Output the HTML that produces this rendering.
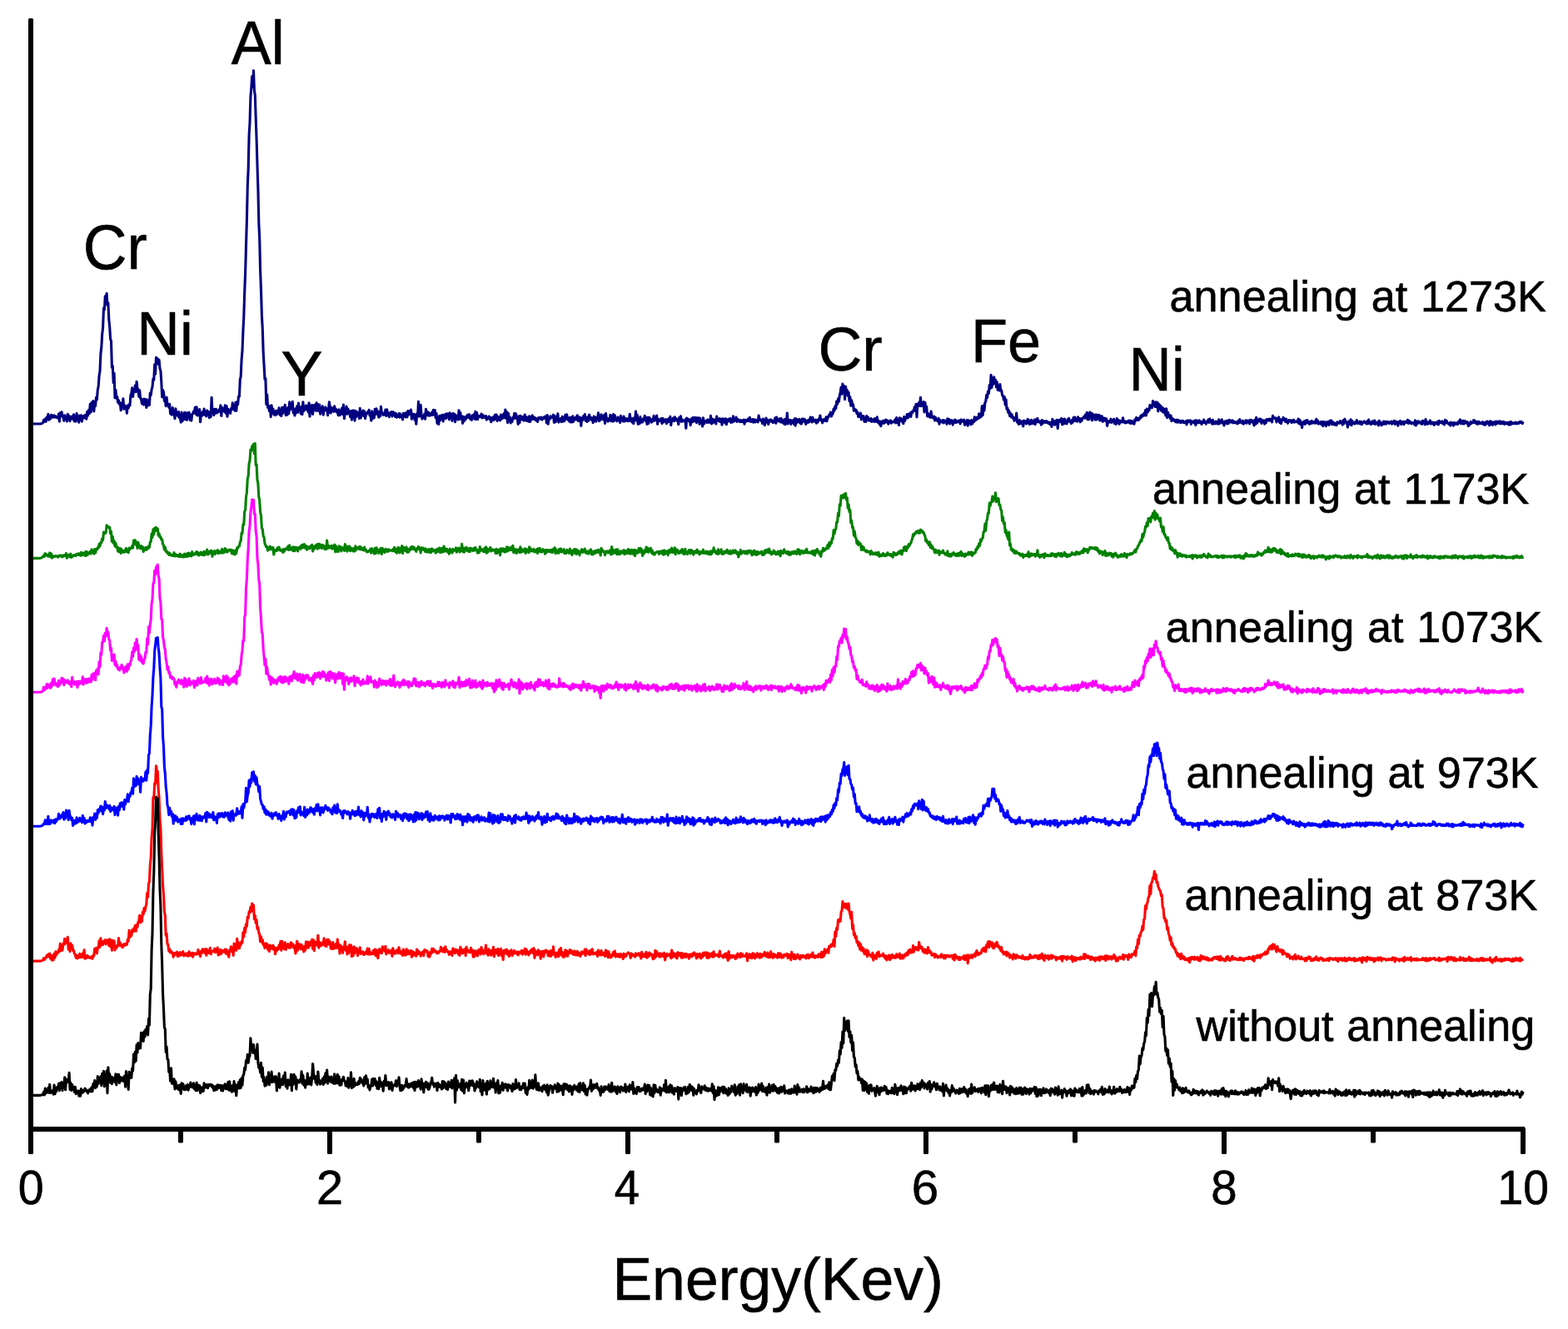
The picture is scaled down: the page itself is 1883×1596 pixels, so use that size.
<!DOCTYPE html>
<html lang="en"><head><meta charset="utf-8"><title>EDS spectra</title>
<style>
html,body{margin:0;padding:0;background:#fff;}
body{width:1883px;height:1596px;overflow:hidden;}
svg{display:block;}
text{font-family:"Liberation Sans",Arial,Helvetica,sans-serif;fill:#000;stroke:#000;stroke-width:0.6px;font-kerning:none;}
.c{fill:none;stroke-linejoin:round;stroke-linecap:butt;}
</style></head><body>
<svg width="1883" height="1596" viewBox="0 0 1883 1596">
<rect width="1883" height="1596" fill="#fff"/>
<polyline class="c" stroke="#000080" stroke-width="3.1" points="37.2,509.0 38.1,509.0 39.0,509.0 39.9,509.0 40.8,509.0 41.7,509.0 42.6,509.0 43.5,509.0 44.4,509.0 45.3,509.0 46.2,509.0 47.1,509.0 48.0,509.0 48.9,508.9 49.8,508.7 50.7,508.3 51.6,507.6 52.5,504.3 53.4,506.3 54.3,503.1 55.2,506.3 56.1,501.0 57.0,503.7 57.9,497.4 58.8,504.2 59.7,501.5 60.6,502.9 61.5,498.2 62.4,500.9 63.3,499.0 64.2,501.2 65.1,498.9 66.0,501.0 66.9,499.9 67.8,501.3 68.7,500.5 69.6,502.1 70.5,497.1 71.4,506.2 72.3,495.9 73.2,499.7 74.1,494.8 75.0,500.3 75.9,500.6 76.8,505.2 77.7,498.7 78.6,502.1 79.5,500.5 80.4,506.0 81.3,497.3 82.2,503.3 83.1,499.6 84.0,505.6 84.9,500.5 85.8,502.4 86.7,500.0 87.6,503.7 88.5,497.8 89.4,506.0 90.3,500.1 91.2,506.0 92.1,496.5 93.0,502.5 93.9,499.7 94.8,507.2 95.7,499.1 96.6,504.5 97.5,498.8 98.4,506.1 99.3,500.3 100.2,501.8 101.1,499.0 102.0,501.9 102.9,498.4 103.8,503.2 104.7,494.5 105.6,499.0 106.5,492.4 107.4,496.4 108.3,485.4 109.2,494.9 110.1,483.3 111.0,490.8 111.9,481.6 112.8,493.9 113.7,485.0 114.6,487.5 115.5,477.3 116.4,480.1 117.3,468.2 118.2,464.0 119.1,451.1 120.0,445.8 120.9,425.0 121.8,417.3 122.7,401.4 123.6,393.8 124.5,370.0 125.4,372.0 126.3,355.7 127.2,357.4 128.1,352.2 129.0,366.3 129.9,363.7 130.8,383.6 131.7,392.7 132.6,406.9 133.5,409.5 134.4,441.1 135.3,439.6 136.2,459.8 137.1,448.4 138.0,477.6 138.9,468.2 139.8,478.4 140.7,476.3 141.6,483.2 142.5,480.8 143.4,485.4 144.3,483.3 145.2,492.8 146.1,486.4 147.0,488.2 147.9,478.9 148.8,491.3 149.7,486.8 150.6,489.9 151.5,488.3 152.4,496.3 153.3,487.0 154.2,490.1 155.1,485.9 156.0,486.8 156.9,474.6 157.8,472.4 158.7,465.9 159.6,476.4 160.5,469.2 161.4,469.3 162.3,463.1 163.2,470.6 164.1,458.2 165.0,466.9 165.9,467.5 166.8,476.3 167.7,468.8 168.6,478.2 169.5,478.9 170.4,484.6 171.3,479.8 172.2,486.0 173.1,479.1 174.0,485.8 174.9,479.5 175.8,489.4 176.7,480.0 177.6,487.0 178.5,481.0 179.4,486.4 180.3,472.0 181.2,474.6 182.1,467.6 183.0,464.7 183.9,455.0 184.8,456.3 185.7,437.7 186.6,449.3 187.5,429.2 188.4,436.2 189.3,430.8 190.2,437.2 191.1,432.3 192.0,442.6 192.9,445.4 193.8,458.5 194.7,476.8 195.6,468.5 196.5,471.0 197.4,481.5 198.3,478.5 199.2,487.6 200.1,477.1 201.0,485.5 201.9,486.3 202.8,489.3 203.7,485.2 204.6,497.0 205.5,492.5 206.4,498.2 207.3,489.5 208.2,497.5 209.1,495.6 210.0,502.7 210.9,490.8 211.8,498.3 212.7,497.0 213.6,499.6 214.5,494.5 215.4,501.7 216.3,500.6 217.2,507.1 218.1,495.1 219.0,505.8 219.9,498.3 220.8,503.5 221.7,495.2 222.6,503.7 223.5,496.1 224.4,504.4 225.3,495.9 226.2,500.5 227.1,495.4 228.0,504.4 228.9,498.4 229.8,505.1 230.7,497.3 231.6,497.1 232.5,493.9 233.4,495.3 234.3,489.3 235.2,497.4 236.1,488.7 237.0,499.0 237.9,495.9 238.8,498.6 239.7,491.5 240.6,506.8 241.5,496.3 242.4,499.6 243.3,494.5 244.2,497.8 245.1,491.1 246.0,498.5 246.9,494.1 247.8,499.9 248.7,493.1 249.6,496.7 250.5,494.4 251.4,501.7 252.3,496.1 253.2,500.4 254.1,477.3 255.0,494.1 255.9,493.6 256.8,498.5 257.7,491.2 258.6,496.3 259.5,491.3 260.4,496.0 261.3,493.5 262.2,494.7 263.1,491.9 264.0,493.9 264.9,486.8 265.8,499.5 266.7,489.6 267.6,493.6 268.5,491.3 269.4,494.3 270.3,486.8 271.2,496.3 272.1,487.5 273.0,500.3 273.9,491.2 274.8,494.4 275.7,493.4 276.6,496.4 277.5,490.6 278.4,492.0 279.3,483.9 280.2,490.9 281.1,486.9 282.0,493.2 282.9,483.4 283.8,493.3 284.7,482.6 285.6,485.8 286.5,476.0 287.4,476.2 288.3,456.0 289.2,452.1 290.1,431.8 291.0,421.3 291.9,398.0 292.8,380.0 293.7,351.1 294.6,328.0 295.5,295.5 296.4,264.9 297.3,223.3 298.2,202.7 299.1,162.4 300.0,147.7 300.9,116.5 301.8,105.8 302.7,91.7 303.6,104.5 304.5,84.9 305.4,108.6 306.3,114.3 307.2,142.0 308.1,167.1 309.0,198.2 309.9,226.5 310.8,267.2 311.7,286.4 312.6,325.5 313.5,348.6 314.4,378.9 315.3,394.8 316.2,423.4 317.1,439.0 318.0,455.3 318.9,454.7 319.8,485.5 320.7,473.7 321.6,489.4 322.5,487.9 323.4,493.4 324.3,487.5 325.2,500.6 326.1,486.7 327.0,495.3 327.9,491.0 328.8,497.8 329.7,494.3 330.6,498.6 331.5,493.4 332.4,497.8 333.3,493.4 334.2,495.7 335.1,489.8 336.0,498.1 336.9,492.6 337.8,499.6 338.7,489.4 339.6,496.4 340.5,489.3 341.4,494.6 342.3,486.3 343.2,498.6 344.1,491.3 345.0,498.1 345.9,489.4 346.8,496.7 347.7,482.8 348.6,492.1 349.5,486.0 350.4,487.6 351.3,482.2 352.2,495.9 353.1,492.3 354.0,499.0 354.9,490.8 355.8,495.8 356.7,487.7 357.6,495.3 358.5,484.1 359.4,492.6 360.3,489.4 361.2,496.9 362.1,488.4 363.0,497.7 363.9,482.8 364.8,493.5 365.7,491.7 366.6,490.0 367.5,487.1 368.4,492.1 369.3,487.2 370.2,494.9 371.1,483.9 372.0,500.2 372.9,487.4 373.8,491.0 374.7,486.5 375.6,497.4 376.5,486.8 377.4,490.0 378.3,486.0 379.2,493.2 380.1,483.9 381.0,493.3 381.9,485.5 382.8,493.7 383.7,486.1 384.6,497.2 385.5,490.4 386.4,492.7 387.3,487.8 388.2,498.2 389.1,490.8 390.0,492.9 390.9,488.9 391.8,492.9 392.7,490.9 393.6,498.8 394.5,492.0 395.4,482.7 396.3,489.8 397.2,496.0 398.1,489.3 399.0,493.1 399.9,490.6 400.8,494.3 401.7,487.7 402.6,493.9 403.5,491.3 404.4,494.8 405.3,493.0 406.2,498.7 407.1,491.7 408.0,498.8 408.9,494.2 409.8,497.3 410.7,490.0 411.6,497.2 412.5,486.1 413.4,502.7 414.3,496.1 415.2,496.2 416.1,488.1 417.0,497.3 417.9,491.1 418.8,495.7 419.7,493.7 420.6,500.6 421.5,493.8 422.4,504.2 423.3,493.1 424.2,500.4 425.1,493.0 426.0,505.1 426.9,493.3 427.8,500.4 428.7,494.8 429.6,498.5 430.5,495.7 431.4,502.5 432.3,490.2 433.2,502.0 434.1,495.8 435.0,497.6 435.9,493.1 436.8,499.6 437.7,493.9 438.6,502.7 439.5,496.7 440.4,497.1 441.3,495.1 442.2,495.5 443.1,492.3 444.0,499.1 444.9,496.5 445.8,505.1 446.7,493.9 447.6,502.8 448.5,497.8 449.4,501.7 450.3,491.3 451.2,497.5 452.1,490.9 453.0,497.1 453.9,494.1 454.8,501.1 455.7,494.6 456.6,499.9 457.5,488.4 458.4,496.1 459.3,495.7 460.2,498.4 461.1,496.5 462.0,498.0 462.9,492.1 463.8,499.5 464.7,491.8 465.6,498.3 466.5,495.6 467.4,500.7 468.3,495.7 469.2,496.3 470.1,494.5 471.0,500.1 471.9,494.8 472.8,498.1 473.7,495.8 474.6,500.4 475.5,496.6 476.4,501.2 477.3,498.7 478.2,500.3 479.1,496.6 480.0,501.3 480.9,496.9 481.8,500.4 482.7,500.0 483.6,503.9 484.5,496.4 485.4,498.9 486.3,496.3 487.2,501.0 488.1,495.6 489.0,500.8 489.9,493.5 490.8,498.1 491.7,493.9 492.6,497.2 493.5,492.1 494.4,503.3 495.3,497.0 496.2,497.7 497.1,497.4 498.0,504.4 498.9,498.3 499.8,509.3 500.7,496.8 501.6,500.1 502.5,482.3 503.4,500.1 504.3,495.9 505.2,486.3 506.1,498.9 507.0,503.1 507.9,500.0 508.8,501.6 509.7,497.4 510.6,503.2 511.5,491.3 512.4,498.7 513.3,494.4 514.2,498.9 515.1,495.5 516.0,499.2 516.9,498.7 517.8,498.5 518.7,495.2 519.6,498.3 520.5,492.3 521.4,498.0 522.3,492.5 523.2,501.8 524.1,496.5 525.0,508.4 525.9,501.5 526.8,509.5 527.7,499.5 528.6,504.8 529.5,499.0 530.4,503.1 531.3,498.3 532.2,506.0 533.1,498.5 534.0,502.3 534.9,497.4 535.8,502.4 536.7,496.8 537.6,498.7 538.5,496.8 539.4,503.8 540.3,495.8 541.2,501.1 542.1,498.0 543.0,505.4 543.9,496.5 544.8,499.6 545.7,497.2 546.6,506.8 547.5,498.9 548.4,502.9 549.3,502.0 550.2,504.0 551.1,492.7 552.0,503.5 552.9,495.5 553.8,501.9 554.7,499.8 555.6,508.4 556.5,500.3 557.4,505.6 558.3,501.4 559.2,503.6 560.1,499.9 561.0,501.5 561.9,498.0 562.8,501.5 563.7,497.8 564.6,503.1 565.5,500.4 566.4,504.4 567.3,498.9 568.2,501.2 569.1,497.9 570.0,503.2 570.9,494.4 571.8,503.6 572.7,495.6 573.6,503.6 574.5,499.6 575.4,500.4 576.3,499.3 577.2,500.7 578.1,497.0 579.0,501.9 579.9,498.6 580.8,501.4 581.7,500.0 582.6,501.5 583.5,499.5 584.4,504.1 585.3,502.1 586.2,502.5 587.1,500.0 588.0,503.4 588.9,501.4 589.8,506.7 590.7,501.7 591.6,504.6 592.5,500.8 593.4,504.3 594.3,498.4 595.2,502.6 596.1,497.9 597.0,505.4 597.9,500.2 598.8,504.1 599.7,501.2 600.6,505.0 601.5,498.1 602.4,503.3 603.3,498.7 604.2,501.9 605.1,496.5 606.0,501.6 606.9,492.0 607.8,502.6 608.7,494.9 609.6,507.6 610.5,496.4 611.4,503.6 612.3,500.9 613.2,508.0 614.1,505.1 615.0,506.4 615.9,501.3 616.8,502.3 617.7,496.4 618.6,502.4 619.5,496.9 620.4,501.6 621.3,501.7 622.2,509.4 623.1,499.8 624.0,507.6 624.9,499.4 625.8,503.5 626.7,500.7 627.6,504.1 628.5,500.3 629.4,505.1 630.3,498.0 631.2,504.7 632.1,500.8 633.0,505.5 633.9,501.2 634.8,506.1 635.7,499.8 636.6,506.5 637.5,500.5 638.4,503.9 639.3,498.9 640.2,502.9 641.1,500.8 642.0,503.8 642.9,501.9 643.8,504.8 644.7,503.0 645.6,506.4 646.5,501.7 647.4,502.9 648.3,501.4 649.2,503.1 650.1,501.2 651.0,504.1 651.9,502.1 652.8,502.5 653.7,500.5 654.6,502.0 655.5,499.9 656.4,507.8 657.3,498.6 658.2,509.3 659.1,502.5 660.0,503.5 660.9,499.8 661.8,501.8 662.7,500.7 663.6,501.2 664.5,498.2 665.4,507.4 666.3,499.6 667.2,506.8 668.1,500.5 669.0,504.1 669.9,496.8 670.8,507.1 671.7,503.8 672.6,505.7 673.5,502.5 674.4,506.6 675.3,500.2 676.2,506.1 677.1,501.6 678.0,505.6 678.9,498.4 679.8,502.6 680.7,497.8 681.6,503.9 682.5,501.7 683.4,505.8 684.3,501.5 685.2,506.9 686.1,501.3 687.0,507.0 687.9,499.9 688.8,506.1 689.7,502.3 690.6,503.7 691.5,501.2 692.4,503.9 693.3,498.7 694.2,505.4 695.1,500.8 696.0,505.4 696.9,501.4 697.8,511.4 698.7,502.1 699.6,504.5 700.5,499.9 701.4,503.0 702.3,497.5 703.2,505.3 704.1,502.0 705.0,506.4 705.9,500.6 706.8,505.1 707.7,498.0 708.6,503.6 709.5,501.2 710.4,504.2 711.3,503.0 712.2,507.6 713.1,500.0 714.0,505.6 714.9,500.9 715.8,506.1 716.7,501.4 717.6,503.2 718.5,495.9 719.4,505.7 720.3,502.6 721.2,504.4 722.1,497.8 723.0,502.6 723.9,499.9 724.8,504.1 725.7,498.4 726.6,508.5 727.5,496.6 728.4,502.2 729.3,502.3 730.2,506.1 731.1,503.2 732.0,504.9 732.9,498.3 733.8,505.5 734.7,499.8 735.6,506.1 736.5,497.6 737.4,505.5 738.3,498.7 739.2,503.9 740.1,502.6 741.0,505.8 741.9,501.0 742.8,504.0 743.7,502.2 744.6,507.5 745.5,499.4 746.4,504.7 747.3,502.2 748.2,505.9 749.1,500.0 750.0,506.0 750.9,502.4 751.8,505.1 752.7,502.8 753.6,505.5 754.5,505.6 755.4,504.7 756.3,497.2 757.2,505.5 758.1,502.2 759.0,506.9 759.9,502.8 760.8,508.8 761.7,501.7 762.6,504.4 763.5,494.1 764.4,505.1 765.3,498.3 766.2,509.4 767.1,505.5 768.0,508.8 768.9,500.6 769.8,507.2 770.7,504.0 771.6,507.0 772.5,502.8 773.4,504.3 774.3,499.2 775.2,505.3 776.1,501.8 777.0,509.4 777.9,501.3 778.8,508.6 779.7,501.3 780.6,503.0 781.5,503.5 782.4,507.2 783.3,503.9 784.2,505.6 785.1,499.4 786.0,505.1 786.9,501.4 787.8,504.4 788.7,499.1 789.6,509.4 790.5,503.2 791.4,505.8 792.3,504.3 793.2,505.7 794.1,502.7 795.0,508.5 795.9,502.2 796.8,506.9 797.7,504.2 798.6,505.7 799.5,503.7 800.4,508.8 801.3,504.1 802.2,507.0 803.1,502.5 804.0,505.9 804.9,500.4 805.8,510.6 806.7,503.7 807.6,504.4 808.5,502.0 809.4,505.7 810.3,500.7 811.2,504.7 812.1,502.6 813.0,505.2 813.9,504.5 814.8,509.7 815.7,501.6 816.6,504.8 817.5,499.7 818.4,506.5 819.3,503.9 820.2,505.7 821.1,505.5 822.0,505.9 822.9,503.8 823.8,514.3 824.7,502.0 825.6,503.6 826.5,503.3 827.4,505.6 828.3,504.5 829.2,510.6 830.1,503.1 831.0,506.9 831.9,501.6 832.8,506.2 833.7,501.5 834.6,505.3 835.5,501.5 836.4,507.6 837.3,501.8 838.2,504.4 839.1,501.8 840.0,509.3 840.9,502.4 841.8,507.5 842.7,505.6 843.6,512.0 844.5,501.9 845.4,509.2 846.3,505.7 847.2,507.0 848.1,505.2 849.0,507.4 849.9,503.9 850.8,507.2 851.7,504.5 852.6,507.2 853.5,499.4 854.4,508.9 855.3,503.0 856.2,507.8 857.1,503.8 858.0,505.6 858.9,504.4 859.8,509.0 860.7,500.0 861.6,504.8 862.5,503.1 863.4,505.9 864.3,502.6 865.2,506.4 866.1,503.6 867.0,510.1 867.9,502.7 868.8,505.8 869.7,503.4 870.6,507.9 871.5,502.9 872.4,509.7 873.3,504.0 874.2,506.1 875.1,503.3 876.0,505.6 876.9,502.6 877.8,507.5 878.7,503.7 879.6,507.0 880.5,499.8 881.4,506.0 882.3,503.1 883.2,505.0 884.1,501.1 885.0,506.5 885.9,503.6 886.8,505.1 887.7,504.6 888.6,506.7 889.5,504.6 890.4,506.5 891.3,505.0 892.2,506.6 893.1,504.2 894.0,509.2 894.9,504.2 895.8,505.8 896.7,504.5 897.6,505.7 898.5,503.2 899.4,505.5 900.3,501.2 901.2,506.2 902.1,504.0 903.0,506.5 903.9,503.6 904.8,507.1 905.7,503.8 906.6,507.0 907.5,504.2 908.4,505.8 909.3,505.0 910.2,506.9 911.1,499.1 912.0,503.3 912.9,503.7 913.8,505.3 914.7,504.5 915.6,508.6 916.5,503.0 917.4,505.1 918.3,510.7 919.2,507.3 920.1,502.1 921.0,506.9 921.9,504.8 922.8,509.6 923.7,504.4 924.6,505.0 925.5,503.9 926.4,506.3 927.3,504.8 928.2,507.6 929.1,506.0 930.0,506.9 930.9,501.8 931.8,508.2 932.7,501.0 933.6,505.5 934.5,503.6 935.4,505.9 936.3,502.8 937.2,506.7 938.1,502.5 939.0,507.3 939.9,505.6 940.8,508.4 941.7,503.9 942.6,509.8 943.5,503.1 944.4,508.9 945.3,496.1 946.2,508.9 947.1,504.5 948.0,505.1 948.9,504.4 949.8,509.4 950.7,505.1 951.6,507.3 952.5,504.9 953.4,509.3 954.3,502.8 955.2,511.2 956.1,502.9 957.0,507.6 957.9,504.3 958.8,506.2 959.7,503.4 960.6,508.0 961.5,504.3 962.4,509.1 963.3,503.1 964.2,506.3 965.1,503.1 966.0,506.2 966.9,503.9 967.8,509.5 968.7,505.5 969.6,507.3 970.5,504.6 971.4,507.1 972.3,504.2 973.2,501.1 974.1,502.9 975.0,507.0 975.9,501.4 976.8,506.1 977.7,504.6 978.6,505.9 979.5,504.1 980.4,508.2 981.3,504.6 982.2,507.0 983.1,503.2 984.0,504.0 984.9,499.0 985.8,504.8 986.7,504.6 987.6,507.8 988.5,503.7 989.4,505.2 990.3,503.5 991.2,505.4 992.1,500.7 993.0,505.7 993.9,500.8 994.8,501.2 995.7,498.2 996.6,498.7 997.5,495.1 998.4,499.9 999.3,497.6 1000.2,496.9 1001.1,491.0 1002.0,493.2 1002.9,487.9 1003.8,490.5 1004.7,482.0 1005.6,485.2 1006.5,478.9 1007.4,482.2 1008.3,475.3 1009.2,471.1 1010.1,465.0 1011.0,473.1 1011.9,461.1 1012.8,468.2 1013.7,463.6 1014.6,479.6 1015.5,464.2 1016.4,469.0 1017.3,468.7 1018.2,475.2 1019.1,471.1 1020.0,481.6 1020.9,476.8 1021.8,487.3 1022.7,480.8 1023.6,486.7 1024.5,485.7 1025.4,493.3 1026.3,491.2 1027.2,493.1 1028.1,492.3 1029.0,496.6 1029.9,494.8 1030.8,500.6 1031.7,497.4 1032.6,500.2 1033.5,496.1 1034.4,504.0 1035.3,499.5 1036.2,502.3 1037.1,499.7 1038.0,506.4 1038.9,503.4 1039.8,506.5 1040.7,499.5 1041.6,504.5 1042.5,501.0 1043.4,505.0 1044.3,503.2 1045.2,505.3 1046.1,502.5 1047.0,506.4 1047.9,504.3 1048.8,505.7 1049.7,503.0 1050.6,506.5 1051.5,502.7 1052.4,506.2 1053.3,500.9 1054.2,507.2 1055.1,505.4 1056.0,509.1 1056.9,506.1 1057.8,511.7 1058.7,506.2 1059.6,508.3 1060.5,505.3 1061.4,508.3 1062.3,505.1 1063.2,507.4 1064.1,504.2 1065.0,506.7 1065.9,505.0 1066.8,509.2 1067.7,506.1 1068.6,507.2 1069.5,504.9 1070.4,508.2 1071.3,506.3 1072.2,506.5 1073.1,507.0 1074.0,506.3 1074.9,503.9 1075.8,507.9 1076.7,501.6 1077.6,507.4 1078.5,505.6 1079.4,510.5 1080.3,501.7 1081.2,503.9 1082.1,502.6 1083.0,506.0 1083.9,504.2 1084.8,508.8 1085.7,500.5 1086.6,505.5 1087.5,502.3 1088.4,502.1 1089.3,497.5 1090.2,502.0 1091.1,497.4 1092.0,500.1 1092.9,496.1 1093.8,500.5 1094.7,494.9 1095.6,495.9 1096.5,493.2 1097.4,493.3 1098.3,488.9 1099.2,493.5 1100.1,485.3 1101.0,501.0 1101.9,485.2 1102.8,485.8 1103.7,483.4 1104.6,487.5 1105.5,477.2 1106.4,487.8 1107.3,483.7 1108.2,487.1 1109.1,482.6 1110.0,495.0 1110.9,483.3 1111.8,491.1 1112.7,488.3 1113.6,499.9 1114.5,496.4 1115.4,500.1 1116.3,499.0 1117.2,501.4 1118.1,494.0 1119.0,501.2 1119.9,500.2 1120.8,501.9 1121.7,500.1 1122.6,505.0 1123.5,501.3 1124.4,504.6 1125.3,503.8 1126.2,505.8 1127.1,502.3 1128.0,509.2 1128.9,504.5 1129.8,506.5 1130.7,505.3 1131.6,507.1 1132.5,504.5 1133.4,507.9 1134.3,504.9 1135.2,506.3 1136.1,505.4 1137.0,509.4 1137.9,502.7 1138.8,507.5 1139.7,503.5 1140.6,508.9 1141.5,504.5 1142.4,506.8 1143.3,504.9 1144.2,510.3 1145.1,505.4 1146.0,507.4 1146.9,504.1 1147.8,507.7 1148.7,505.4 1149.6,507.0 1150.5,505.3 1151.4,506.5 1152.3,504.9 1153.2,509.0 1154.1,504.0 1155.0,506.0 1155.9,505.3 1156.8,506.4 1157.7,504.2 1158.6,510.4 1159.5,506.4 1160.4,508.8 1161.3,504.5 1162.2,511.3 1163.1,504.7 1164.0,508.5 1164.9,506.1 1165.8,509.8 1166.7,504.6 1167.6,509.1 1168.5,505.5 1169.4,506.7 1170.3,500.9 1171.2,505.1 1172.1,501.6 1173.0,503.6 1173.9,501.4 1174.8,502.6 1175.7,496.8 1176.6,501.6 1177.5,497.1 1178.4,500.3 1179.3,487.8 1180.2,498.6 1181.1,487.0 1182.0,493.1 1182.9,483.5 1183.8,481.9 1184.7,474.5 1185.6,477.6 1186.5,470.0 1187.4,472.3 1188.3,462.4 1189.2,466.4 1190.1,450.3 1191.0,465.5 1191.9,453.8 1192.8,461.4 1193.7,452.9 1194.6,457.7 1195.5,456.0 1196.4,464.8 1197.3,458.9 1198.2,468.3 1199.1,464.0 1200.0,469.0 1200.9,461.6 1201.8,469.1 1202.7,468.8 1203.6,474.7 1204.5,475.3 1205.4,480.1 1206.3,476.6 1207.2,486.1 1208.1,479.9 1209.0,491.3 1209.9,490.1 1210.8,495.5 1211.7,493.2 1212.6,499.5 1213.5,496.3 1214.4,500.9 1215.3,498.1 1216.2,502.0 1217.1,501.1 1218.0,505.2 1218.9,502.3 1219.8,504.5 1220.7,496.1 1221.6,507.2 1222.5,505.9 1223.4,509.5 1224.3,504.5 1225.2,508.8 1226.1,506.0 1227.0,508.7 1227.9,506.2 1228.8,511.9 1229.7,505.0 1230.6,506.9 1231.5,505.9 1232.4,509.0 1233.3,506.4 1234.2,503.3 1235.1,506.5 1236.0,509.4 1236.9,505.0 1237.8,509.1 1238.7,504.3 1239.6,508.4 1240.5,506.9 1241.4,508.6 1242.3,504.1 1243.2,509.6 1244.1,503.8 1245.0,506.8 1245.9,502.4 1246.8,506.8 1247.7,505.6 1248.6,507.2 1249.5,506.2 1250.4,510.2 1251.3,504.5 1252.2,508.5 1253.1,505.6 1254.0,507.0 1254.9,505.8 1255.8,507.5 1256.7,505.7 1257.6,507.6 1258.5,506.8 1259.4,508.6 1260.3,507.0 1261.2,509.9 1262.1,508.0 1263.0,512.4 1263.9,503.4 1264.8,508.5 1265.7,506.3 1266.6,510.3 1267.5,505.3 1268.4,507.7 1269.3,504.3 1270.2,514.5 1271.1,504.9 1272.0,505.9 1272.9,504.2 1273.8,506.6 1274.7,502.5 1275.6,509.9 1276.5,503.9 1277.4,508.9 1278.3,503.1 1279.2,508.4 1280.1,506.1 1281.0,508.9 1281.9,503.9 1282.8,506.0 1283.7,502.3 1284.6,506.4 1285.5,505.3 1286.4,508.6 1287.3,504.7 1288.2,507.2 1289.1,501.6 1290.0,505.4 1290.9,501.0 1291.8,505.5 1292.7,503.7 1293.6,506.2 1294.5,500.8 1295.4,504.3 1296.3,502.7 1297.2,506.8 1298.1,502.7 1299.0,505.3 1299.9,502.4 1300.8,501.9 1301.7,500.3 1302.6,502.1 1303.5,498.1 1304.4,501.8 1305.3,495.2 1306.2,503.9 1307.1,496.5 1308.0,503.8 1308.9,495.0 1309.8,500.0 1310.7,496.1 1311.6,504.9 1312.5,497.3 1313.4,501.3 1314.3,499.2 1315.2,504.1 1316.1,497.9 1317.0,504.0 1317.9,498.5 1318.8,502.2 1319.7,498.2 1320.6,504.9 1321.5,499.8 1322.4,504.6 1323.3,499.8 1324.2,506.4 1325.1,502.0 1326.0,505.3 1326.9,502.3 1327.8,504.9 1328.7,503.0 1329.6,511.4 1330.5,506.0 1331.4,507.3 1332.3,505.5 1333.2,506.8 1334.1,503.2 1335.0,507.5 1335.9,505.0 1336.8,505.9 1337.7,503.3 1338.6,508.7 1339.5,505.7 1340.4,509.4 1341.3,502.6 1342.2,507.5 1343.1,504.6 1344.0,509.3 1344.9,505.2 1345.8,507.1 1346.7,506.2 1347.6,506.8 1348.5,501.8 1349.4,507.0 1350.3,505.7 1351.2,507.8 1352.1,506.0 1353.0,507.6 1353.9,506.0 1354.8,506.9 1355.7,505.0 1356.6,508.2 1357.5,505.3 1358.4,508.3 1359.3,505.5 1360.2,508.4 1361.1,507.0 1362.0,509.2 1362.9,503.8 1363.8,505.2 1364.7,501.3 1365.6,504.5 1366.5,502.6 1367.4,504.4 1368.3,501.9 1369.2,502.4 1370.1,499.0 1371.0,500.8 1371.9,498.3 1372.8,499.3 1373.7,496.5 1374.6,498.8 1375.5,492.8 1376.4,498.9 1377.3,491.1 1378.2,495.1 1379.1,493.0 1380.0,492.8 1380.9,486.6 1381.8,489.8 1382.7,487.2 1383.6,489.5 1384.5,481.5 1385.4,484.3 1386.3,483.9 1387.2,488.4 1388.1,482.9 1389.0,488.8 1389.9,483.2 1390.8,493.9 1391.7,485.4 1392.6,487.3 1393.5,487.1 1394.4,493.1 1395.3,488.9 1396.2,494.5 1397.1,490.2 1398.0,495.7 1398.9,491.5 1399.8,499.0 1400.7,490.9 1401.6,501.6 1402.5,495.1 1403.4,499.3 1404.3,498.4 1405.2,502.5 1406.1,499.2 1407.0,505.7 1407.9,502.4 1408.8,504.2 1409.7,503.9 1410.6,505.9 1411.5,504.6 1412.4,506.9 1413.3,504.2 1414.2,507.2 1415.1,504.5 1416.0,506.8 1416.9,505.8 1417.8,507.6 1418.7,505.4 1419.6,506.9 1420.5,505.4 1421.4,507.6 1422.3,506.6 1423.2,507.6 1424.1,505.8 1425.0,509.9 1425.9,505.1 1426.8,506.8 1427.7,505.0 1428.6,506.2 1429.5,504.9 1430.4,509.4 1431.3,506.1 1432.2,507.2 1433.1,505.9 1434.0,507.9 1434.9,505.1 1435.8,510.5 1436.7,504.8 1437.6,508.0 1438.5,505.5 1439.4,507.7 1440.3,504.9 1441.2,507.5 1442.1,506.7 1443.0,509.6 1443.9,506.4 1444.8,507.3 1445.7,504.1 1446.6,507.6 1447.5,507.2 1448.4,509.1 1449.3,506.1 1450.2,506.8 1451.1,503.9 1452.0,507.4 1452.9,503.1 1453.8,506.6 1454.7,506.2 1455.6,509.1 1456.5,504.3 1457.4,508.9 1458.3,507.0 1459.2,508.9 1460.1,506.1 1461.0,508.3 1461.9,506.7 1462.8,509.2 1463.7,503.9 1464.6,508.8 1465.5,507.1 1466.4,507.3 1467.3,503.8 1468.2,508.2 1469.1,507.2 1470.0,511.0 1470.9,506.0 1471.8,507.5 1472.7,505.5 1473.6,508.9 1474.5,505.1 1475.4,508.4 1476.3,504.2 1477.2,506.9 1478.1,505.4 1479.0,507.1 1479.9,504.9 1480.8,507.9 1481.7,506.1 1482.6,507.5 1483.5,506.7 1484.4,508.1 1485.3,507.0 1486.2,508.9 1487.1,505.4 1488.0,507.6 1488.9,503.7 1489.8,507.1 1490.7,506.8 1491.6,508.1 1492.5,505.3 1493.4,509.2 1494.3,507.0 1495.2,507.7 1496.1,504.8 1497.0,508.2 1497.9,505.2 1498.8,506.3 1499.7,505.2 1500.6,508.9 1501.5,504.3 1502.4,506.5 1503.3,504.8 1504.2,507.3 1505.1,505.9 1506.0,511.0 1506.9,504.3 1507.8,509.2 1508.7,501.4 1509.6,508.3 1510.5,504.6 1511.4,505.8 1512.3,503.1 1513.2,506.0 1514.1,503.2 1515.0,508.4 1515.9,504.7 1516.8,506.4 1517.7,505.0 1518.6,509.3 1519.5,504.8 1520.4,507.7 1521.3,503.6 1522.2,504.4 1523.1,503.5 1524.0,505.1 1524.9,503.1 1525.8,504.9 1526.7,503.4 1527.6,506.9 1528.5,499.2 1529.4,501.8 1530.3,501.7 1531.2,502.6 1532.1,501.9 1533.0,506.9 1533.9,503.0 1534.8,503.4 1535.7,500.9 1536.6,507.4 1537.5,503.4 1538.4,508.6 1539.3,504.5 1540.2,504.8 1541.1,501.4 1542.0,504.4 1542.9,503.0 1543.8,506.5 1544.7,503.3 1545.6,505.5 1546.5,508.3 1547.4,505.8 1548.3,504.5 1549.2,505.6 1550.1,504.9 1551.0,507.6 1551.9,504.9 1552.8,506.9 1553.7,504.3 1554.6,507.1 1555.5,506.2 1556.4,506.5 1557.3,505.9 1558.2,507.2 1559.1,503.1 1560.0,508.7 1560.9,504.2 1561.8,509.6 1562.7,506.7 1563.6,513.6 1564.5,507.2 1565.4,508.2 1566.3,505.9 1567.2,509.4 1568.1,505.1 1569.0,507.8 1569.9,504.6 1570.8,507.9 1571.7,507.2 1572.6,509.4 1573.5,506.2 1574.4,508.6 1575.3,505.6 1576.2,508.1 1577.1,506.9 1578.0,507.8 1578.9,506.2 1579.8,508.2 1580.7,503.3 1581.6,507.9 1582.5,505.1 1583.4,509.1 1584.3,507.4 1585.2,508.5 1586.1,506.7 1587.0,509.8 1587.9,506.6 1588.8,511.6 1589.7,506.5 1590.6,509.6 1591.5,507.1 1592.4,511.7 1593.3,506.7 1594.2,509.3 1595.1,506.7 1596.0,510.4 1596.9,505.2 1597.8,508.2 1598.7,504.9 1599.6,509.6 1600.5,506.8 1601.4,509.8 1602.3,507.8 1603.2,510.1 1604.1,508.7 1605.0,510.7 1605.9,506.8 1606.8,508.2 1607.7,507.3 1608.6,508.3 1609.5,505.6 1610.4,507.7 1611.3,506.6 1612.2,510.2 1613.1,504.8 1614.0,508.7 1614.9,503.4 1615.8,506.7 1616.7,506.1 1617.6,508.5 1618.5,513.1 1619.4,508.1 1620.3,505.6 1621.2,509.4 1622.1,503.9 1623.0,510.7 1623.9,505.5 1624.8,508.2 1625.7,507.9 1626.6,509.0 1627.5,506.9 1628.4,508.2 1629.3,504.6 1630.2,508.4 1631.1,507.1 1632.0,508.4 1632.9,506.1 1633.8,509.2 1634.7,506.4 1635.6,509.6 1636.5,507.4 1637.4,507.4 1638.3,505.9 1639.2,507.5 1640.1,507.2 1641.0,509.0 1641.9,505.8 1642.8,508.7 1643.7,504.0 1644.6,508.4 1645.5,507.1 1646.4,509.6 1647.3,506.5 1648.2,508.6 1649.1,505.7 1650.0,508.9 1650.9,505.0 1651.8,509.4 1652.7,508.1 1653.6,508.5 1654.5,506.8 1655.4,510.9 1656.3,505.2 1657.2,508.1 1658.1,507.3 1659.0,510.8 1659.9,507.9 1660.8,509.5 1661.7,506.0 1662.6,509.1 1663.5,506.4 1664.4,509.2 1665.3,506.4 1666.2,507.5 1667.1,506.7 1668.0,508.5 1668.9,507.2 1669.8,507.9 1670.7,506.1 1671.6,509.2 1672.5,506.7 1673.4,507.8 1674.3,505.4 1675.2,509.5 1676.1,506.2 1677.0,508.3 1677.9,506.6 1678.8,511.2 1679.7,506.7 1680.6,507.1 1681.5,505.4 1682.4,509.4 1683.3,506.9 1684.2,508.8 1685.1,506.3 1686.0,509.7 1686.9,506.5 1687.8,507.6 1688.7,506.0 1689.6,507.3 1690.5,504.3 1691.4,508.4 1692.3,505.4 1693.2,508.0 1694.1,506.7 1695.0,508.9 1695.9,508.0 1696.8,508.0 1697.7,507.4 1698.6,509.9 1699.5,504.7 1700.4,511.0 1701.3,506.4 1702.2,508.8 1703.1,505.8 1704.0,507.0 1704.9,507.2 1705.8,508.5 1706.7,506.5 1707.6,509.4 1708.5,505.3 1709.4,507.8 1710.3,505.9 1711.2,509.8 1712.1,503.6 1713.0,509.1 1713.9,507.2 1714.8,509.2 1715.7,506.9 1716.6,508.2 1717.5,504.9 1718.4,509.1 1719.3,507.1 1720.2,508.5 1721.1,507.2 1722.0,510.4 1722.9,507.6 1723.8,509.1 1724.7,507.3 1725.6,508.8 1726.5,506.3 1727.4,509.9 1728.3,505.2 1729.2,507.6 1730.1,507.1 1731.0,507.6 1731.9,505.8 1732.8,508.9 1733.7,507.1 1734.6,510.0 1735.5,504.2 1736.4,507.5 1737.3,505.5 1738.2,508.3 1739.1,508.4 1740.0,509.4 1740.9,507.9 1741.8,511.1 1742.7,507.2 1743.6,508.7 1744.5,507.8 1745.4,511.2 1746.3,507.6 1747.2,509.3 1748.1,508.0 1749.0,509.4 1749.9,507.9 1750.8,509.4 1751.7,506.1 1752.6,507.4 1753.5,503.9 1754.4,508.6 1755.3,505.5 1756.2,508.8 1757.1,505.3 1758.0,509.0 1758.9,505.6 1759.8,508.0 1760.7,506.3 1761.6,508.1 1762.5,507.0 1763.4,511.6 1764.3,509.6 1765.2,509.9 1766.1,506.4 1767.0,508.4 1767.9,507.5 1768.8,507.7 1769.7,504.6 1770.6,507.4 1771.5,505.3 1772.4,508.5 1773.3,506.6 1774.2,509.4 1775.1,506.3 1776.0,508.7 1776.9,506.9 1777.8,508.7 1778.7,508.2 1779.6,508.7 1780.5,506.7 1781.4,509.7 1782.3,507.6 1783.2,510.3 1784.1,507.0 1785.0,509.2 1785.9,506.1 1786.8,507.8 1787.7,507.2 1788.6,510.8 1789.5,505.8 1790.4,509.5 1791.3,506.3 1792.2,510.5 1793.1,507.7 1794.0,508.7 1794.9,506.6 1795.8,509.9 1796.7,506.1 1797.6,508.7 1798.5,506.9 1799.4,508.1 1800.3,505.9 1801.2,508.8 1802.1,506.2 1803.0,508.8 1803.9,506.9 1804.8,508.5 1805.7,506.4 1806.6,509.5 1807.5,507.7 1808.4,508.6 1809.3,507.4 1810.2,509.1 1811.1,507.5 1812.0,510.1 1812.9,506.8 1813.8,510.0 1814.7,506.7 1815.6,509.0 1816.5,507.8 1817.4,508.7 1818.3,507.8 1819.2,508.7 1820.1,507.1 1821.0,508.8 1821.9,507.8 1822.8,508.6 1823.7,507.2 1824.6,508.0 1825.5,506.3 1826.4,507.4 1827.3,506.5 1828.2,508.7 1829.1,506.4"/>
<polyline class="c" stroke="#008000" stroke-width="3.1" points="37.2,670.4 38.1,670.4 39.0,670.4 39.9,670.4 40.8,670.4 41.7,670.4 42.6,670.4 43.5,670.4 44.4,670.4 45.3,670.4 46.2,670.4 47.1,670.4 48.0,670.3 48.9,670.2 49.8,669.9 50.7,669.3 51.6,668.5 52.5,666.9 53.4,668.5 54.3,664.7 55.2,665.4 56.1,666.4 57.0,667.8 57.9,666.4 58.8,668.2 59.7,663.9 60.6,668.6 61.5,664.8 62.4,670.1 63.3,667.2 64.2,668.9 65.1,668.3 66.0,668.3 66.9,667.4 67.8,668.1 68.7,667.9 69.6,669.2 70.5,667.3 71.4,667.8 72.3,666.8 73.2,668.0 74.1,667.2 75.0,668.8 75.9,666.8 76.8,667.7 77.7,666.7 78.6,667.6 79.5,664.6 80.4,670.3 81.3,666.6 82.2,667.6 83.1,666.4 84.0,668.9 84.9,665.2 85.8,669.3 86.7,668.0 87.6,668.1 88.5,666.5 89.4,667.0 90.3,666.4 91.2,667.5 92.1,665.4 93.0,665.9 93.9,664.8 94.8,666.5 95.7,665.0 96.6,667.2 97.5,663.4 98.4,667.0 99.3,663.9 100.2,665.6 101.1,664.5 102.0,667.3 102.9,662.4 103.8,667.2 104.7,662.8 105.6,665.9 106.5,664.4 107.4,664.7 108.3,662.4 109.2,665.0 110.1,659.7 111.0,662.4 111.9,661.7 112.8,665.1 113.7,659.5 114.6,664.1 115.5,659.4 116.4,660.1 117.3,657.7 118.2,658.1 119.1,653.4 120.0,656.0 120.9,651.2 121.8,651.7 122.7,646.9 123.6,648.6 124.5,639.0 125.4,640.6 126.3,640.7 127.2,639.4 128.1,630.9 129.0,633.0 129.9,632.3 130.8,633.8 131.7,633.1 132.6,640.6 133.5,638.3 134.4,650.5 135.3,644.4 136.2,652.4 137.1,649.5 138.0,656.0 138.9,651.9 139.8,657.3 140.7,656.7 141.6,662.1 142.5,658.0 143.4,662.7 144.3,658.4 145.2,664.5 146.1,659.7 147.0,662.8 147.9,662.0 148.8,663.3 149.7,661.1 150.6,662.4 151.5,658.4 152.4,662.5 153.3,660.4 154.2,663.7 155.1,658.1 156.0,659.7 156.9,658.6 157.8,658.0 158.7,655.6 159.6,658.0 160.5,649.0 161.4,652.4 162.3,648.7 163.2,654.1 164.1,651.0 165.0,658.5 165.9,651.4 166.8,655.6 167.7,655.7 168.6,658.9 169.5,655.5 170.4,658.6 171.3,656.6 172.2,662.5 173.1,659.1 174.0,660.4 174.9,657.4 175.8,660.2 176.7,657.3 177.6,659.0 178.5,655.9 179.4,657.4 180.3,650.9 181.2,650.7 182.1,641.1 183.0,645.3 183.9,635.8 184.8,641.7 185.7,634.2 186.6,637.6 187.5,633.2 188.4,637.2 189.3,634.9 190.2,643.2 191.1,640.7 192.0,645.0 192.9,644.6 193.8,648.0 194.7,647.9 195.6,653.3 196.5,654.9 197.4,660.0 198.3,656.9 199.2,662.2 200.1,661.7 201.0,664.2 201.9,663.5 202.8,666.3 203.7,664.2 204.6,666.0 205.5,666.9 206.4,667.3 207.3,666.2 208.2,667.3 209.1,663.7 210.0,668.0 210.9,665.8 211.8,667.6 212.7,666.5 213.6,668.0 214.5,666.6 215.4,668.6 216.3,665.2 217.2,668.3 218.1,667.0 219.0,668.8 219.9,666.4 220.8,668.8 221.7,665.2 222.6,668.3 223.5,665.4 224.4,668.4 225.3,664.5 226.2,667.9 227.1,664.1 228.0,667.3 228.9,665.1 229.8,668.0 230.7,662.6 231.6,666.5 232.5,665.1 233.4,666.0 234.3,664.4 235.2,665.2 236.1,662.4 237.0,665.9 237.9,663.5 238.8,666.9 239.7,664.4 240.6,665.8 241.5,663.1 242.4,666.3 243.3,663.8 244.2,666.7 245.1,662.2 246.0,666.5 246.9,663.4 247.8,664.7 248.7,660.0 249.6,666.0 250.5,662.8 251.4,664.9 252.3,661.9 253.2,663.9 254.1,661.2 255.0,668.3 255.9,663.2 256.8,664.8 257.7,661.6 258.6,665.4 259.5,662.4 260.4,663.2 261.3,660.5 262.2,664.8 263.1,662.1 264.0,663.8 264.9,661.8 265.8,664.0 266.7,659.3 267.6,664.0 268.5,660.6 269.4,663.3 270.3,658.6 271.2,662.5 272.1,660.1 273.0,663.1 273.9,660.9 274.8,661.0 275.7,660.1 276.6,661.4 277.5,660.2 278.4,664.7 279.3,660.8 280.2,665.2 281.1,661.2 282.0,666.0 282.9,661.1 283.8,664.7 284.7,657.7 285.6,658.5 286.5,656.2 287.4,656.0 288.3,651.3 289.2,649.5 290.1,640.1 291.0,640.6 291.9,629.9 292.8,630.2 293.7,614.3 294.6,612.8 295.5,597.2 296.4,591.2 297.3,575.0 298.2,571.6 299.1,556.6 300.0,553.5 300.9,540.1 301.8,541.5 302.7,535.7 303.6,537.4 304.5,533.2 305.4,544.8 306.3,532.5 307.2,558.8 308.1,557.9 309.0,576.3 309.9,580.6 310.8,596.4 311.7,600.9 312.6,614.9 313.5,619.3 314.4,634.4 315.3,635.5 316.2,643.7 317.1,645.1 318.0,652.6 318.9,654.8 319.8,657.0 320.7,656.6 321.6,661.1 322.5,657.9 323.4,660.0 324.3,656.0 325.2,659.6 326.1,657.6 327.0,659.8 327.9,657.5 328.8,666.0 329.7,660.7 330.6,661.8 331.5,660.2 332.4,661.4 333.3,657.9 334.2,660.2 335.1,657.1 336.0,660.9 336.9,660.0 337.8,661.4 338.7,660.5 339.6,663.4 340.5,659.7 341.4,662.2 342.3,659.4 343.2,659.6 344.1,658.3 345.0,659.8 345.9,656.1 346.8,660.5 347.7,654.9 348.6,659.9 349.5,658.3 350.4,660.2 351.3,657.2 352.2,661.6 353.1,656.9 354.0,661.7 354.9,657.2 355.8,659.2 356.7,657.5 357.6,661.9 358.5,657.7 359.4,659.0 360.3,656.6 361.2,659.2 362.1,654.8 363.0,657.7 363.9,654.0 364.8,657.4 365.7,653.7 366.6,658.3 367.5,655.5 368.4,660.3 369.3,656.4 370.2,658.9 371.1,657.0 372.0,658.6 372.9,655.8 373.8,656.9 374.7,654.3 375.6,662.0 376.5,656.6 377.4,659.3 378.3,655.6 379.2,656.4 380.1,654.1 381.0,659.1 381.9,653.2 382.8,658.5 383.7,653.2 384.6,657.1 385.5,654.5 386.4,658.6 387.3,654.4 388.2,657.3 389.1,655.4 390.0,659.6 390.9,657.7 391.8,659.4 392.7,649.1 393.6,658.7 394.5,655.2 395.4,657.9 396.3,656.1 397.2,657.8 398.1,655.3 399.0,659.1 399.9,655.8 400.8,658.6 401.7,654.0 402.6,662.7 403.5,655.7 404.4,662.1 405.3,658.2 406.2,662.4 407.1,655.9 408.0,657.9 408.9,656.7 409.8,662.0 410.7,657.3 411.6,659.2 412.5,658.5 413.4,661.4 414.3,653.6 415.2,660.7 416.1,656.0 417.0,662.3 417.9,657.1 418.8,660.1 419.7,655.9 420.6,661.6 421.5,658.1 422.4,660.8 423.3,658.8 424.2,662.0 425.1,658.7 426.0,662.0 426.9,655.8 427.8,660.5 428.7,658.1 429.6,658.3 430.5,657.2 431.4,659.4 432.3,656.3 433.2,659.8 434.1,657.7 435.0,660.1 435.9,659.0 436.8,660.8 437.7,657.0 438.6,660.8 439.5,660.1 440.4,662.9 441.3,662.1 442.2,662.6 443.1,661.2 444.0,661.3 444.9,659.1 445.8,664.2 446.7,658.8 447.6,661.7 448.5,660.8 449.4,665.0 450.3,658.3 451.2,664.7 452.1,657.9 453.0,661.8 453.9,660.1 454.8,664.4 455.7,660.1 456.6,663.0 457.5,658.2 458.4,665.5 459.3,658.6 460.2,661.3 461.1,660.6 462.0,663.5 462.9,659.2 463.8,662.1 464.7,660.2 465.6,662.4 466.5,659.8 467.4,661.3 468.3,660.8 469.2,660.7 470.1,661.2 471.0,661.7 471.9,659.7 472.8,661.3 473.7,657.2 474.6,662.6 475.5,659.3 476.4,664.3 477.3,662.1 478.2,657.2 479.1,658.2 480.0,664.0 480.9,658.6 481.8,662.1 482.7,655.5 483.6,664.5 484.5,657.2 485.4,660.6 486.3,658.2 487.2,661.5 488.1,656.9 489.0,663.2 489.9,659.7 490.8,663.0 491.7,659.2 492.6,660.5 493.5,657.1 494.4,659.3 495.3,656.4 496.2,659.3 497.1,657.2 498.0,659.9 498.9,659.5 499.8,662.4 500.7,658.2 501.6,659.1 502.5,656.4 503.4,659.4 504.3,658.2 505.2,663.9 506.1,657.7 507.0,660.0 507.9,658.0 508.8,660.4 509.7,658.8 510.6,662.3 511.5,659.1 512.4,662.9 513.3,660.7 514.2,662.8 515.1,659.5 516.0,663.3 516.9,659.8 517.8,663.5 518.7,658.9 519.6,661.8 520.5,660.5 521.4,661.7 522.3,660.5 523.2,664.1 524.1,660.0 525.0,662.8 525.9,659.1 526.8,662.2 527.7,658.0 528.6,663.5 529.5,658.7 530.4,663.2 531.3,658.2 532.2,662.8 533.1,656.0 534.0,662.0 534.9,659.1 535.8,661.9 536.7,659.3 537.6,662.8 538.5,661.2 539.4,665.3 540.3,659.1 541.2,661.9 542.1,661.2 543.0,664.1 543.9,659.4 544.8,661.6 545.7,660.8 546.6,661.0 547.5,657.8 548.4,663.2 549.3,659.1 550.2,660.4 551.1,658.0 552.0,663.1 552.9,659.9 553.8,661.3 554.7,653.3 555.6,662.4 556.5,657.9 557.4,663.1 558.3,658.3 559.2,659.6 560.1,657.1 561.0,661.6 561.9,660.2 562.8,662.4 563.7,658.3 564.6,662.5 565.5,658.3 566.4,660.6 567.3,659.8 568.2,661.4 569.1,658.3 570.0,661.0 570.9,657.6 571.8,659.9 572.7,660.3 573.6,664.2 574.5,660.7 575.4,663.6 576.3,656.5 577.2,661.4 578.1,659.4 579.0,661.0 579.9,660.2 580.8,662.6 581.7,658.5 582.6,662.4 583.5,656.9 584.4,664.2 585.3,658.7 586.2,662.7 587.1,660.1 588.0,660.2 588.9,657.4 589.8,662.0 590.7,659.9 591.6,661.1 592.5,660.0 593.4,661.2 594.3,660.3 595.2,664.4 596.1,659.2 597.0,664.4 597.9,660.5 598.8,662.7 599.7,659.9 600.6,666.7 601.5,658.9 602.4,662.0 603.3,658.9 604.2,662.0 605.1,658.9 606.0,662.9 606.9,660.4 607.8,662.3 608.7,656.7 609.6,661.9 610.5,657.5 611.4,660.8 612.3,658.4 613.2,660.5 614.1,657.2 615.0,660.7 615.9,655.3 616.8,663.6 617.7,659.2 618.6,663.1 619.5,660.0 620.4,664.5 621.3,659.9 622.2,661.2 623.1,660.1 624.0,663.5 624.9,656.8 625.8,663.3 626.7,659.5 627.6,662.4 628.5,660.3 629.4,662.0 630.3,658.8 631.2,664.4 632.1,659.2 633.0,662.0 633.9,661.5 634.8,663.6 635.7,656.8 636.6,662.2 637.5,659.0 638.4,661.0 639.3,661.9 640.2,661.4 641.1,659.3 642.0,662.9 642.9,661.3 643.8,662.4 644.7,659.5 645.6,664.4 646.5,658.7 647.4,662.2 648.3,658.4 649.2,662.8 650.1,660.7 651.0,662.9 651.9,659.7 652.8,661.7 653.7,661.1 654.6,665.2 655.5,660.4 656.4,663.4 657.3,660.5 658.2,662.0 659.1,660.7 660.0,662.7 660.9,660.6 661.8,662.8 662.7,660.2 663.6,663.5 664.5,659.2 665.4,661.6 666.3,657.7 667.2,664.8 668.1,660.1 669.0,663.8 669.9,662.2 670.8,664.3 671.7,659.4 672.6,662.6 673.5,658.9 674.4,663.0 675.3,661.3 676.2,662.1 677.1,659.5 678.0,664.8 678.9,662.7 679.8,664.5 680.7,660.3 681.6,663.3 682.5,661.6 683.4,664.4 684.3,659.1 685.2,663.9 686.1,660.9 687.0,666.4 687.9,661.4 688.8,662.1 689.7,659.6 690.6,664.6 691.5,659.5 692.4,665.4 693.3,660.5 694.2,662.2 695.1,662.1 696.0,666.8 696.9,662.4 697.8,662.3 698.7,659.6 699.6,663.5 700.5,661.2 701.4,662.1 702.3,659.0 703.2,663.9 704.1,661.7 705.0,664.6 705.9,662.3 706.8,665.1 707.7,661.3 708.6,663.1 709.5,659.8 710.4,665.8 711.3,662.3 712.2,665.9 713.1,662.3 714.0,664.5 714.9,661.4 715.8,663.8 716.7,661.0 717.6,663.2 718.5,660.3 719.4,663.2 720.3,661.0 721.2,667.0 722.1,658.4 723.0,661.4 723.9,660.9 724.8,662.8 725.7,663.1 726.6,666.6 727.5,662.1 728.4,662.9 729.3,661.9 730.2,664.0 731.1,662.0 732.0,663.6 732.9,660.7 733.8,666.0 734.7,656.5 735.6,665.0 736.5,660.3 737.4,663.9 738.3,661.2 739.2,664.1 740.1,659.9 741.0,665.6 741.9,659.7 742.8,665.6 743.7,662.7 744.6,665.3 745.5,661.9 746.4,662.0 747.3,664.1 748.2,662.3 749.1,660.7 750.0,665.6 750.9,661.4 751.8,664.7 752.7,661.3 753.6,664.3 754.5,659.4 755.4,664.6 756.3,660.8 757.2,665.3 758.1,660.3 759.0,664.1 759.9,660.6 760.8,665.8 761.7,660.3 762.6,667.5 763.5,660.8 764.4,664.3 765.3,661.9 766.2,663.9 767.1,658.6 768.0,662.7 768.9,658.2 769.8,662.9 770.7,659.7 771.6,667.4 772.5,662.2 773.4,664.8 774.3,660.7 775.2,662.8 776.1,657.0 777.0,662.6 777.9,658.0 778.8,663.2 779.7,659.4 780.6,661.0 781.5,658.3 782.4,664.0 783.3,661.1 784.2,665.4 785.1,663.8 786.0,666.1 786.9,663.7 787.8,663.7 788.7,662.7 789.6,663.0 790.5,662.4 791.4,665.5 792.3,662.4 793.2,663.5 794.1,661.8 795.0,664.8 795.9,661.6 796.8,666.3 797.7,660.8 798.6,665.4 799.5,662.1 800.4,663.7 801.3,661.9 802.2,666.7 803.1,660.9 804.0,663.6 804.9,660.3 805.8,663.1 806.7,658.0 807.6,663.4 808.5,662.0 809.4,663.4 810.3,657.8 811.2,665.7 812.1,659.7 813.0,662.8 813.9,660.6 814.8,664.5 815.7,662.9 816.6,664.0 817.5,661.1 818.4,662.6 819.3,659.6 820.2,664.8 821.1,661.9 822.0,665.6 822.9,659.3 823.8,664.8 824.7,664.0 825.6,665.5 826.5,662.5 827.4,660.6 828.3,660.5 829.2,665.0 830.1,660.6 831.0,662.9 831.9,661.6 832.8,666.2 833.7,662.7 834.6,663.8 835.5,661.5 836.4,664.0 837.3,660.2 838.2,663.6 839.1,662.5 840.0,665.8 840.9,662.5 841.8,664.3 842.7,662.8 843.6,664.1 844.5,660.1 845.4,664.4 846.3,662.9 847.2,664.0 848.1,662.1 849.0,665.1 849.9,662.5 850.8,665.2 851.7,662.9 852.6,666.0 853.5,661.7 854.4,665.5 855.3,661.8 856.2,663.2 857.1,657.9 858.0,662.3 858.9,661.3 859.8,664.5 860.7,663.1 861.6,665.4 862.5,659.7 863.4,665.0 864.3,662.4 865.2,662.9 866.1,659.8 867.0,665.2 867.9,662.9 868.8,665.2 869.7,662.4 870.6,664.1 871.5,661.9 872.4,663.2 873.3,660.3 874.2,664.3 875.1,662.3 876.0,665.1 876.9,661.3 877.8,665.1 878.7,662.9 879.6,664.1 880.5,660.9 881.4,664.0 882.3,662.8 883.2,660.9 884.1,663.8 885.0,665.2 885.9,663.1 886.8,669.0 887.7,663.6 888.6,665.1 889.5,660.4 890.4,665.1 891.3,663.1 892.2,663.1 893.1,661.8 894.0,664.3 894.9,662.3 895.8,664.8 896.7,661.8 897.6,664.9 898.5,661.8 899.4,662.9 900.3,661.2 901.2,664.1 902.1,661.8 903.0,666.8 903.9,662.4 904.8,665.7 905.7,661.1 906.6,665.6 907.5,662.6 908.4,666.5 909.3,662.4 910.2,665.6 911.1,663.2 912.0,664.5 912.9,663.3 913.8,664.3 914.7,662.2 915.6,666.5 916.5,664.1 917.4,666.1 918.3,661.0 919.2,664.5 920.1,660.6 921.0,663.0 921.9,660.1 922.8,663.7 923.7,659.1 924.6,663.7 925.5,662.5 926.4,665.8 927.3,663.6 928.2,664.7 929.1,661.0 930.0,664.5 930.9,662.7 931.8,665.9 932.7,663.4 933.6,665.2 934.5,662.2 935.4,665.7 936.3,662.2 937.2,667.7 938.1,661.4 939.0,663.9 939.9,662.9 940.8,664.5 941.7,659.8 942.6,663.1 943.5,662.7 944.4,664.5 945.3,662.7 946.2,665.5 947.1,662.5 948.0,666.4 948.9,664.0 949.8,665.9 950.7,662.8 951.6,664.6 952.5,662.7 953.4,664.8 954.3,662.0 955.2,664.3 956.1,663.0 957.0,665.4 957.9,659.9 958.8,663.8 959.7,660.0 960.6,665.8 961.5,661.9 962.4,663.5 963.3,661.4 964.2,664.4 965.1,663.4 966.0,663.8 966.9,661.0 967.8,663.6 968.7,659.2 969.6,663.9 970.5,662.8 971.4,663.9 972.3,663.8 973.2,664.2 974.1,662.5 975.0,664.7 975.9,661.6 976.8,666.0 977.7,661.6 978.6,667.0 979.5,661.0 980.4,663.8 981.3,659.6 982.2,662.2 983.1,661.8 984.0,665.6 984.9,665.9 985.8,668.3 986.7,661.7 987.6,662.7 988.5,658.2 989.4,661.6 990.3,659.7 991.2,660.3 992.1,658.0 993.0,658.6 993.9,654.5 994.8,658.4 995.7,651.9 996.6,655.8 997.5,650.9 998.4,652.4 999.3,646.6 1000.2,647.2 1001.1,636.6 1002.0,641.1 1002.9,636.6 1003.8,635.2 1004.7,627.0 1005.6,627.0 1006.5,616.4 1007.4,619.7 1008.3,605.8 1009.2,607.5 1010.1,595.4 1011.0,598.1 1011.9,594.7 1012.8,598.0 1013.7,593.8 1014.6,597.3 1015.5,592.4 1016.4,600.0 1017.3,597.9 1018.2,610.2 1019.1,605.8 1020.0,614.6 1020.9,612.5 1021.8,627.8 1022.7,625.2 1023.6,633.6 1024.5,633.4 1025.4,643.1 1026.3,638.1 1027.2,645.2 1028.1,646.4 1029.0,652.8 1029.9,649.5 1030.8,654.4 1031.7,651.5 1032.6,653.5 1033.5,653.1 1034.4,660.5 1035.3,655.7 1036.2,660.3 1037.1,657.1 1038.0,660.8 1038.9,661.0 1039.8,662.3 1040.7,661.0 1041.6,663.0 1042.5,662.1 1043.4,662.8 1044.3,662.4 1045.2,665.8 1046.1,661.5 1047.0,664.9 1047.9,663.6 1048.8,665.6 1049.7,665.1 1050.6,665.5 1051.5,663.7 1052.4,665.9 1053.3,664.0 1054.2,666.6 1055.1,663.2 1056.0,668.3 1056.9,666.1 1057.8,667.7 1058.7,666.0 1059.6,667.3 1060.5,664.5 1061.4,667.1 1062.3,666.2 1063.2,667.6 1064.1,665.8 1065.0,666.8 1065.9,663.8 1066.8,665.9 1067.7,665.5 1068.6,667.0 1069.5,665.6 1070.4,667.7 1071.3,666.1 1072.2,669.2 1073.1,663.3 1074.0,666.3 1074.9,664.7 1075.8,666.5 1076.7,664.8 1077.6,665.8 1078.5,663.4 1079.4,664.5 1080.3,661.9 1081.2,664.5 1082.1,661.1 1083.0,665.9 1083.9,661.9 1084.8,661.8 1085.7,657.1 1086.6,660.9 1087.5,656.2 1088.4,661.6 1089.3,657.0 1090.2,658.0 1091.1,653.7 1092.0,655.6 1092.9,652.7 1093.8,652.7 1094.7,649.3 1095.6,646.9 1096.5,641.7 1097.4,643.4 1098.3,640.5 1099.2,641.0 1100.1,638.7 1101.0,639.1 1101.9,637.6 1102.8,640.1 1103.7,637.6 1104.6,640.1 1105.5,636.2 1106.4,638.2 1107.3,637.2 1108.2,639.8 1109.1,639.2 1110.0,641.8 1110.9,643.7 1111.8,649.8 1112.7,648.1 1113.6,652.0 1114.5,650.9 1115.4,654.5 1116.3,650.8 1117.2,657.4 1118.1,653.9 1119.0,658.5 1119.9,656.5 1120.8,659.5 1121.7,660.1 1122.6,663.5 1123.5,660.0 1124.4,663.8 1125.3,661.8 1126.2,662.7 1127.1,661.0 1128.0,666.3 1128.9,662.3 1129.8,664.0 1130.7,663.1 1131.6,663.6 1132.5,661.0 1133.4,664.3 1134.3,664.1 1135.2,666.0 1136.1,664.9 1137.0,666.7 1137.9,661.8 1138.8,667.5 1139.7,665.4 1140.6,668.1 1141.5,665.7 1142.4,667.9 1143.3,664.9 1144.2,665.8 1145.1,663.5 1146.0,666.2 1146.9,665.5 1147.8,667.3 1148.7,665.2 1149.6,667.3 1150.5,664.6 1151.4,667.4 1152.3,664.0 1153.2,666.6 1154.1,662.4 1155.0,667.5 1155.9,664.7 1156.8,667.0 1157.7,665.8 1158.6,668.4 1159.5,665.0 1160.4,666.8 1161.3,665.4 1162.2,665.7 1163.1,663.2 1164.0,666.1 1164.9,663.4 1165.8,665.7 1166.7,662.9 1167.6,667.4 1168.5,663.9 1169.4,665.0 1170.3,663.9 1171.2,663.9 1172.1,659.3 1173.0,660.1 1173.9,656.7 1174.8,657.8 1175.7,652.8 1176.6,655.4 1177.5,648.0 1178.4,650.0 1179.3,646.6 1180.2,646.3 1181.1,638.7 1182.0,638.5 1182.9,629.1 1183.8,637.2 1184.7,625.9 1185.6,623.2 1186.5,616.0 1187.4,616.2 1188.3,604.0 1189.2,607.3 1190.1,603.6 1191.0,602.3 1191.9,596.0 1192.8,602.0 1193.7,597.0 1194.6,599.1 1195.5,591.8 1196.4,602.8 1197.3,598.3 1198.2,601.7 1199.1,598.7 1200.0,606.7 1200.9,606.4 1201.8,611.9 1202.7,613.2 1203.6,625.5 1204.5,621.1 1205.4,629.1 1206.3,627.5 1207.2,639.4 1208.1,636.5 1209.0,642.7 1209.9,644.6 1210.8,647.8 1211.7,639.0 1212.6,654.9 1213.5,653.4 1214.4,660.4 1215.3,659.4 1216.2,661.9 1217.1,660.1 1218.0,664.1 1218.9,661.8 1219.8,664.5 1220.7,662.2 1221.6,664.3 1222.5,664.1 1223.4,665.1 1224.3,664.5 1225.2,667.1 1226.1,666.1 1227.0,667.2 1227.9,665.2 1228.8,669.4 1229.7,666.9 1230.6,667.6 1231.5,666.3 1232.4,667.7 1233.3,665.8 1234.2,667.6 1235.1,662.8 1236.0,668.9 1236.9,665.2 1237.8,667.4 1238.7,664.9 1239.6,667.0 1240.5,665.5 1241.4,666.2 1242.3,665.3 1243.2,668.2 1244.1,665.3 1245.0,667.0 1245.9,660.9 1246.8,667.4 1247.7,666.3 1248.6,669.3 1249.5,666.6 1250.4,668.5 1251.3,666.1 1252.2,666.7 1253.1,665.7 1254.0,669.8 1254.9,664.7 1255.8,667.5 1256.7,666.5 1257.6,667.6 1258.5,666.5 1259.4,667.7 1260.3,667.1 1261.2,667.6 1262.1,665.0 1263.0,667.6 1263.9,664.7 1264.8,666.1 1265.7,665.7 1266.6,668.2 1267.5,665.7 1268.4,668.6 1269.3,665.3 1270.2,665.9 1271.1,664.3 1272.0,667.0 1272.9,665.0 1273.8,668.1 1274.7,664.4 1275.6,668.1 1276.5,666.3 1277.4,666.9 1278.3,663.3 1279.2,667.3 1280.1,665.1 1281.0,668.7 1281.9,666.3 1282.8,668.2 1283.7,666.0 1284.6,667.6 1285.5,666.1 1286.4,666.7 1287.3,663.6 1288.2,665.6 1289.1,665.3 1290.0,665.9 1290.9,664.4 1291.8,666.2 1292.7,662.7 1293.6,664.8 1294.5,663.5 1295.4,665.5 1296.3,663.7 1297.2,664.9 1298.1,662.9 1299.0,663.3 1299.9,661.0 1300.8,664.0 1301.7,658.8 1302.6,662.0 1303.5,659.7 1304.4,661.0 1305.3,659.7 1306.2,663.8 1307.1,659.9 1308.0,660.3 1308.9,657.3 1309.8,658.5 1310.7,657.4 1311.6,658.4 1312.5,657.9 1313.4,658.8 1314.3,657.8 1315.2,659.7 1316.1,657.4 1317.0,660.4 1317.9,658.4 1318.8,662.5 1319.7,661.2 1320.6,664.8 1321.5,661.9 1322.4,663.2 1323.3,662.5 1324.2,666.6 1325.1,663.9 1326.0,664.2 1326.9,661.5 1327.8,667.5 1328.7,664.0 1329.6,667.2 1330.5,665.2 1331.4,666.6 1332.3,664.0 1333.2,665.6 1334.1,664.3 1335.0,668.2 1335.9,665.4 1336.8,669.1 1337.7,665.3 1338.6,666.8 1339.5,664.0 1340.4,667.1 1341.3,666.3 1342.2,669.3 1343.1,669.2 1344.0,667.8 1344.9,666.9 1345.8,668.3 1346.7,665.6 1347.6,668.0 1348.5,667.5 1349.4,668.2 1350.3,664.5 1351.2,667.4 1352.1,665.8 1353.0,669.7 1353.9,665.5 1354.8,666.3 1355.7,665.5 1356.6,666.2 1357.5,664.5 1358.4,665.7 1359.3,664.5 1360.2,664.9 1361.1,663.4 1362.0,663.1 1362.9,660.5 1363.8,663.1 1364.7,659.0 1365.6,659.0 1366.5,655.8 1367.4,655.1 1368.3,652.4 1369.2,650.9 1370.1,648.6 1371.0,650.0 1371.9,641.6 1372.8,645.2 1373.7,640.6 1374.6,639.0 1375.5,632.2 1376.4,633.0 1377.3,627.5 1378.2,631.5 1379.1,622.6 1380.0,625.5 1380.9,622.3 1381.8,626.9 1382.7,620.3 1383.6,621.1 1384.5,616.3 1385.4,621.9 1386.3,613.6 1387.2,624.1 1388.1,616.1 1389.0,622.3 1389.9,618.1 1390.8,623.0 1391.7,623.2 1392.6,626.1 1393.5,622.1 1394.4,632.9 1395.3,632.0 1396.2,638.5 1397.1,632.7 1398.0,641.8 1398.9,641.4 1399.8,644.8 1400.7,646.2 1401.6,648.4 1402.5,645.6 1403.4,651.9 1404.3,652.3 1405.2,659.1 1406.1,656.5 1407.0,660.0 1407.9,658.4 1408.8,661.5 1409.7,661.0 1410.6,664.4 1411.5,660.6 1412.4,665.0 1413.3,663.7 1414.2,669.2 1415.1,664.8 1416.0,667.6 1416.9,664.8 1417.8,667.4 1418.7,666.0 1419.6,668.4 1420.5,666.5 1421.4,667.5 1422.3,666.8 1423.2,668.3 1424.1,667.0 1425.0,669.1 1425.9,667.9 1426.8,668.3 1427.7,667.8 1428.6,668.7 1429.5,667.4 1430.4,668.8 1431.3,666.9 1432.2,670.9 1433.1,666.9 1434.0,668.3 1434.9,666.8 1435.8,668.4 1436.7,667.0 1437.6,670.0 1438.5,667.8 1439.4,668.7 1440.3,667.3 1441.2,669.1 1442.1,667.1 1443.0,669.4 1443.9,667.3 1444.8,667.9 1445.7,665.4 1446.6,666.5 1447.5,667.9 1448.4,669.1 1449.3,668.3 1450.2,669.8 1451.1,665.1 1452.0,667.7 1452.9,666.5 1453.8,668.8 1454.7,667.9 1455.6,668.8 1456.5,668.3 1457.4,668.7 1458.3,667.8 1459.2,668.0 1460.1,667.3 1461.0,669.0 1461.9,667.3 1462.8,669.7 1463.7,668.0 1464.6,669.0 1465.5,667.9 1466.4,668.7 1467.3,667.5 1468.2,669.9 1469.1,667.2 1470.0,669.6 1470.9,667.7 1471.8,668.1 1472.7,668.0 1473.6,669.0 1474.5,667.8 1475.4,668.7 1476.3,667.9 1477.2,668.8 1478.1,667.9 1479.0,669.1 1479.9,668.1 1480.8,668.1 1481.7,667.7 1482.6,669.3 1483.5,667.1 1484.4,669.5 1485.3,667.9 1486.2,668.7 1487.1,667.1 1488.0,668.5 1488.9,666.8 1489.8,670.2 1490.7,668.3 1491.6,670.1 1492.5,667.9 1493.4,670.9 1494.3,667.2 1495.2,668.6 1496.1,664.5 1497.0,667.4 1497.9,666.0 1498.8,668.0 1499.7,667.3 1500.6,668.1 1501.5,666.7 1502.4,667.6 1503.3,666.5 1504.2,668.2 1505.1,667.1 1506.0,668.3 1506.9,666.7 1507.8,667.8 1508.7,666.6 1509.6,667.2 1510.5,663.1 1511.4,665.7 1512.3,664.9 1513.2,665.9 1514.1,664.9 1515.0,667.2 1515.9,665.2 1516.8,665.5 1517.7,663.1 1518.6,663.7 1519.5,661.0 1520.4,662.8 1521.3,661.1 1522.2,662.7 1523.1,657.3 1524.0,662.6 1524.9,659.4 1525.8,663.1 1526.7,660.6 1527.6,662.8 1528.5,658.9 1529.4,661.2 1530.3,658.4 1531.2,661.1 1532.1,659.5 1533.0,663.2 1533.9,661.3 1534.8,663.8 1535.7,661.1 1536.6,663.7 1537.5,659.5 1538.4,665.5 1539.3,660.5 1540.2,664.5 1541.1,663.0 1542.0,665.4 1542.9,664.3 1543.8,666.6 1544.7,665.6 1545.6,667.8 1546.5,664.5 1547.4,668.4 1548.3,666.8 1549.2,667.4 1550.1,666.9 1551.0,667.8 1551.9,665.8 1552.8,667.7 1553.7,666.9 1554.6,667.6 1555.5,665.1 1556.4,666.2 1557.3,665.7 1558.2,667.7 1559.1,665.1 1560.0,668.2 1560.9,665.7 1561.8,667.9 1562.7,667.2 1563.6,669.5 1564.5,665.9 1565.4,669.0 1566.3,666.1 1567.2,668.7 1568.1,667.6 1569.0,669.3 1569.9,667.7 1570.8,668.4 1571.7,666.5 1572.6,669.3 1573.5,667.6 1574.4,670.6 1575.3,668.5 1576.2,669.1 1577.1,667.7 1578.0,670.8 1578.9,668.1 1579.8,669.0 1580.7,668.6 1581.6,669.9 1582.5,667.9 1583.4,668.4 1584.3,667.1 1585.2,668.8 1586.1,668.3 1587.0,669.0 1587.9,666.9 1588.8,669.1 1589.7,667.3 1590.6,669.1 1591.5,669.2 1592.4,671.9 1593.3,668.6 1594.2,669.8 1595.1,668.6 1596.0,671.0 1596.9,667.7 1597.8,669.4 1598.7,668.4 1599.6,668.9 1600.5,668.0 1601.4,669.6 1602.3,667.4 1603.2,668.0 1604.1,666.9 1605.0,668.1 1605.9,667.8 1606.8,669.1 1607.7,667.5 1608.6,668.4 1609.5,668.1 1610.4,670.2 1611.3,668.7 1612.2,669.7 1613.1,669.0 1614.0,669.3 1614.9,667.6 1615.8,669.9 1616.7,668.3 1617.6,669.8 1618.5,667.4 1619.4,668.9 1620.3,668.3 1621.2,670.2 1622.1,666.4 1623.0,668.9 1623.9,668.5 1624.8,670.4 1625.7,667.8 1626.6,668.7 1627.5,668.0 1628.4,668.6 1629.3,667.5 1630.2,670.1 1631.1,667.0 1632.0,668.5 1632.9,668.3 1633.8,669.3 1634.7,668.2 1635.6,669.8 1636.5,668.6 1637.4,668.8 1638.3,667.8 1639.2,668.6 1640.1,668.1 1641.0,668.5 1641.9,665.5 1642.8,669.4 1643.7,667.3 1644.6,669.4 1645.5,668.6 1646.4,669.4 1647.3,668.7 1648.2,670.6 1649.1,668.7 1650.0,668.9 1650.9,667.6 1651.8,669.4 1652.7,667.6 1653.6,670.2 1654.5,666.2 1655.4,669.3 1656.3,668.8 1657.2,670.8 1658.1,667.0 1659.0,669.6 1659.9,667.5 1660.8,669.3 1661.7,667.7 1662.6,669.9 1663.5,668.5 1664.4,669.8 1665.3,667.1 1666.2,669.0 1667.1,666.9 1668.0,670.2 1668.9,667.0 1669.8,669.6 1670.7,669.1 1671.6,670.4 1672.5,668.9 1673.4,670.1 1674.3,668.5 1675.2,669.4 1676.1,667.3 1677.0,669.0 1677.9,668.1 1678.8,669.9 1679.7,668.3 1680.6,669.0 1681.5,667.8 1682.4,668.8 1683.3,667.7 1684.2,670.8 1685.1,667.7 1686.0,671.0 1686.9,667.0 1687.8,668.5 1688.7,666.8 1689.6,670.5 1690.5,667.7 1691.4,668.6 1692.3,668.3 1693.2,669.1 1694.1,665.9 1695.0,668.9 1695.9,668.5 1696.8,670.6 1697.7,668.1 1698.6,669.0 1699.5,667.3 1700.4,668.9 1701.3,666.7 1702.2,669.6 1703.1,668.5 1704.0,668.7 1704.9,667.9 1705.8,669.0 1706.7,668.0 1707.6,669.3 1708.5,667.2 1709.4,668.7 1710.3,667.7 1711.2,669.2 1712.1,668.6 1713.0,669.6 1713.9,667.4 1714.8,670.8 1715.7,668.2 1716.6,669.4 1717.5,667.7 1718.4,669.5 1719.3,668.3 1720.2,669.8 1721.1,668.7 1722.0,669.7 1722.9,667.7 1723.8,668.9 1724.7,668.8 1725.6,669.6 1726.5,668.7 1727.4,670.0 1728.3,668.5 1729.2,670.8 1730.1,668.0 1731.0,669.5 1731.9,668.9 1732.8,670.1 1733.7,668.0 1734.6,669.9 1735.5,667.9 1736.4,668.6 1737.3,668.0 1738.2,669.5 1739.1,668.5 1740.0,669.3 1740.9,668.8 1741.8,669.6 1742.7,668.4 1743.6,670.1 1744.5,667.6 1745.4,669.6 1746.3,667.4 1747.2,669.8 1748.1,667.0 1749.0,669.3 1749.9,668.8 1750.8,670.3 1751.7,668.1 1752.6,668.7 1753.5,667.8 1754.4,668.8 1755.3,668.2 1756.2,669.9 1757.1,667.9 1758.0,671.0 1758.9,668.7 1759.8,669.2 1760.7,668.8 1761.6,669.5 1762.5,668.2 1763.4,669.8 1764.3,668.0 1765.2,669.3 1766.1,667.7 1767.0,670.5 1767.9,668.9 1768.8,669.5 1769.7,667.3 1770.6,669.2 1771.5,667.4 1772.4,669.1 1773.3,668.3 1774.2,668.8 1775.1,667.4 1776.0,669.8 1776.9,668.1 1777.8,669.9 1778.7,667.0 1779.6,669.8 1780.5,667.8 1781.4,670.4 1782.3,668.6 1783.2,669.3 1784.1,668.6 1785.0,669.5 1785.9,668.2 1786.8,669.0 1787.7,668.0 1788.6,670.0 1789.5,667.8 1790.4,669.4 1791.3,668.7 1792.2,669.6 1793.1,667.0 1794.0,668.3 1794.9,667.4 1795.8,668.2 1796.7,668.0 1797.6,669.6 1798.5,667.8 1799.4,669.4 1800.3,668.5 1801.2,669.3 1802.1,668.7 1803.0,670.0 1803.9,667.5 1804.8,669.5 1805.7,668.3 1806.6,669.4 1807.5,668.6 1808.4,670.1 1809.3,669.2 1810.2,669.7 1811.1,669.1 1812.0,669.5 1812.9,669.0 1813.8,669.8 1814.7,669.0 1815.6,669.8 1816.5,668.6 1817.4,670.5 1818.3,668.2 1819.2,669.7 1820.1,667.8 1821.0,669.1 1821.9,667.4 1822.8,669.4 1823.7,668.7 1824.6,669.9 1825.5,668.7 1826.4,669.5 1827.3,667.6 1828.2,669.7 1829.1,668.6"/>
<polyline class="c" stroke="#ff00ff" stroke-width="3.1" points="37.2,831.3 38.1,831.3 39.0,831.3 39.9,831.3 40.8,831.3 41.7,831.3 42.6,831.3 43.5,831.3 44.4,831.3 45.3,831.3 46.2,831.3 47.1,831.3 48.0,831.2 48.9,831.1 49.8,830.9 50.7,830.4 51.6,829.7 52.5,825.1 53.4,828.7 54.3,826.4 55.2,827.1 56.1,821.5 57.0,826.5 57.9,821.9 58.8,824.4 59.7,822.6 60.6,826.3 61.5,820.3 62.4,824.2 63.3,815.8 64.2,821.7 65.1,815.0 66.0,822.2 66.9,820.1 67.8,823.2 68.7,822.3 69.6,824.6 70.5,817.2 71.4,822.8 72.3,819.5 73.2,820.5 74.1,814.3 75.0,817.6 75.9,815.2 76.8,822.6 77.7,816.7 78.6,820.1 79.5,818.1 80.4,819.3 81.3,816.8 82.2,820.8 83.1,818.6 84.0,821.7 84.9,818.9 85.8,824.8 86.7,813.3 87.6,819.4 88.5,818.1 89.4,821.9 90.3,819.5 91.2,821.8 92.1,818.4 93.0,825.5 93.9,818.3 94.8,822.1 95.7,818.2 96.6,820.6 97.5,818.3 98.4,820.8 99.3,812.7 100.2,822.0 101.1,816.0 102.0,819.4 102.9,815.7 103.8,820.3 104.7,815.6 105.6,819.4 106.5,815.1 107.4,818.6 108.3,815.7 109.2,819.0 110.1,810.4 111.0,816.1 111.9,809.1 112.8,813.1 113.7,808.3 114.6,816.8 115.5,805.3 116.4,807.9 117.3,803.1 118.2,809.9 119.1,794.8 120.0,800.6 120.9,784.0 121.8,786.2 122.7,771.2 123.6,771.2 124.5,763.4 125.4,769.8 126.3,760.2 127.2,764.2 128.1,754.3 129.0,762.4 129.9,759.1 130.8,767.3 131.7,769.3 132.6,781.1 133.5,778.5 134.4,793.5 135.3,789.4 136.2,793.2 137.1,786.0 138.0,798.4 138.9,794.0 139.8,800.4 140.7,798.3 141.6,803.4 142.5,802.8 143.4,805.0 144.3,801.6 145.2,802.6 146.1,798.2 147.0,803.0 147.9,800.9 148.8,807.9 149.7,802.8 150.6,805.3 151.5,800.2 152.4,806.4 153.3,797.8 154.2,803.8 155.1,797.5 156.0,799.1 156.9,794.4 157.8,792.3 158.7,783.1 159.6,788.4 160.5,778.1 161.4,782.4 162.3,772.1 163.2,780.3 164.1,767.6 165.0,776.9 165.9,774.9 166.8,792.1 167.7,785.7 168.6,793.4 169.5,788.2 170.4,795.4 171.3,792.2 172.2,797.1 173.1,791.7 174.0,790.8 174.9,783.3 175.8,783.7 176.7,766.7 177.6,773.9 178.5,752.9 179.4,760.2 180.3,749.7 181.2,744.2 182.1,725.0 183.0,720.1 183.9,700.7 184.8,700.2 185.7,685.2 186.6,690.0 187.5,680.8 188.4,681.1 189.3,678.0 190.2,691.0 191.1,695.3 192.0,718.1 192.9,723.6 193.8,743.2 194.7,743.9 195.6,765.2 196.5,769.0 197.4,777.6 198.3,779.8 199.2,791.5 200.1,796.1 201.0,804.2 201.9,800.8 202.8,808.2 203.7,807.3 204.6,813.4 205.5,811.8 206.4,815.2 207.3,813.3 208.2,814.3 209.1,815.6 210.0,822.0 210.9,819.1 211.8,825.3 212.7,819.0 213.6,819.8 214.5,816.0 215.4,819.6 216.3,817.7 217.2,821.5 218.1,816.6 219.0,819.7 219.9,820.2 220.8,825.1 221.7,814.3 222.6,822.6 223.5,816.1 224.4,824.4 225.3,820.3 226.2,821.7 227.1,814.7 228.0,823.1 228.9,818.5 229.8,820.9 230.7,819.6 231.6,821.0 232.5,817.3 233.4,825.7 234.3,818.6 235.2,822.8 236.1,817.4 237.0,822.9 237.9,814.2 238.8,819.5 239.7,817.1 240.6,820.8 241.5,813.6 242.4,820.3 243.3,818.6 244.2,819.4 245.1,818.8 246.0,818.7 246.9,814.3 247.8,819.9 248.7,812.1 249.6,820.8 250.5,815.3 251.4,823.1 252.3,815.7 253.2,820.4 254.1,815.3 255.0,821.7 255.9,817.3 256.8,819.1 257.7,815.4 258.6,820.7 259.5,817.6 260.4,820.0 261.3,814.0 262.2,819.9 263.1,815.6 264.0,822.1 264.9,817.5 265.8,819.4 266.7,818.0 267.6,822.4 268.5,811.8 269.4,818.5 270.3,814.1 271.2,818.7 272.1,811.5 273.0,820.6 273.9,813.5 274.8,822.9 275.7,819.2 276.6,820.9 277.5,815.6 278.4,818.0 279.3,814.1 280.2,819.3 281.1,812.6 282.0,818.3 282.9,811.1 283.8,821.2 284.7,806.5 285.6,812.2 286.5,805.7 287.4,810.9 288.3,800.3 289.2,798.3 290.1,786.8 291.0,781.4 291.9,769.1 292.8,769.3 293.7,741.4 294.6,738.2 295.5,706.7 296.4,695.3 297.3,671.9 298.2,658.7 299.1,638.1 300.0,631.8 300.9,615.3 301.8,609.2 302.7,600.0 303.6,605.5 304.5,600.2 305.4,617.2 306.3,617.2 307.2,637.7 308.1,644.0 309.0,670.3 309.9,677.4 310.8,696.3 311.7,701.0 312.6,729.8 313.5,742.7 314.4,759.1 315.3,762.0 316.2,779.4 317.1,788.6 318.0,798.8 318.9,791.4 319.8,809.1 320.7,801.4 321.6,809.2 322.5,811.0 323.4,816.3 324.3,812.4 325.2,822.2 326.1,813.3 327.0,819.3 327.9,815.3 328.8,820.3 329.7,816.7 330.6,819.0 331.5,817.6 332.4,821.3 333.3,815.3 334.2,817.7 335.1,813.2 336.0,816.8 336.9,812.2 337.8,819.3 338.7,813.4 339.6,819.9 340.5,813.4 341.4,818.9 342.3,812.6 343.2,818.5 344.1,813.9 345.0,816.2 345.9,815.2 346.8,821.3 347.7,812.8 348.6,815.9 349.5,812.2 350.4,817.9 351.3,810.8 352.2,814.0 353.1,806.6 354.0,814.4 354.9,811.8 355.8,815.2 356.7,809.0 357.6,817.3 358.5,810.4 359.4,814.9 360.3,809.6 361.2,818.9 362.1,813.0 363.0,819.1 363.9,810.4 364.8,819.8 365.7,812.6 366.6,815.9 367.5,810.8 368.4,813.9 369.3,810.8 370.2,812.3 371.1,817.0 372.0,814.7 372.9,815.3 373.8,817.8 374.7,813.9 375.6,821.5 376.5,811.0 377.4,816.5 378.3,808.5 379.2,813.2 380.1,809.6 381.0,813.5 381.9,808.0 382.8,810.6 383.7,807.7 384.6,815.0 385.5,809.3 386.4,812.4 387.3,806.6 388.2,812.5 389.1,807.3 390.0,812.3 390.9,811.7 391.8,817.1 392.7,810.1 393.6,812.9 394.5,807.6 395.4,817.7 396.3,806.5 397.2,810.3 398.1,807.7 399.0,814.9 399.9,809.1 400.8,813.7 401.7,808.9 402.6,819.9 403.5,811.6 404.4,814.9 405.3,809.2 406.2,814.7 407.1,807.4 408.0,814.8 408.9,809.0 409.8,813.0 410.7,808.4 411.6,821.4 412.5,809.2 413.4,828.3 414.3,815.3 415.2,816.9 416.1,812.7 417.0,816.8 417.9,814.4 418.8,821.6 419.7,815.3 420.6,818.7 421.5,813.8 422.4,818.0 423.3,814.8 424.2,816.8 425.1,811.9 426.0,823.7 426.9,817.1 427.8,818.7 428.7,813.9 429.6,819.3 430.5,814.6 431.4,820.2 432.3,819.0 433.2,823.0 434.1,818.6 435.0,820.8 435.9,816.0 436.8,821.5 437.7,819.4 438.6,820.3 439.5,818.6 440.4,820.9 441.3,811.9 442.2,820.9 443.1,818.1 444.0,818.4 444.9,812.7 445.8,819.2 446.7,818.4 447.6,819.0 448.5,818.2 449.4,825.1 450.3,817.1 451.2,821.2 452.1,819.3 453.0,825.7 453.9,821.4 454.8,824.1 455.7,815.1 456.6,819.9 457.5,817.4 458.4,822.6 459.3,817.5 460.2,821.2 461.1,817.7 462.0,821.4 462.9,818.2 463.8,823.3 464.7,817.7 465.6,818.6 466.5,818.3 467.4,822.0 468.3,815.5 469.2,823.4 470.1,817.3 471.0,823.2 471.9,817.1 472.8,811.1 473.7,821.2 474.6,824.8 475.5,820.9 476.4,822.1 477.3,818.8 478.2,820.4 479.1,819.7 480.0,825.6 480.9,820.4 481.8,822.9 482.7,818.5 483.6,822.2 484.5,816.4 485.4,822.6 486.3,817.5 487.2,821.3 488.1,819.7 489.0,822.7 489.9,818.4 490.8,825.4 491.7,818.8 492.6,823.0 493.5,821.0 494.4,823.8 495.3,819.9 496.2,820.5 497.1,814.9 498.0,821.2 498.9,815.3 499.8,823.9 500.7,819.2 501.6,823.2 502.5,819.5 503.4,825.0 504.3,819.5 505.2,823.3 506.1,818.1 507.0,822.2 507.9,820.3 508.8,822.3 509.7,820.2 510.6,823.9 511.5,820.9 512.4,821.2 513.3,818.1 514.2,822.3 515.1,818.3 516.0,823.4 516.9,818.1 517.8,823.8 518.7,822.0 519.6,826.4 520.5,821.3 521.4,822.8 522.3,822.0 523.2,824.5 524.1,823.3 525.0,823.2 525.9,819.1 526.8,823.6 527.7,819.3 528.6,823.8 529.5,821.0 530.4,825.4 531.3,819.4 532.2,823.2 533.1,822.1 534.0,824.9 534.9,816.9 535.8,821.9 536.7,821.4 537.6,822.4 538.5,821.2 539.4,826.0 540.3,819.4 541.2,822.6 542.1,820.8 543.0,822.1 543.9,817.9 544.8,825.1 545.7,819.9 546.6,825.6 547.5,820.6 548.4,820.9 549.3,819.6 550.2,821.4 551.1,813.3 552.0,825.7 552.9,819.7 553.8,823.0 554.7,818.9 555.6,824.1 556.5,819.6 557.4,823.7 558.3,818.6 559.2,823.7 560.1,816.6 561.0,822.5 561.9,819.6 562.8,821.9 563.7,815.3 564.6,825.9 565.5,821.7 566.4,825.6 567.3,817.3 568.2,824.9 569.1,821.1 570.0,824.0 570.9,817.1 571.8,825.5 572.7,822.9 573.6,824.4 574.5,820.0 575.4,822.3 576.3,818.8 577.2,824.6 578.1,820.3 579.0,827.2 579.9,817.1 580.8,824.8 581.7,820.2 582.6,821.6 583.5,820.3 584.4,823.9 585.3,819.2 586.2,822.8 587.1,821.6 588.0,823.5 588.9,821.1 589.8,822.0 590.7,820.5 591.6,826.6 592.5,821.5 593.4,831.0 594.3,820.9 595.2,828.6 596.1,816.7 597.0,825.2 597.9,820.2 598.8,824.1 599.7,816.0 600.6,822.1 601.5,819.9 602.4,826.6 603.3,820.3 604.2,828.3 605.1,820.3 606.0,824.3 606.9,822.7 607.8,824.7 608.7,822.8 609.6,823.4 610.5,821.2 611.4,827.9 612.3,822.7 613.2,821.9 614.1,816.0 615.0,822.4 615.9,820.6 616.8,824.9 617.7,819.5 618.6,824.8 619.5,820.6 620.4,826.5 621.3,820.9 622.2,824.6 623.1,815.9 624.0,832.8 624.9,818.8 625.8,824.8 626.7,820.0 627.6,827.9 628.5,822.6 629.4,825.5 630.3,822.2 631.2,825.7 632.1,820.6 633.0,827.5 633.9,821.4 634.8,824.7 635.7,821.2 636.6,826.9 637.5,819.4 638.4,824.3 639.3,822.9 640.2,826.0 641.1,824.9 642.0,829.0 642.9,819.7 643.8,824.3 644.7,819.0 645.6,824.6 646.5,815.9 647.4,823.3 648.3,816.1 649.2,822.5 650.1,820.5 651.0,822.5 651.9,819.3 652.8,823.9 653.7,821.2 654.6,823.1 655.5,817.1 656.4,824.1 657.3,822.2 658.2,827.0 659.1,816.4 660.0,827.8 660.9,822.1 661.8,823.6 662.7,821.3 663.6,824.3 664.5,820.8 665.4,824.0 666.3,821.9 667.2,824.9 668.1,823.6 669.0,825.3 669.9,823.6 670.8,824.6 671.7,814.7 672.6,824.3 673.5,821.2 674.4,823.6 675.3,820.8 676.2,824.9 677.1,820.6 678.0,824.5 678.9,822.4 679.8,824.5 680.7,823.4 681.6,824.8 682.5,823.8 683.4,826.8 684.3,825.8 685.2,828.4 686.1,822.7 687.0,826.3 687.9,821.1 688.8,826.7 689.7,822.4 690.6,824.7 691.5,822.2 692.4,824.7 693.3,823.7 694.2,825.6 695.1,822.8 696.0,826.9 696.9,822.7 697.8,829.2 698.7,822.4 699.6,825.4 700.5,818.3 701.4,824.8 702.3,821.6 703.2,825.7 704.1,823.6 705.0,828.9 705.9,821.3 706.8,824.4 707.7,821.5 708.6,826.6 709.5,825.1 710.4,825.9 711.3,823.6 712.2,825.9 713.1,823.9 714.0,830.5 714.9,824.0 715.8,828.5 716.7,824.8 717.6,828.4 718.5,825.4 719.4,831.9 720.3,826.3 721.2,838.3 722.1,823.7 723.0,829.1 723.9,823.6 724.8,830.2 725.7,823.7 726.6,827.5 727.5,823.5 728.4,827.9 729.3,821.3 730.2,825.0 731.1,823.0 732.0,825.9 732.9,822.5 733.8,825.6 734.7,823.8 735.6,827.1 736.5,826.0 737.4,826.0 738.3,822.5 739.2,825.1 740.1,819.1 741.0,825.0 741.9,821.6 742.8,828.5 743.7,823.1 744.6,824.5 745.5,822.2 746.4,825.5 747.3,822.9 748.2,824.7 749.1,823.2 750.0,827.7 750.9,821.6 751.8,829.1 752.7,825.1 753.6,826.2 754.5,822.1 755.4,826.4 756.3,822.6 757.2,825.1 758.1,822.4 759.0,825.3 759.9,824.5 760.8,827.6 761.7,821.8 762.6,826.7 763.5,818.5 764.4,826.9 765.3,824.9 766.2,830.3 767.1,822.1 768.0,825.7 768.9,820.1 769.8,825.7 770.7,822.4 771.6,827.2 772.5,824.2 773.4,826.6 774.3,823.2 775.2,826.2 776.1,824.9 777.0,828.1 777.9,822.6 778.8,828.6 779.7,824.2 780.6,825.4 781.5,825.0 782.4,826.8 783.3,823.2 784.2,825.1 785.1,822.0 786.0,826.2 786.9,823.6 787.8,829.0 788.7,822.9 789.6,830.3 790.5,825.0 791.4,826.0 792.3,826.0 793.2,827.7 794.1,826.0 795.0,829.0 795.9,824.6 796.8,827.3 797.7,825.0 798.6,825.5 799.5,824.9 800.4,828.3 801.3,825.0 802.2,828.3 803.1,823.8 804.0,826.8 804.9,822.0 805.8,826.3 806.7,821.4 807.6,827.3 808.5,824.4 809.4,827.2 810.3,822.3 811.2,826.9 812.1,820.7 813.0,825.0 813.9,821.8 814.8,829.4 815.7,823.7 816.6,827.9 817.5,824.6 818.4,827.4 819.3,824.1 820.2,827.9 821.1,823.3 822.0,829.3 822.9,823.2 823.8,826.2 824.7,823.2 825.6,825.9 826.5,823.1 827.4,828.0 828.3,824.5 829.2,826.5 830.1,823.4 831.0,829.3 831.9,824.6 832.8,826.2 833.7,823.7 834.6,827.6 835.5,823.4 836.4,830.4 837.3,821.8 838.2,829.2 839.1,824.1 840.0,826.8 840.9,824.2 841.8,829.9 842.7,826.3 843.6,828.9 844.5,822.4 845.4,828.3 846.3,821.5 847.2,830.0 848.1,825.7 849.0,827.3 849.9,825.8 850.8,827.6 851.7,824.4 852.6,829.4 853.5,825.6 854.4,827.8 855.3,824.0 856.2,827.7 857.1,825.4 858.0,828.6 858.9,826.5 859.8,826.7 860.7,821.8 861.6,828.0 862.5,822.6 863.4,827.0 864.3,822.3 865.2,826.5 866.1,825.4 867.0,830.5 867.9,825.8 868.8,830.4 869.7,823.1 870.6,827.3 871.5,824.5 872.4,827.3 873.3,823.9 874.2,827.0 875.1,826.4 876.0,829.7 876.9,822.8 877.8,828.6 878.7,820.8 879.6,828.1 880.5,824.7 881.4,826.4 882.3,821.3 883.2,825.3 884.1,823.9 885.0,824.0 885.9,823.7 886.8,827.1 887.7,823.4 888.6,827.4 889.5,825.0 890.4,827.4 891.3,824.2 892.2,825.0 893.1,820.4 894.0,828.4 894.9,823.8 895.8,824.5 896.7,818.6 897.6,827.6 898.5,824.5 899.4,828.0 900.3,823.7 901.2,828.4 902.1,825.0 903.0,828.8 903.9,827.2 904.8,830.8 905.7,825.6 906.6,827.2 907.5,823.8 908.4,828.3 909.3,825.4 910.2,826.6 911.1,823.8 912.0,826.0 912.9,823.8 913.8,829.3 914.7,825.0 915.6,826.9 916.5,824.3 917.4,826.9 918.3,824.7 919.2,826.6 920.1,823.2 921.0,826.7 921.9,824.2 922.8,828.6 923.7,825.8 924.6,826.1 925.5,823.0 926.4,828.6 927.3,823.7 928.2,825.2 929.1,824.2 930.0,825.9 930.9,824.0 931.8,826.4 932.7,825.7 933.6,827.0 934.5,824.2 935.4,830.2 936.3,825.2 937.2,827.8 938.1,824.3 939.0,830.6 939.9,825.8 940.8,828.5 941.7,826.8 942.6,829.8 943.5,825.3 944.4,825.9 945.3,823.8 946.2,827.2 947.1,824.8 948.0,827.0 948.9,825.3 949.8,821.8 950.7,823.6 951.6,826.4 952.5,825.8 953.4,826.9 954.3,826.5 955.2,828.7 956.1,825.4 957.0,828.2 957.9,822.5 958.8,829.2 959.7,823.0 960.6,828.5 961.5,827.3 962.4,832.5 963.3,825.5 964.2,828.1 965.1,825.3 966.0,828.7 966.9,826.6 967.8,831.9 968.7,824.3 969.6,828.3 970.5,825.4 971.4,826.9 972.3,824.9 973.2,826.6 974.1,825.0 975.0,830.3 975.9,825.4 976.8,825.3 977.7,823.7 978.6,826.1 979.5,825.0 980.4,828.5 981.3,825.0 982.2,826.4 983.1,823.9 984.0,827.8 984.9,824.3 985.8,825.8 986.7,824.3 987.6,825.6 988.5,822.7 989.4,828.4 990.3,821.3 991.2,824.5 992.1,817.4 993.0,820.5 993.9,817.6 994.8,818.8 995.7,815.5 996.6,819.5 997.5,810.3 998.4,816.6 999.3,804.5 1000.2,811.5 1001.1,801.4 1002.0,807.2 1002.9,800.0 1003.8,800.2 1004.7,788.6 1005.6,792.3 1006.5,776.2 1007.4,776.5 1008.3,769.8 1009.2,770.6 1010.1,766.0 1011.0,772.0 1011.9,762.6 1012.8,765.8 1013.7,755.1 1014.6,763.8 1015.5,755.3 1016.4,767.7 1017.3,764.7 1018.2,771.3 1019.1,773.1 1020.0,779.3 1020.9,777.1 1021.8,786.5 1022.7,787.5 1023.6,795.0 1024.5,794.1 1025.4,801.8 1026.3,800.3 1027.2,805.1 1028.1,804.2 1029.0,815.4 1029.9,811.0 1030.8,815.9 1031.7,817.1 1032.6,819.2 1033.5,818.1 1034.4,820.0 1035.3,816.2 1036.2,822.6 1037.1,821.9 1038.0,822.8 1038.9,821.9 1039.8,824.3 1040.7,818.8 1041.6,823.2 1042.5,822.1 1043.4,826.6 1044.3,824.5 1045.2,827.4 1046.1,823.5 1047.0,826.6 1047.9,823.2 1048.8,827.8 1049.7,824.0 1050.6,829.4 1051.5,824.7 1052.4,827.0 1053.3,822.6 1054.2,830.6 1055.1,824.8 1056.0,829.9 1056.9,825.2 1057.8,828.7 1058.7,822.2 1059.6,827.0 1060.5,822.6 1061.4,827.2 1062.3,824.8 1063.2,828.0 1064.1,828.4 1065.0,830.2 1065.9,820.7 1066.8,827.8 1067.7,824.9 1068.6,827.5 1069.5,823.4 1070.4,828.7 1071.3,827.0 1072.2,827.4 1073.1,823.9 1074.0,827.3 1074.9,824.7 1075.8,825.7 1076.7,823.0 1077.6,827.2 1078.5,815.7 1079.4,824.0 1080.3,823.3 1081.2,827.2 1082.1,821.2 1083.0,824.8 1083.9,818.6 1084.8,822.0 1085.7,819.2 1086.6,820.0 1087.5,815.4 1088.4,820.9 1089.3,818.3 1090.2,820.0 1091.1,816.2 1092.0,816.9 1092.9,812.0 1093.8,813.3 1094.7,807.1 1095.6,812.5 1096.5,805.7 1097.4,812.0 1098.3,807.5 1099.2,810.6 1100.1,802.9 1101.0,803.0 1101.9,798.2 1102.8,800.2 1103.7,798.9 1104.6,801.7 1105.5,796.4 1106.4,805.0 1107.3,799.2 1108.2,804.1 1109.1,801.6 1110.0,809.0 1110.9,801.9 1111.8,807.3 1112.7,806.2 1113.6,810.7 1114.5,808.6 1115.4,820.1 1116.3,814.1 1117.2,818.9 1118.1,817.3 1119.0,812.3 1119.9,819.2 1120.8,821.9 1121.7,813.8 1122.6,825.3 1123.5,819.3 1124.4,824.6 1125.3,820.9 1126.2,824.7 1127.1,823.7 1128.0,825.2 1128.9,822.7 1129.8,828.5 1130.7,823.7 1131.6,824.6 1132.5,820.2 1133.4,824.6 1134.3,823.4 1135.2,826.4 1136.1,824.7 1137.0,827.0 1137.9,822.9 1138.8,827.9 1139.7,823.7 1140.6,829.9 1141.5,833.3 1142.4,828.9 1143.3,824.9 1144.2,826.5 1145.1,824.6 1146.0,826.6 1146.9,824.7 1147.8,826.2 1148.7,824.2 1149.6,829.1 1150.5,824.4 1151.4,827.4 1152.3,825.1 1153.2,826.4 1154.1,823.7 1155.0,827.3 1155.9,826.6 1156.8,829.5 1157.7,829.0 1158.6,831.9 1159.5,825.2 1160.4,829.0 1161.3,826.0 1162.2,828.3 1163.1,826.3 1164.0,828.4 1164.9,825.4 1165.8,828.6 1166.7,823.2 1167.6,828.8 1168.5,823.7 1169.4,824.7 1170.3,820.7 1171.2,826.2 1172.1,821.5 1173.0,825.1 1173.9,816.3 1174.8,818.9 1175.7,815.3 1176.6,815.3 1177.5,811.6 1178.4,813.7 1179.3,808.6 1180.2,811.0 1181.1,803.8 1182.0,803.5 1182.9,799.0 1183.8,803.0 1184.7,800.1 1185.6,798.5 1186.5,788.7 1187.4,791.0 1188.3,781.7 1189.2,782.0 1190.1,774.5 1191.0,775.4 1191.9,768.2 1192.8,774.3 1193.7,768.3 1194.6,769.1 1195.5,766.4 1196.4,771.5 1197.3,768.1 1198.2,777.4 1199.1,775.5 1200.0,787.6 1200.9,778.3 1201.8,785.9 1202.7,786.1 1203.6,793.0 1204.5,788.5 1205.4,794.7 1206.3,795.4 1207.2,805.4 1208.1,803.5 1209.0,813.4 1209.9,806.3 1210.8,812.8 1211.7,810.2 1212.6,815.9 1213.5,814.0 1214.4,819.7 1215.3,817.5 1216.2,820.4 1217.1,815.3 1218.0,823.6 1218.9,820.5 1219.8,825.7 1220.7,825.4 1221.6,830.1 1222.5,824.9 1223.4,826.5 1224.3,823.7 1225.2,827.3 1226.1,826.0 1227.0,828.6 1227.9,826.4 1228.8,829.3 1229.7,826.5 1230.6,827.4 1231.5,826.1 1232.4,826.7 1233.3,824.8 1234.2,828.0 1235.1,825.4 1236.0,831.0 1236.9,825.7 1237.8,827.9 1238.7,824.0 1239.6,826.7 1240.5,824.0 1241.4,828.0 1242.3,825.4 1243.2,828.4 1244.1,827.1 1245.0,828.9 1245.9,827.2 1246.8,829.8 1247.7,825.5 1248.6,830.2 1249.5,826.3 1250.4,828.1 1251.3,825.8 1252.2,828.3 1253.1,825.8 1254.0,827.0 1254.9,823.4 1255.8,827.2 1256.7,827.4 1257.6,828.0 1258.5,827.7 1259.4,828.9 1260.3,826.2 1261.2,827.7 1262.1,826.5 1263.0,828.9 1263.9,826.6 1264.8,829.0 1265.7,824.2 1266.6,826.4 1267.5,822.0 1268.4,829.0 1269.3,824.9 1270.2,826.5 1271.1,826.8 1272.0,827.5 1272.9,826.7 1273.8,827.8 1274.7,826.8 1275.6,827.4 1276.5,826.0 1277.4,827.0 1278.3,825.0 1279.2,829.0 1280.1,826.9 1281.0,828.0 1281.9,824.4 1282.8,829.3 1283.7,826.1 1284.6,827.9 1285.5,825.7 1286.4,827.7 1287.3,823.1 1288.2,826.9 1289.1,829.5 1290.0,825.8 1290.9,822.8 1291.8,827.3 1292.7,823.2 1293.6,829.7 1294.5,822.2 1295.4,828.1 1296.3,824.6 1297.2,825.7 1298.1,822.4 1299.0,824.7 1299.9,819.1 1300.8,824.7 1301.7,821.4 1302.6,823.4 1303.5,820.1 1304.4,826.1 1305.3,822.8 1306.2,825.9 1307.1,821.1 1308.0,823.6 1308.9,820.5 1309.8,820.6 1310.7,819.8 1311.6,824.5 1312.5,817.9 1313.4,823.0 1314.3,819.5 1315.2,823.1 1316.1,817.8 1317.0,823.0 1317.9,823.5 1318.8,825.6 1319.7,823.2 1320.6,824.6 1321.5,823.2 1322.4,825.8 1323.3,824.4 1324.2,827.9 1325.1,822.3 1326.0,829.2 1326.9,825.9 1327.8,828.3 1328.7,824.3 1329.6,827.2 1330.5,824.7 1331.4,828.6 1332.3,827.2 1333.2,828.7 1334.1,826.2 1335.0,831.2 1335.9,825.5 1336.8,827.4 1337.7,826.7 1338.6,827.8 1339.5,824.2 1340.4,828.6 1341.3,826.6 1342.2,828.2 1343.1,825.4 1344.0,827.3 1344.9,823.9 1345.8,828.1 1346.7,827.0 1347.6,827.9 1348.5,827.3 1349.4,830.4 1350.3,825.9 1351.2,829.9 1352.1,826.1 1353.0,828.2 1353.9,824.2 1354.8,828.9 1355.7,827.9 1356.6,828.3 1357.5,826.2 1358.4,828.2 1359.3,824.6 1360.2,819.4 1361.1,823.1 1362.0,824.6 1362.9,817.0 1363.8,821.9 1364.7,820.4 1365.6,822.7 1366.5,817.7 1367.4,823.6 1368.3,815.8 1369.2,816.9 1370.1,813.5 1371.0,815.2 1371.9,810.4 1372.8,814.2 1373.7,799.7 1374.6,802.3 1375.5,793.6 1376.4,796.0 1377.3,789.8 1378.2,793.9 1379.1,785.3 1380.0,789.1 1380.9,779.0 1381.8,789.5 1382.7,779.3 1383.6,786.9 1384.5,779.1 1385.4,786.8 1386.3,774.2 1387.2,777.6 1388.1,769.8 1389.0,776.8 1389.9,777.6 1390.8,782.7 1391.7,782.8 1392.6,785.6 1393.5,783.3 1394.4,792.0 1395.3,790.1 1396.2,800.3 1397.1,793.4 1398.0,800.9 1398.9,801.0 1399.8,806.8 1400.7,804.4 1401.6,808.5 1402.5,807.7 1403.4,811.9 1404.3,809.1 1405.2,814.2 1406.1,814.9 1407.0,818.3 1407.9,819.0 1408.8,825.3 1409.7,823.7 1410.6,829.6 1411.5,822.8 1412.4,826.0 1413.3,824.1 1414.2,826.4 1415.1,821.9 1416.0,829.3 1416.9,827.3 1417.8,829.7 1418.7,827.6 1419.6,829.5 1420.5,828.1 1421.4,830.1 1422.3,827.6 1423.2,831.4 1424.1,827.5 1425.0,831.0 1425.9,828.4 1426.8,828.8 1427.7,827.2 1428.6,830.0 1429.5,826.6 1430.4,829.8 1431.3,826.2 1432.2,832.5 1433.1,828.7 1434.0,830.4 1434.9,827.2 1435.8,829.4 1436.7,827.6 1437.6,830.1 1438.5,826.7 1439.4,829.4 1440.3,827.1 1441.2,831.9 1442.1,828.3 1443.0,831.4 1443.9,829.7 1444.8,830.1 1445.7,828.7 1446.6,830.4 1447.5,826.8 1448.4,829.3 1449.3,829.0 1450.2,830.8 1451.1,828.9 1452.0,833.0 1452.9,829.7 1453.8,830.0 1454.7,827.4 1455.6,829.9 1456.5,828.1 1457.4,829.3 1458.3,828.9 1459.2,829.3 1460.1,828.5 1461.0,832.2 1461.9,827.7 1462.8,831.7 1463.7,828.3 1464.6,831.9 1465.5,828.6 1466.4,831.6 1467.3,829.0 1468.2,830.5 1469.1,826.7 1470.0,829.5 1470.9,827.6 1471.8,830.6 1472.7,826.6 1473.6,829.6 1474.5,827.2 1475.4,828.7 1476.3,828.4 1477.2,829.7 1478.1,827.6 1479.0,829.1 1479.9,828.4 1480.8,831.3 1481.7,829.2 1482.6,832.3 1483.5,828.7 1484.4,829.6 1485.3,828.7 1486.2,829.1 1487.1,827.3 1488.0,828.7 1488.9,828.7 1489.8,830.2 1490.7,829.6 1491.6,830.8 1492.5,827.5 1493.4,830.0 1494.3,826.4 1495.2,830.0 1496.1,827.0 1497.0,828.2 1497.9,827.9 1498.8,831.5 1499.7,827.2 1500.6,829.9 1501.5,826.3 1502.4,828.4 1503.3,826.6 1504.2,828.4 1505.1,828.1 1506.0,830.9 1506.9,829.3 1507.8,829.6 1508.7,826.7 1509.6,828.7 1510.5,826.1 1511.4,827.9 1512.3,827.3 1513.2,828.7 1514.1,827.1 1515.0,827.7 1515.9,826.0 1516.8,827.4 1517.7,825.8 1518.6,826.4 1519.5,821.4 1520.4,824.3 1521.3,822.1 1522.2,822.4 1523.1,817.1 1524.0,822.2 1524.9,820.0 1525.8,822.7 1526.7,820.6 1527.6,822.4 1528.5,820.7 1529.4,821.1 1530.3,818.9 1531.2,822.0 1532.1,820.4 1533.0,823.9 1533.9,819.2 1534.8,826.1 1535.7,821.8 1536.6,825.8 1537.5,822.9 1538.4,825.0 1539.3,822.6 1540.2,824.7 1541.1,821.9 1542.0,828.1 1542.9,825.2 1543.8,828.0 1544.7,824.9 1545.6,827.3 1546.5,823.2 1547.4,825.9 1548.3,823.9 1549.2,828.2 1550.1,826.5 1551.0,830.9 1551.9,827.0 1552.8,831.0 1553.7,828.1 1554.6,828.8 1555.5,828.8 1556.4,830.2 1557.3,825.4 1558.2,832.9 1559.1,827.4 1560.0,830.4 1560.9,828.7 1561.8,830.9 1562.7,829.1 1563.6,832.0 1564.5,828.0 1565.4,830.2 1566.3,829.1 1567.2,829.6 1568.1,829.1 1569.0,831.2 1569.9,827.4 1570.8,830.6 1571.7,827.9 1572.6,829.8 1573.5,829.4 1574.4,830.3 1575.3,828.2 1576.2,831.4 1577.1,826.8 1578.0,830.9 1578.9,830.1 1579.8,831.2 1580.7,829.4 1581.6,831.3 1582.5,826.5 1583.4,829.3 1584.3,827.3 1585.2,833.2 1586.1,830.4 1587.0,832.2 1587.9,829.1 1588.8,831.3 1589.7,827.7 1590.6,830.3 1591.5,827.9 1592.4,830.6 1593.3,829.9 1594.2,830.3 1595.1,829.0 1596.0,830.5 1596.9,829.7 1597.8,830.7 1598.7,829.9 1599.6,830.6 1600.5,827.8 1601.4,832.8 1602.3,829.6 1603.2,830.2 1604.1,829.0 1605.0,832.3 1605.9,829.5 1606.8,829.9 1607.7,829.2 1608.6,829.6 1609.5,829.2 1610.4,830.8 1611.3,829.4 1612.2,831.7 1613.1,827.8 1614.0,831.6 1614.9,828.5 1615.8,831.3 1616.7,829.4 1617.6,831.9 1618.5,827.6 1619.4,829.8 1620.3,829.8 1621.2,831.8 1622.1,829.8 1623.0,831.8 1623.9,828.4 1624.8,827.2 1625.7,827.9 1626.6,831.4 1627.5,829.3 1628.4,831.4 1629.3,828.3 1630.2,831.0 1631.1,829.1 1632.0,832.3 1632.9,829.3 1633.8,831.9 1634.7,828.6 1635.6,831.9 1636.5,828.4 1637.4,829.4 1638.3,828.0 1639.2,829.7 1640.1,826.8 1641.0,831.4 1641.9,828.6 1642.8,832.7 1643.7,829.8 1644.6,831.1 1645.5,829.2 1646.4,831.2 1647.3,828.7 1648.2,831.0 1649.1,829.4 1650.0,830.3 1650.9,828.8 1651.8,829.8 1652.7,827.4 1653.6,829.9 1654.5,828.6 1655.4,830.0 1656.3,828.9 1657.2,830.1 1658.1,829.8 1659.0,832.9 1659.9,828.5 1660.8,830.6 1661.7,829.7 1662.6,830.9 1663.5,830.0 1664.4,831.2 1665.3,830.5 1666.2,831.4 1667.1,830.0 1668.0,830.9 1668.9,830.5 1669.8,831.1 1670.7,829.0 1671.6,830.7 1672.5,829.3 1673.4,830.8 1674.3,829.3 1675.2,831.4 1676.1,830.5 1677.0,831.7 1677.9,828.7 1678.8,830.3 1679.7,828.7 1680.6,830.0 1681.5,830.3 1682.4,830.7 1683.3,829.4 1684.2,830.0 1685.1,829.2 1686.0,830.5 1686.9,828.0 1687.8,829.4 1688.7,829.0 1689.6,831.0 1690.5,829.7 1691.4,831.5 1692.3,830.9 1693.2,832.3 1694.1,828.6 1695.0,830.1 1695.9,829.7 1696.8,831.9 1697.7,829.3 1698.6,830.9 1699.5,828.3 1700.4,829.1 1701.3,828.2 1702.2,829.8 1703.1,827.1 1704.0,830.4 1704.9,827.6 1705.8,830.9 1706.7,829.1 1707.6,830.5 1708.5,829.3 1709.4,830.5 1710.3,827.0 1711.2,832.2 1712.1,828.5 1713.0,832.2 1713.9,828.5 1714.8,830.3 1715.7,827.4 1716.6,830.7 1717.5,829.0 1718.4,830.2 1719.3,829.6 1720.2,829.7 1721.1,828.8 1722.0,830.9 1722.9,829.7 1723.8,831.1 1724.7,828.6 1725.6,830.4 1726.5,828.1 1727.4,829.3 1728.3,826.8 1729.2,832.0 1730.1,829.5 1731.0,833.4 1731.9,829.6 1732.8,831.1 1733.7,829.3 1734.6,831.0 1735.5,828.0 1736.4,830.5 1737.3,829.7 1738.2,831.5 1739.1,828.5 1740.0,830.6 1740.9,830.9 1741.8,831.7 1742.7,831.0 1743.6,831.4 1744.5,830.0 1745.4,829.6 1746.3,827.9 1747.2,829.7 1748.1,829.7 1749.0,830.9 1749.9,829.3 1750.8,831.6 1751.7,827.8 1752.6,832.0 1753.5,828.8 1754.4,829.5 1755.3,827.7 1756.2,829.7 1757.1,828.8 1758.0,829.4 1758.9,828.5 1759.8,832.3 1760.7,829.7 1761.6,831.7 1762.5,830.9 1763.4,831.1 1764.3,830.0 1765.2,831.8 1766.1,829.9 1767.0,831.2 1767.9,830.1 1768.8,831.2 1769.7,830.0 1770.6,830.7 1771.5,829.8 1772.4,830.1 1773.3,829.1 1774.2,829.9 1775.1,826.0 1776.0,829.7 1776.9,829.4 1777.8,831.5 1778.7,830.3 1779.6,831.4 1780.5,827.1 1781.4,830.5 1782.3,829.8 1783.2,832.4 1784.1,829.0 1785.0,831.8 1785.9,830.3 1786.8,832.6 1787.7,828.9 1788.6,831.9 1789.5,830.2 1790.4,830.8 1791.3,829.1 1792.2,831.1 1793.1,829.2 1794.0,831.9 1794.9,829.3 1795.8,830.5 1796.7,830.4 1797.6,831.7 1798.5,830.7 1799.4,831.6 1800.3,830.0 1801.2,831.9 1802.1,830.0 1803.0,831.7 1803.9,829.5 1804.8,830.5 1805.7,829.7 1806.6,830.8 1807.5,829.4 1808.4,831.5 1809.3,829.7 1810.2,832.0 1811.1,829.7 1812.0,832.2 1812.9,828.1 1813.8,831.8 1814.7,828.3 1815.6,830.8 1816.5,829.9 1817.4,830.1 1818.3,829.8 1819.2,830.6 1820.1,828.8 1821.0,831.8 1821.9,829.3 1822.8,831.4 1823.7,827.8 1824.6,830.3 1825.5,828.7 1826.4,830.2 1827.3,827.3 1828.2,831.2 1829.1,828.9"/>
<polyline class="c" stroke="#0000ff" stroke-width="3.1" points="37.2,992.2 38.1,992.2 39.0,992.2 39.9,992.2 40.8,992.2 41.7,992.2 42.6,992.2 43.5,992.2 44.4,992.2 45.3,992.2 46.2,992.2 47.1,992.2 48.0,992.2 48.9,992.1 49.8,991.8 50.7,991.4 51.6,990.8 52.5,989.0 53.4,989.6 54.3,984.8 55.2,989.6 56.1,985.4 57.0,989.5 57.9,980.3 58.8,989.6 59.7,986.0 60.6,989.2 61.5,984.9 62.4,986.2 63.3,985.5 64.2,988.0 65.1,984.9 66.0,988.6 66.9,983.7 67.8,986.2 68.7,983.6 69.6,983.7 70.5,977.2 71.4,983.3 72.3,980.0 73.2,982.0 74.1,978.9 75.0,979.1 75.9,975.6 76.8,984.2 77.7,977.3 78.6,982.8 79.5,973.1 80.4,978.5 81.3,974.5 82.2,984.7 83.1,973.4 84.0,979.9 84.9,980.6 85.8,984.8 86.7,982.5 87.6,991.5 88.5,985.6 89.4,989.5 90.3,985.2 91.2,988.7 92.1,981.9 93.0,987.6 93.9,985.5 94.8,986.3 95.7,982.3 96.6,985.7 97.5,983.3 98.4,987.7 99.3,979.3 100.2,987.0 101.1,982.3 102.0,989.0 102.9,985.4 103.8,987.8 104.7,985.5 105.6,986.5 106.5,985.4 107.4,986.6 108.3,981.7 109.2,986.6 110.1,982.9 111.0,991.2 111.9,981.3 112.8,983.7 113.7,977.1 114.6,984.5 115.5,977.5 116.4,982.2 117.3,972.9 118.2,976.3 119.1,971.5 120.0,972.2 120.9,968.1 121.8,974.2 122.7,969.0 123.6,977.6 124.5,970.5 125.4,973.0 126.3,962.5 127.2,970.5 128.1,966.7 129.0,969.6 129.9,968.2 130.8,971.5 131.7,967.2 132.6,974.6 133.5,969.8 134.4,972.9 135.3,971.2 136.2,972.4 137.1,968.4 138.0,978.6 138.9,970.4 139.8,973.7 140.7,970.1 141.6,979.2 142.5,968.4 143.4,972.6 144.3,964.9 145.2,969.0 146.1,963.7 147.0,965.0 147.9,964.0 148.8,972.2 149.7,960.5 150.6,965.6 151.5,961.7 152.4,961.0 153.3,953.9 154.2,962.7 155.1,955.5 156.0,956.6 156.9,951.8 157.8,952.1 158.7,946.2 159.6,953.3 160.5,934.8 161.4,944.6 162.3,938.0 163.2,943.6 164.1,932.4 165.0,941.7 165.9,934.9 166.8,940.5 167.7,937.2 168.6,951.3 169.5,933.4 170.4,938.5 171.3,935.3 172.2,938.1 173.1,936.0 174.0,936.4 174.9,927.0 175.8,937.1 176.7,924.8 177.6,928.5 178.5,906.7 179.4,904.6 180.3,882.6 181.2,871.4 182.1,848.1 183.0,835.5 183.9,813.8 184.8,802.8 185.7,781.3 186.6,774.6 187.5,766.2 188.4,767.7 189.3,765.7 190.2,777.9 191.1,785.1 192.0,801.7 192.9,814.2 193.8,848.8 194.7,851.8 195.6,885.0 196.5,896.4 197.4,920.7 198.3,929.0 199.2,944.6 200.1,952.4 201.0,966.8 201.9,969.4 202.8,978.7 203.7,970.2 204.6,977.2 205.5,974.2 206.4,980.5 207.3,977.5 208.2,989.2 209.1,979.3 210.0,985.5 210.9,979.9 211.8,985.0 212.7,981.7 213.6,987.1 214.5,984.5 215.4,985.0 216.3,983.9 217.2,989.5 218.1,983.1 219.0,989.4 219.9,982.7 220.8,985.4 221.7,983.8 222.6,985.6 223.5,980.9 224.4,984.6 225.3,980.7 226.2,982.6 227.1,979.8 228.0,984.3 228.9,982.7 229.8,989.6 230.7,982.6 231.6,985.2 232.5,980.1 233.4,989.9 234.3,979.5 235.2,983.8 236.1,977.4 237.0,984.9 237.9,982.0 238.8,985.2 239.7,979.3 240.6,985.2 241.5,980.8 242.4,985.7 243.3,981.1 244.2,982.5 245.1,980.3 246.0,981.2 246.9,976.5 247.8,987.0 248.7,975.3 249.6,978.6 250.5,976.8 251.4,981.5 252.3,978.0 253.2,981.1 254.1,979.0 255.0,982.2 255.9,975.5 256.8,984.9 257.7,980.7 258.6,984.0 259.5,981.4 260.4,988.4 261.3,977.8 262.2,982.1 263.1,976.8 264.0,981.2 264.9,977.1 265.8,979.5 266.7,976.5 267.6,981.0 268.5,978.2 269.4,981.2 270.3,975.8 271.2,978.2 272.1,977.5 273.0,980.4 273.9,975.9 274.8,984.4 275.7,977.6 276.6,986.1 277.5,974.7 278.4,979.4 279.3,973.9 280.2,985.3 281.1,978.2 282.0,978.6 282.9,977.1 283.8,979.2 284.7,970.7 285.6,977.4 286.5,974.3 287.4,977.1 288.3,975.0 289.2,976.7 290.1,968.7 291.0,982.3 291.9,965.8 292.8,970.3 293.7,964.7 294.6,963.9 295.5,946.3 296.4,962.8 297.3,955.0 298.2,952.3 299.1,937.3 300.0,944.6 300.9,935.9 301.8,939.8 302.7,927.8 303.6,929.6 304.5,926.8 305.4,938.0 306.3,931.4 307.2,941.9 308.1,933.9 309.0,942.0 309.9,943.2 310.8,950.7 311.7,944.6 312.6,959.2 313.5,962.7 314.4,966.1 315.3,966.6 316.2,971.6 317.1,968.7 318.0,976.0 318.9,971.9 319.8,978.3 320.7,974.1 321.6,978.0 322.5,975.2 323.4,979.1 324.3,978.9 325.2,980.3 326.1,976.3 327.0,983.1 327.9,978.6 328.8,979.4 329.7,976.6 330.6,978.7 331.5,975.7 332.4,979.5 333.3,979.4 334.2,983.3 335.1,977.5 336.0,982.7 336.9,979.9 337.8,985.6 338.7,980.0 339.6,979.8 340.5,974.4 341.4,983.9 342.3,978.3 343.2,981.0 344.1,975.1 345.0,976.4 345.9,975.4 346.8,974.4 347.7,974.3 348.6,978.4 349.5,972.2 350.4,977.5 351.3,971.8 352.2,979.1 353.1,972.8 354.0,982.8 354.9,976.7 355.8,981.7 356.7,973.8 357.6,973.5 358.5,969.8 359.4,976.0 360.3,968.7 361.2,979.0 362.1,975.1 363.0,977.7 363.9,975.9 364.8,979.5 365.7,969.3 366.6,981.4 367.5,975.0 368.4,979.1 369.3,972.0 370.2,977.1 371.1,973.2 372.0,975.5 372.9,969.8 373.8,970.5 374.7,972.3 375.6,976.0 376.5,971.7 377.4,978.1 378.3,970.9 379.2,973.6 380.1,966.5 381.0,973.9 381.9,965.8 382.8,972.6 383.7,971.6 384.6,978.9 385.5,969.9 386.4,975.2 387.3,969.7 388.2,975.9 389.1,971.1 390.0,972.0 390.9,967.2 391.8,971.4 392.7,969.6 393.6,973.3 394.5,970.1 395.4,972.6 396.3,971.9 397.2,975.5 398.1,973.8 399.0,977.8 399.9,969.7 400.8,973.5 401.7,967.0 402.6,975.9 403.5,971.2 404.4,976.6 405.3,965.9 406.2,974.6 407.1,972.6 408.0,974.6 408.9,973.9 409.8,978.1 410.7,978.2 411.6,982.5 412.5,973.7 413.4,976.2 414.3,973.6 415.2,975.6 416.1,975.7 417.0,977.8 417.9,974.7 418.8,977.6 419.7,975.8 420.6,983.2 421.5,976.4 422.4,977.7 423.3,973.3 424.2,977.7 425.1,975.5 426.0,979.6 426.9,974.5 427.8,979.1 428.7,974.4 429.6,977.9 430.5,969.0 431.4,978.5 432.3,978.0 433.2,981.0 434.1,973.7 435.0,977.1 435.9,975.8 436.8,984.9 437.7,976.2 438.6,980.3 439.5,977.7 440.4,978.9 441.3,969.2 442.2,982.0 443.1,978.2 444.0,987.0 444.9,978.3 445.8,981.4 446.7,977.3 447.6,978.9 448.5,977.6 449.4,981.3 450.3,978.2 451.2,981.5 452.1,977.4 453.0,982.4 453.9,971.8 454.8,977.8 455.7,970.4 456.6,982.5 457.5,980.6 458.4,986.5 459.3,977.3 460.2,981.1 461.1,974.4 462.0,976.9 462.9,976.2 463.8,984.4 464.7,975.3 465.6,978.2 466.5,974.1 467.4,978.9 468.3,976.9 469.2,981.3 470.1,978.6 471.0,982.0 471.9,977.8 472.8,978.9 473.7,978.3 474.6,984.4 475.5,974.4 476.4,976.5 477.3,976.4 478.2,981.2 479.1,978.3 480.0,980.1 480.9,978.5 481.8,983.8 482.7,979.9 483.6,985.6 484.5,977.6 485.4,982.3 486.3,976.7 487.2,980.8 488.1,977.5 489.0,983.5 489.9,978.6 490.8,985.8 491.7,978.1 492.6,984.0 493.5,978.1 494.4,982.1 495.3,980.2 496.2,986.9 497.1,978.2 498.0,986.5 498.9,975.5 499.8,985.0 500.7,975.7 501.6,980.2 502.5,976.8 503.4,983.8 504.3,978.3 505.2,982.5 506.1,976.5 507.0,984.6 507.9,977.8 508.8,982.4 509.7,978.3 510.6,981.1 511.5,975.0 512.4,980.8 513.3,974.6 514.2,984.8 515.1,981.3 516.0,986.5 516.9,976.8 517.8,984.3 518.7,980.7 519.6,985.1 520.5,981.4 521.4,985.0 522.3,979.3 523.2,982.2 524.1,981.5 525.0,983.8 525.9,980.9 526.8,985.0 527.7,979.8 528.6,984.5 529.5,980.4 530.4,982.1 531.3,979.9 532.2,982.1 533.1,980.8 534.0,985.1 534.9,980.5 535.8,981.4 536.7,979.2 537.6,984.0 538.5,979.5 539.4,982.4 540.3,980.4 541.2,988.0 542.1,977.5 543.0,981.6 543.9,977.5 544.8,981.1 545.7,979.9 546.6,983.7 547.5,979.5 548.4,983.4 549.3,977.5 550.2,982.8 551.1,978.9 552.0,984.0 552.9,978.4 553.8,984.9 554.7,980.7 555.6,990.8 556.5,980.9 557.4,986.5 558.3,980.8 559.2,985.5 560.1,980.6 561.0,987.2 561.9,977.6 562.8,983.0 563.7,978.7 564.6,985.2 565.5,981.4 566.4,985.5 567.3,982.2 568.2,987.3 569.1,981.1 570.0,983.1 570.9,980.7 571.8,985.0 572.7,979.4 573.6,983.1 574.5,978.9 575.4,986.9 576.3,982.2 577.2,984.4 578.1,980.8 579.0,985.1 579.9,982.7 580.8,984.6 581.7,981.7 582.6,986.1 583.5,984.6 584.4,985.5 585.3,982.8 586.2,986.5 587.1,976.0 588.0,987.2 588.9,976.9 589.8,984.4 590.7,981.8 591.6,989.0 592.5,978.5 593.4,987.8 594.3,979.4 595.2,983.4 596.1,982.0 597.0,987.0 597.9,979.6 598.8,988.4 599.7,982.7 600.6,987.2 601.5,977.8 602.4,983.4 603.3,977.7 604.2,984.5 605.1,981.6 606.0,984.4 606.9,981.4 607.8,984.6 608.7,982.4 609.6,985.9 610.5,979.6 611.4,982.9 612.3,980.4 613.2,985.2 614.1,984.3 615.0,989.1 615.9,982.8 616.8,983.9 617.7,979.8 618.6,988.0 619.5,978.9 620.4,983.0 621.3,982.6 622.2,983.3 623.1,980.9 624.0,984.7 624.9,983.3 625.8,985.3 626.7,981.7 627.6,983.6 628.5,980.8 629.4,983.4 630.3,981.4 631.2,983.4 632.1,976.0 633.0,983.1 633.9,979.7 634.8,988.5 635.7,979.7 636.6,986.3 637.5,981.8 638.4,984.4 639.3,980.3 640.2,984.3 641.1,982.5 642.0,986.1 642.9,981.0 643.8,983.7 644.7,979.2 645.6,982.0 646.5,975.5 647.4,983.3 648.3,982.1 649.2,983.9 650.1,981.1 651.0,990.3 651.9,983.0 652.8,987.5 653.7,980.4 654.6,988.0 655.5,983.5 656.4,987.0 657.3,977.2 658.2,983.9 659.1,982.0 660.0,984.8 660.9,982.8 661.8,985.7 662.7,981.0 663.6,983.4 664.5,980.3 665.4,984.1 666.3,981.5 667.2,982.5 668.1,977.1 669.0,982.4 669.9,977.9 670.8,982.9 671.7,980.7 672.6,982.8 673.5,983.0 674.4,985.5 675.3,980.2 676.2,985.7 677.1,982.3 678.0,988.6 678.9,983.0 679.8,989.7 680.7,979.1 681.6,984.3 682.5,982.7 683.4,988.8 684.3,982.9 685.2,988.1 686.1,983.6 687.0,988.6 687.9,982.7 688.8,987.3 689.7,977.2 690.6,986.6 691.5,981.1 692.4,983.7 693.3,980.4 694.2,987.2 695.1,981.7 696.0,985.7 696.9,983.4 697.8,989.3 698.7,984.3 699.6,986.5 700.5,983.0 701.4,985.7 702.3,984.0 703.2,984.6 704.1,982.0 705.0,985.4 705.9,983.5 706.8,988.4 707.7,983.6 708.6,989.9 709.5,980.1 710.4,985.8 711.3,981.9 712.2,985.6 713.1,983.1 714.0,987.0 714.9,983.2 715.8,984.4 716.7,982.5 717.6,987.4 718.5,983.3 719.4,985.7 720.3,982.2 721.2,983.5 722.1,981.0 723.0,983.9 723.9,981.6 724.8,988.7 725.7,984.7 726.6,986.1 727.5,984.1 728.4,986.1 729.3,980.4 730.2,985.2 731.1,980.3 732.0,987.5 732.9,983.8 733.8,986.1 734.7,981.6 735.6,987.1 736.5,981.5 737.4,986.6 738.3,982.3 739.2,984.6 740.1,981.2 741.0,985.6 741.9,983.2 742.8,987.6 743.7,983.6 744.6,988.7 745.5,984.3 746.4,985.1 747.3,978.3 748.2,987.6 749.1,984.6 750.0,987.7 750.9,983.4 751.8,989.2 752.7,983.4 753.6,986.0 754.5,981.5 755.4,986.8 756.3,983.0 757.2,985.6 758.1,983.5 759.0,987.3 759.9,984.8 760.8,984.8 761.7,983.9 762.6,990.3 763.5,985.1 764.4,988.5 765.3,984.5 766.2,985.6 767.1,985.3 768.0,988.5 768.9,983.9 769.8,987.0 770.7,983.9 771.6,988.2 772.5,985.6 773.4,986.3 774.3,984.3 775.2,986.0 776.1,984.0 777.0,989.3 777.9,985.0 778.8,987.1 779.7,984.8 780.6,986.8 781.5,984.6 782.4,985.3 783.3,981.2 784.2,986.1 785.1,984.5 786.0,987.2 786.9,986.0 787.8,987.2 788.7,983.4 789.6,986.6 790.5,984.8 791.4,986.8 792.3,984.4 793.2,988.9 794.1,981.4 795.0,985.3 795.9,981.7 796.8,987.4 797.7,983.0 798.6,986.3 799.5,984.0 800.4,986.2 801.3,978.1 802.2,991.3 803.1,984.3 804.0,985.8 804.9,982.6 805.8,984.9 806.7,982.9 807.6,986.2 808.5,982.5 809.4,987.7 810.3,986.1 811.2,988.8 812.1,981.0 813.0,988.2 813.9,983.9 814.8,988.1 815.7,982.1 816.6,988.7 817.5,983.5 818.4,986.3 819.3,980.2 820.2,986.6 821.1,984.9 822.0,990.6 822.9,984.7 823.8,988.8 824.7,980.9 825.6,986.4 826.5,982.4 827.4,986.9 828.3,983.5 829.2,989.7 830.1,984.3 831.0,988.9 831.9,981.9 832.8,991.2 833.7,983.3 834.6,989.5 835.5,986.8 836.4,986.9 837.3,985.0 838.2,985.8 839.1,983.1 840.0,985.8 840.9,982.6 841.8,986.4 842.7,985.0 843.6,986.5 844.5,984.9 845.4,989.0 846.3,985.9 847.2,986.9 848.1,984.7 849.0,985.5 849.9,981.6 850.8,987.0 851.7,983.5 852.6,990.0 853.5,985.2 854.4,990.5 855.3,983.4 856.2,985.8 857.1,984.8 858.0,987.7 858.9,982.1 859.8,986.8 860.7,984.4 861.6,985.8 862.5,983.5 863.4,984.6 864.3,984.7 865.2,988.4 866.1,986.4 867.0,988.4 867.9,985.5 868.8,987.2 869.7,984.2 870.6,988.4 871.5,981.9 872.4,988.5 873.3,983.6 874.2,990.8 875.1,985.3 876.0,988.0 876.9,986.1 877.8,989.6 878.7,986.7 879.6,987.5 880.5,984.2 881.4,988.1 882.3,986.3 883.2,988.8 884.1,982.1 885.0,987.7 885.9,984.5 886.8,987.6 887.7,984.3 888.6,987.2 889.5,980.7 890.4,985.8 891.3,984.7 892.2,987.9 893.1,982.3 894.0,987.3 894.9,984.3 895.8,987.6 896.7,985.9 897.6,989.7 898.5,985.5 899.4,988.3 900.3,986.9 901.2,988.5 902.1,984.8 903.0,987.0 903.9,984.4 904.8,986.8 905.7,983.3 906.6,987.8 907.5,985.3 908.4,989.3 909.3,986.0 910.2,986.3 911.1,985.3 912.0,986.8 912.9,985.1 913.8,986.0 914.7,985.2 915.6,989.5 916.5,985.5 917.4,988.0 918.3,986.0 919.2,990.7 920.1,984.9 921.0,988.9 921.9,987.3 922.8,987.7 923.7,985.7 924.6,987.5 925.5,984.7 926.4,987.1 927.3,985.3 928.2,988.2 929.1,984.5 930.0,987.9 930.9,982.9 931.8,987.3 932.7,986.1 933.6,987.7 934.5,984.0 935.4,986.4 936.3,981.3 937.2,987.1 938.1,985.3 939.0,991.4 939.9,987.1 940.8,987.5 941.7,985.9 942.6,987.6 943.5,986.5 944.4,987.6 945.3,984.9 946.2,993.0 947.1,987.0 948.0,990.0 948.9,987.4 949.8,987.5 950.7,985.5 951.6,987.8 952.5,983.1 953.4,987.3 954.3,984.4 955.2,990.5 956.1,986.3 957.0,988.2 957.9,986.3 958.8,989.3 959.7,983.2 960.6,987.7 961.5,986.0 962.4,990.8 963.3,986.1 964.2,990.1 965.1,987.1 966.0,988.1 966.9,984.9 967.8,988.2 968.7,985.4 969.6,988.9 970.5,984.4 971.4,990.0 972.3,985.0 973.2,986.8 974.1,983.6 975.0,989.6 975.9,985.1 976.8,991.5 977.7,984.9 978.6,987.5 979.5,983.3 980.4,985.9 981.3,983.5 982.2,986.2 983.1,983.7 984.0,985.7 984.9,981.6 985.8,986.6 986.7,980.8 987.6,984.7 988.5,981.2 989.4,983.3 990.3,980.5 991.2,987.1 992.1,979.6 993.0,984.7 993.9,979.0 994.8,982.7 995.7,978.6 996.6,980.5 997.5,975.8 998.4,977.9 999.3,972.6 1000.2,974.6 1001.1,966.9 1002.0,970.9 1002.9,964.4 1003.8,967.1 1004.7,958.5 1005.6,960.8 1006.5,948.0 1007.4,951.2 1008.3,940.1 1009.2,941.2 1010.1,929.2 1011.0,931.5 1011.9,923.9 1012.8,923.3 1013.7,915.6 1014.6,931.4 1015.5,921.8 1016.4,927.2 1017.3,920.9 1018.2,930.6 1019.1,919.4 1020.0,935.2 1020.9,935.7 1021.8,941.3 1022.7,942.4 1023.6,948.0 1024.5,946.0 1025.4,957.2 1026.3,953.8 1027.2,964.9 1028.1,964.7 1029.0,974.8 1029.9,971.0 1030.8,974.3 1031.7,968.7 1032.6,975.9 1033.5,974.3 1034.4,979.3 1035.3,977.4 1036.2,981.3 1037.1,979.9 1038.0,982.4 1038.9,979.8 1039.8,982.8 1040.7,981.2 1041.6,985.9 1042.5,983.5 1043.4,985.2 1044.3,978.7 1045.2,984.9 1046.1,984.0 1047.0,987.0 1047.9,983.4 1048.8,988.1 1049.7,985.2 1050.6,987.6 1051.5,983.2 1052.4,987.0 1053.3,984.2 1054.2,988.2 1055.1,985.8 1056.0,989.4 1056.9,985.2 1057.8,986.6 1058.7,983.0 1059.6,986.9 1060.5,981.7 1061.4,989.7 1062.3,985.7 1063.2,989.6 1064.1,987.4 1065.0,989.5 1065.9,984.8 1066.8,987.0 1067.7,981.4 1068.6,989.5 1069.5,984.9 1070.4,986.8 1071.3,983.7 1072.2,989.1 1073.1,983.7 1074.0,987.1 1074.9,981.2 1075.8,986.2 1076.7,985.2 1077.6,990.3 1078.5,985.0 1079.4,990.5 1080.3,983.4 1081.2,985.6 1082.1,984.4 1083.0,985.1 1083.9,981.2 1084.8,987.1 1085.7,981.5 1086.6,981.6 1087.5,977.9 1088.4,980.8 1089.3,976.6 1090.2,980.2 1091.1,978.4 1092.0,979.0 1092.9,975.9 1093.8,978.0 1094.7,971.7 1095.6,973.9 1096.5,967.6 1097.4,970.4 1098.3,965.2 1099.2,967.1 1100.1,965.7 1101.0,967.0 1101.9,964.9 1102.8,971.8 1103.7,961.7 1104.6,968.6 1105.5,965.3 1106.4,971.8 1107.3,960.3 1108.2,973.0 1109.1,961.9 1110.0,970.5 1110.9,969.7 1111.8,973.5 1112.7,969.7 1113.6,974.3 1114.5,971.5 1115.4,975.9 1116.3,975.9 1117.2,979.8 1118.1,979.4 1119.0,981.5 1119.9,979.9 1120.8,982.8 1121.7,981.0 1122.6,983.7 1123.5,981.1 1124.4,984.4 1125.3,980.5 1126.2,982.9 1127.1,981.4 1128.0,983.9 1128.9,981.8 1129.8,985.3 1130.7,982.8 1131.6,986.3 1132.5,980.2 1133.4,986.6 1134.3,985.4 1135.2,988.3 1136.1,984.7 1137.0,988.8 1137.9,985.4 1138.8,988.9 1139.7,983.8 1140.6,987.9 1141.5,987.3 1142.4,987.2 1143.3,983.8 1144.2,989.6 1145.1,983.5 1146.0,986.3 1146.9,984.2 1147.8,985.8 1148.7,981.1 1149.6,989.2 1150.5,987.6 1151.4,989.1 1152.3,985.0 1153.2,989.0 1154.1,986.7 1155.0,987.9 1155.9,986.2 1156.8,988.7 1157.7,983.4 1158.6,986.4 1159.5,982.5 1160.4,987.7 1161.3,986.5 1162.2,988.0 1163.1,981.2 1164.0,988.6 1164.9,981.1 1165.8,986.2 1166.7,985.0 1167.6,985.2 1168.5,978.8 1169.4,988.0 1170.3,981.2 1171.2,990.3 1172.1,982.9 1173.0,985.4 1173.9,981.4 1174.8,982.2 1175.7,977.9 1176.6,979.7 1177.5,977.0 1178.4,980.2 1179.3,975.8 1180.2,977.7 1181.1,967.2 1182.0,971.2 1182.9,967.0 1183.8,967.3 1184.7,965.3 1185.6,967.6 1186.5,959.2 1187.4,968.1 1188.3,959.0 1189.2,961.5 1190.1,959.0 1191.0,957.0 1191.9,947.2 1192.8,954.7 1193.7,947.4 1194.6,958.9 1195.5,954.5 1196.4,962.1 1197.3,959.5 1198.2,959.9 1199.1,960.9 1200.0,965.6 1200.9,965.2 1201.8,974.3 1202.7,967.1 1203.6,973.8 1204.5,971.8 1205.4,979.7 1206.3,975.9 1207.2,982.0 1208.1,977.9 1209.0,981.5 1209.9,973.5 1210.8,981.2 1211.7,979.5 1212.6,984.7 1213.5,982.2 1214.4,986.9 1215.3,983.7 1216.2,986.9 1217.1,985.1 1218.0,987.1 1218.9,985.0 1219.8,989.5 1220.7,985.5 1221.6,988.8 1222.5,983.7 1223.4,986.8 1224.3,981.4 1225.2,988.4 1226.1,985.9 1227.0,987.5 1227.9,985.9 1228.8,988.2 1229.7,987.3 1230.6,988.4 1231.5,986.7 1232.4,986.4 1233.3,984.9 1234.2,986.1 1235.1,985.3 1236.0,986.8 1236.9,984.9 1237.8,988.3 1238.7,984.5 1239.6,992.5 1240.5,988.0 1241.4,990.4 1242.3,986.7 1243.2,989.6 1244.1,985.5 1245.0,989.3 1245.9,986.7 1246.8,990.0 1247.7,987.2 1248.6,988.0 1249.5,986.0 1250.4,988.1 1251.3,986.2 1252.2,989.4 1253.1,987.1 1254.0,989.9 1254.9,984.1 1255.8,987.8 1256.7,986.6 1257.6,990.5 1258.5,986.5 1259.4,988.8 1260.3,986.2 1261.2,991.6 1262.1,985.7 1263.0,989.0 1263.9,988.7 1264.8,989.4 1265.7,985.1 1266.6,991.1 1267.5,985.2 1268.4,988.1 1269.3,985.4 1270.2,993.2 1271.1,988.5 1272.0,991.0 1272.9,988.4 1273.8,989.8 1274.7,986.1 1275.6,987.9 1276.5,986.9 1277.4,988.7 1278.3,986.6 1279.2,990.9 1280.1,988.9 1281.0,990.3 1281.9,985.9 1282.8,988.2 1283.7,986.6 1284.6,987.9 1285.5,986.0 1286.4,987.5 1287.3,987.5 1288.2,989.1 1289.1,985.5 1290.0,988.3 1290.9,983.6 1291.8,985.6 1292.7,985.2 1293.6,988.0 1294.5,986.4 1295.4,989.4 1296.3,985.3 1297.2,988.2 1298.1,982.1 1299.0,987.1 1299.9,983.7 1300.8,988.4 1301.7,982.0 1302.6,986.3 1303.5,980.4 1304.4,987.1 1305.3,988.8 1306.2,984.7 1307.1,983.2 1308.0,985.5 1308.9,983.8 1309.8,984.4 1310.7,983.2 1311.6,984.2 1312.5,981.4 1313.4,985.6 1314.3,983.4 1315.2,985.1 1316.1,984.0 1317.0,987.2 1317.9,984.2 1318.8,985.8 1319.7,984.5 1320.6,985.6 1321.5,985.0 1322.4,987.5 1323.3,984.9 1324.2,986.6 1325.1,985.0 1326.0,987.0 1326.9,982.8 1327.8,989.8 1328.7,986.5 1329.6,988.8 1330.5,986.4 1331.4,991.2 1332.3,987.0 1333.2,990.3 1334.1,986.2 1335.0,988.1 1335.9,984.9 1336.8,987.6 1337.7,987.2 1338.6,988.7 1339.5,987.1 1340.4,988.9 1341.3,988.3 1342.2,990.6 1343.1,987.6 1344.0,991.1 1344.9,987.3 1345.8,987.6 1346.7,983.8 1347.6,987.5 1348.5,986.6 1349.4,988.5 1350.3,987.5 1351.2,988.3 1352.1,985.3 1353.0,987.8 1353.9,985.7 1354.8,990.4 1355.7,986.1 1356.6,990.0 1357.5,986.8 1358.4,986.9 1359.3,985.3 1360.2,985.0 1361.1,978.9 1362.0,985.4 1362.9,982.5 1363.8,981.9 1364.7,977.7 1365.6,977.0 1366.5,969.3 1367.4,978.8 1368.3,965.7 1369.2,970.1 1370.1,964.1 1371.0,965.8 1371.9,953.2 1372.8,959.5 1373.7,948.4 1374.6,953.1 1375.5,944.4 1376.4,942.3 1377.3,933.4 1378.2,930.8 1379.1,918.9 1380.0,920.7 1380.9,908.8 1381.8,915.1 1382.7,906.6 1383.6,907.8 1384.5,899.0 1385.4,907.7 1386.3,893.9 1387.2,901.3 1388.1,893.0 1389.0,907.8 1389.9,892.0 1390.8,900.2 1391.7,898.4 1392.6,910.9 1393.5,904.2 1394.4,915.0 1395.3,915.8 1396.2,922.8 1397.1,926.2 1398.0,935.3 1398.9,929.9 1399.8,946.2 1400.7,942.3 1401.6,947.5 1402.5,953.9 1403.4,954.3 1404.3,949.9 1405.2,963.9 1406.1,964.5 1407.0,970.5 1407.9,969.4 1408.8,974.0 1409.7,971.5 1410.6,978.5 1411.5,972.7 1412.4,983.3 1413.3,979.0 1414.2,984.0 1415.1,980.1 1416.0,985.3 1416.9,983.7 1417.8,986.5 1418.7,982.1 1419.6,989.9 1420.5,984.9 1421.4,990.2 1422.3,984.9 1423.2,988.0 1424.1,988.2 1425.0,990.0 1425.9,988.5 1426.8,990.3 1427.7,988.6 1428.6,989.9 1429.5,988.1 1430.4,990.0 1431.3,988.8 1432.2,993.2 1433.1,988.8 1434.0,990.7 1434.9,989.6 1435.8,991.7 1436.7,989.1 1437.6,990.7 1438.5,988.4 1439.4,996.5 1440.3,988.9 1441.2,989.0 1442.1,988.4 1443.0,990.0 1443.9,988.3 1444.8,990.1 1445.7,988.9 1446.6,990.0 1447.5,985.6 1448.4,989.9 1449.3,986.4 1450.2,989.8 1451.1,989.0 1452.0,991.9 1452.9,989.5 1453.8,990.5 1454.7,988.6 1455.6,991.2 1456.5,988.8 1457.4,991.8 1458.3,987.0 1459.2,992.7 1460.1,987.6 1461.0,990.1 1461.9,986.1 1462.8,991.2 1463.7,986.9 1464.6,988.2 1465.5,986.7 1466.4,988.6 1467.3,987.1 1468.2,990.3 1469.1,989.7 1470.0,990.6 1470.9,988.8 1471.8,989.9 1472.7,987.0 1473.6,990.4 1474.5,987.1 1475.4,989.9 1476.3,987.9 1477.2,989.9 1478.1,987.9 1479.0,990.8 1479.9,986.7 1480.8,989.4 1481.7,988.2 1482.6,989.5 1483.5,986.6 1484.4,989.5 1485.3,987.0 1486.2,991.7 1487.1,987.4 1488.0,989.1 1488.9,988.2 1489.8,992.1 1490.7,987.2 1491.6,990.0 1492.5,990.0 1493.4,992.2 1494.3,988.0 1495.2,991.0 1496.1,987.9 1497.0,990.8 1497.9,986.8 1498.8,990.6 1499.7,988.6 1500.6,990.9 1501.5,988.5 1502.4,990.6 1503.3,986.2 1504.2,990.2 1505.1,988.2 1506.0,989.2 1506.9,985.3 1507.8,988.0 1508.7,986.2 1509.6,989.0 1510.5,987.9 1511.4,988.4 1512.3,985.8 1513.2,987.8 1514.1,983.8 1515.0,987.1 1515.9,985.6 1516.8,985.3 1517.7,983.8 1518.6,987.1 1519.5,983.4 1520.4,985.4 1521.3,982.9 1522.2,982.7 1523.1,979.7 1524.0,983.5 1524.9,979.9 1525.8,983.0 1526.7,980.2 1527.6,980.5 1528.5,977.6 1529.4,979.7 1530.3,977.7 1531.2,981.9 1532.1,979.2 1533.0,985.2 1533.9,979.6 1534.8,985.5 1535.7,980.7 1536.6,984.4 1537.5,981.8 1538.4,982.9 1539.3,982.1 1540.2,983.6 1541.1,980.7 1542.0,984.4 1542.9,982.7 1543.8,986.0 1544.7,985.0 1545.6,988.4 1546.5,985.0 1547.4,989.3 1548.3,984.5 1549.2,987.6 1550.1,986.0 1551.0,987.7 1551.9,987.5 1552.8,989.9 1553.7,986.1 1554.6,989.3 1555.5,987.8 1556.4,991.5 1557.3,987.7 1558.2,991.4 1559.1,990.0 1560.0,992.8 1560.9,986.9 1561.8,991.2 1562.7,988.3 1563.6,990.4 1564.5,989.2 1565.4,991.5 1566.3,989.7 1567.2,993.1 1568.1,990.0 1569.0,991.2 1569.9,989.2 1570.8,990.6 1571.7,988.2 1572.6,991.2 1573.5,989.4 1574.4,991.3 1575.3,988.8 1576.2,991.1 1577.1,989.2 1578.0,990.9 1578.9,989.4 1579.8,990.9 1580.7,989.7 1581.6,991.5 1582.5,990.7 1583.4,992.4 1584.3,989.9 1585.2,993.2 1586.1,990.1 1587.0,992.7 1587.9,989.9 1588.8,990.2 1589.7,987.2 1590.6,992.7 1591.5,986.6 1592.4,992.9 1593.3,989.5 1594.2,992.7 1595.1,985.5 1596.0,991.0 1596.9,987.2 1597.8,992.3 1598.7,988.8 1599.6,991.7 1600.5,988.0 1601.4,992.6 1602.3,988.7 1603.2,991.4 1604.1,988.6 1605.0,990.7 1605.9,988.7 1606.8,992.4 1607.7,989.5 1608.6,990.9 1609.5,991.0 1610.4,990.9 1611.3,990.4 1612.2,993.7 1613.1,989.7 1614.0,992.4 1614.9,990.8 1615.8,993.3 1616.7,989.9 1617.6,990.3 1618.5,989.0 1619.4,992.6 1620.3,989.6 1621.2,992.3 1622.1,988.7 1623.0,990.3 1623.9,989.6 1624.8,991.3 1625.7,990.1 1626.6,990.5 1627.5,989.1 1628.4,991.2 1629.3,987.8 1630.2,991.1 1631.1,989.6 1632.0,990.7 1632.9,988.2 1633.8,992.2 1634.7,989.3 1635.6,991.2 1636.5,988.4 1637.4,990.9 1638.3,989.1 1639.2,992.3 1640.1,987.7 1641.0,991.7 1641.9,988.3 1642.8,990.8 1643.7,988.0 1644.6,990.0 1645.5,988.2 1646.4,990.5 1647.3,988.3 1648.2,990.1 1649.1,988.1 1650.0,991.4 1650.9,989.2 1651.8,990.1 1652.7,988.2 1653.6,990.3 1654.5,989.1 1655.4,991.1 1656.3,988.4 1657.2,991.2 1658.1,987.9 1659.0,989.7 1659.9,988.9 1660.8,991.8 1661.7,990.7 1662.6,992.0 1663.5,990.4 1664.4,992.3 1665.3,989.3 1666.2,990.9 1667.1,989.9 1668.0,991.4 1668.9,990.0 1669.8,991.6 1670.7,991.1 1671.6,995.6 1672.5,991.4 1673.4,992.8 1674.3,990.5 1675.2,990.5 1676.1,989.3 1677.0,990.3 1677.9,986.0 1678.8,991.5 1679.7,989.6 1680.6,990.5 1681.5,989.5 1682.4,991.7 1683.3,990.2 1684.2,991.3 1685.1,989.7 1686.0,990.1 1686.9,988.3 1687.8,990.7 1688.7,987.6 1689.6,991.2 1690.5,990.8 1691.4,992.8 1692.3,991.5 1693.2,991.6 1694.1,988.1 1695.0,991.5 1695.9,989.8 1696.8,991.4 1697.7,991.0 1698.6,991.5 1699.5,991.2 1700.4,991.7 1701.3,990.6 1702.2,991.5 1703.1,989.1 1704.0,990.4 1704.9,989.2 1705.8,991.6 1706.7,990.5 1707.6,991.2 1708.5,989.0 1709.4,990.4 1710.3,989.3 1711.2,990.9 1712.1,990.3 1713.0,991.4 1713.9,990.7 1714.8,990.6 1715.7,989.5 1716.6,991.4 1717.5,989.5 1718.4,991.4 1719.3,990.2 1720.2,990.4 1721.1,986.7 1722.0,989.3 1722.9,987.4 1723.8,991.2 1724.7,989.8 1725.6,991.9 1726.5,990.0 1727.4,990.5 1728.3,989.4 1729.2,990.3 1730.1,989.9 1731.0,991.5 1731.9,990.3 1732.8,991.5 1733.7,990.4 1734.6,991.6 1735.5,990.6 1736.4,991.6 1737.3,989.2 1738.2,990.8 1739.1,989.2 1740.0,991.9 1740.9,990.8 1741.8,991.8 1742.7,989.8 1743.6,992.8 1744.5,989.5 1745.4,992.8 1746.3,990.5 1747.2,991.1 1748.1,990.8 1749.0,991.4 1749.9,990.7 1750.8,991.2 1751.7,990.3 1752.6,990.8 1753.5,989.6 1754.4,991.7 1755.3,989.0 1756.2,991.2 1757.1,987.3 1758.0,990.7 1758.9,988.8 1759.8,990.5 1760.7,990.1 1761.6,990.6 1762.5,990.2 1763.4,991.1 1764.3,989.9 1765.2,992.8 1766.1,991.6 1767.0,991.9 1767.9,990.4 1768.8,992.4 1769.7,990.3 1770.6,992.8 1771.5,990.4 1772.4,991.0 1773.3,990.8 1774.2,991.4 1775.1,990.6 1776.0,991.5 1776.9,991.0 1777.8,993.0 1778.7,989.1 1779.6,993.8 1780.5,990.8 1781.4,990.8 1782.3,988.2 1783.2,990.7 1784.1,990.2 1785.0,991.1 1785.9,989.8 1786.8,991.8 1787.7,990.2 1788.6,991.9 1789.5,990.9 1790.4,992.8 1791.3,990.8 1792.2,991.1 1793.1,989.6 1794.0,991.2 1794.9,989.2 1795.8,992.4 1796.7,990.6 1797.6,992.1 1798.5,989.6 1799.4,991.8 1800.3,989.4 1801.2,990.7 1802.1,988.6 1803.0,994.0 1803.9,990.4 1804.8,990.5 1805.7,988.8 1806.6,992.3 1807.5,990.2 1808.4,992.0 1809.3,989.1 1810.2,990.9 1811.1,990.0 1812.0,992.2 1812.9,990.2 1813.8,991.0 1814.7,988.3 1815.6,991.1 1816.5,990.5 1817.4,991.0 1818.3,989.0 1819.2,992.2 1820.1,989.6 1821.0,990.9 1821.9,989.6 1822.8,991.1 1823.7,989.8 1824.6,991.3 1825.5,988.4 1826.4,992.3 1827.3,989.8 1828.2,992.9 1829.1,989.3"/>
<polyline class="c" stroke="#ff0000" stroke-width="3.1" points="37.2,1154.1 38.1,1154.1 39.0,1154.1 39.9,1154.1 40.8,1154.1 41.7,1154.1 42.6,1154.1 43.5,1154.1 44.4,1154.1 45.3,1154.1 46.2,1154.1 47.1,1154.1 48.0,1154.1 48.9,1154.0 49.8,1153.8 50.7,1153.5 51.6,1152.9 52.5,1150.6 53.4,1152.4 54.3,1150.9 55.2,1150.2 56.1,1147.4 57.0,1148.7 57.9,1146.2 58.8,1149.0 59.7,1145.0 60.6,1151.3 61.5,1147.2 62.4,1153.3 63.3,1147.8 64.2,1152.8 65.1,1145.3 66.0,1150.0 66.9,1142.8 67.8,1146.8 68.7,1144.5 69.6,1144.4 70.5,1140.6 71.4,1142.6 72.3,1133.2 73.2,1141.6 74.1,1135.8 75.0,1141.2 75.9,1133.1 76.8,1134.4 77.7,1127.3 78.6,1133.2 79.5,1128.5 80.4,1130.6 81.3,1125.3 82.2,1140.1 83.1,1134.7 84.0,1142.6 84.9,1132.7 85.8,1138.9 86.7,1135.3 87.6,1141.5 88.5,1141.3 89.4,1145.4 90.3,1145.9 91.2,1150.2 92.1,1147.5 93.0,1150.9 93.9,1148.2 94.8,1149.7 95.7,1145.3 96.6,1149.8 97.5,1146.8 98.4,1149.6 99.3,1144.8 100.2,1149.1 101.1,1140.9 102.0,1151.3 102.9,1149.6 103.8,1150.6 104.7,1147.4 105.6,1149.7 106.5,1148.6 107.4,1150.4 108.3,1149.9 109.2,1150.7 110.1,1148.9 111.0,1151.1 111.9,1147.5 112.8,1148.0 113.7,1139.2 114.6,1142.8 115.5,1138.5 116.4,1144.9 117.3,1137.7 118.2,1138.7 119.1,1129.8 120.0,1137.2 120.9,1126.8 121.8,1134.6 122.7,1131.2 123.6,1134.6 124.5,1130.3 125.4,1131.8 126.3,1128.8 127.2,1133.9 128.1,1129.0 129.0,1132.4 129.9,1128.9 130.8,1135.8 131.7,1127.7 132.6,1136.8 133.5,1129.4 134.4,1141.3 135.3,1129.3 136.2,1135.6 137.1,1130.1 138.0,1141.0 138.9,1135.9 139.8,1138.6 140.7,1135.8 141.6,1136.2 142.5,1126.6 143.4,1135.2 144.3,1132.0 145.2,1135.9 146.1,1134.9 147.0,1137.8 147.9,1134.3 148.8,1135.9 149.7,1133.5 150.6,1134.9 151.5,1133.3 152.4,1134.4 153.3,1128.4 154.2,1130.1 155.1,1117.3 156.0,1125.4 156.9,1123.0 157.8,1123.7 158.7,1116.7 159.6,1119.1 160.5,1115.2 161.4,1117.8 162.3,1111.6 163.2,1118.3 164.1,1110.9 165.0,1113.3 165.9,1107.1 166.8,1106.3 167.7,1099.2 168.6,1107.9 169.5,1104.8 170.4,1106.6 171.3,1095.5 172.2,1098.0 173.1,1090.5 174.0,1094.2 174.9,1088.9 175.8,1086.0 176.7,1072.7 177.6,1077.2 178.5,1061.7 179.4,1058.7 180.3,1039.3 181.2,1029.5 182.1,1006.2 183.0,996.2 183.9,957.5 184.8,958.8 185.7,940.7 186.6,941.2 187.5,919.9 188.4,926.9 189.3,926.2 190.2,948.3 191.1,958.3 192.0,984.0 192.9,993.6 193.8,1024.2 194.7,1043.3 195.6,1063.3 196.5,1074.5 197.4,1094.5 198.3,1099.5 199.2,1123.5 200.1,1121.3 201.0,1133.3 201.9,1134.7 202.8,1142.3 203.7,1139.6 204.6,1144.0 205.5,1142.3 206.4,1144.1 207.3,1144.0 208.2,1149.3 209.1,1144.7 210.0,1146.1 210.9,1144.4 211.8,1146.5 212.7,1143.2 213.6,1148.7 214.5,1145.2 215.4,1147.7 216.3,1143.5 217.2,1147.0 218.1,1144.4 219.0,1146.4 219.9,1142.7 220.8,1147.9 221.7,1145.7 222.6,1146.7 223.5,1145.1 224.4,1147.7 225.3,1144.8 226.2,1148.2 227.1,1142.8 228.0,1147.2 228.9,1145.1 229.8,1147.3 230.7,1144.3 231.6,1149.1 232.5,1144.7 233.4,1145.9 234.3,1144.9 235.2,1146.2 236.1,1145.0 237.0,1145.7 237.9,1140.5 238.8,1145.6 239.7,1143.6 240.6,1148.6 241.5,1142.3 242.4,1144.5 243.3,1139.8 244.2,1143.0 245.1,1140.6 246.0,1144.4 246.9,1139.6 247.8,1147.2 248.7,1140.4 249.6,1144.2 250.5,1142.5 251.4,1144.7 252.3,1138.4 253.2,1145.9 254.1,1141.9 255.0,1142.8 255.9,1142.3 256.8,1142.4 257.7,1139.3 258.6,1143.8 259.5,1140.1 260.4,1142.9 261.3,1138.1 262.2,1147.0 263.1,1141.5 264.0,1146.1 264.9,1140.6 265.8,1145.4 266.7,1141.4 267.6,1142.5 268.5,1141.6 269.4,1143.2 270.3,1140.0 271.2,1145.0 272.1,1140.3 273.0,1146.1 273.9,1143.4 274.8,1149.2 275.7,1141.2 276.6,1140.7 277.5,1136.7 278.4,1142.9 279.3,1138.8 280.2,1147.4 281.1,1133.0 282.0,1140.9 282.9,1136.9 283.8,1141.3 284.7,1127.4 285.6,1138.4 286.5,1131.8 287.4,1139.0 288.3,1132.5 289.2,1134.7 290.1,1130.6 291.0,1131.9 291.9,1119.7 292.8,1125.0 293.7,1114.3 294.6,1119.7 295.5,1109.7 296.4,1112.3 297.3,1101.4 298.2,1102.5 299.1,1094.9 300.0,1096.1 300.9,1089.4 301.8,1094.5 302.7,1085.0 303.6,1090.9 304.5,1086.9 305.4,1103.6 306.3,1099.4 307.2,1108.5 308.1,1104.8 309.0,1115.5 309.9,1113.6 310.8,1120.0 311.7,1122.0 312.6,1130.7 313.5,1124.7 314.4,1131.6 315.3,1128.8 316.2,1134.7 317.1,1134.1 318.0,1138.6 318.9,1132.9 319.8,1137.2 320.7,1133.4 321.6,1140.3 322.5,1135.7 323.4,1142.5 324.3,1135.0 325.2,1137.3 326.1,1136.7 327.0,1139.7 327.9,1135.3 328.8,1140.1 329.7,1137.8 330.6,1145.8 331.5,1138.9 332.4,1141.7 333.3,1138.0 334.2,1140.1 335.1,1135.0 336.0,1138.3 336.9,1130.6 337.8,1141.3 338.7,1130.3 339.6,1138.8 340.5,1135.1 341.4,1139.7 342.3,1131.8 343.2,1140.4 344.1,1134.7 345.0,1136.8 345.9,1133.7 346.8,1138.3 347.7,1134.3 348.6,1138.2 349.5,1131.8 350.4,1135.7 351.3,1133.7 352.2,1137.9 353.1,1134.9 354.0,1138.3 354.9,1145.0 355.8,1141.5 356.7,1130.2 357.6,1141.3 358.5,1133.2 359.4,1138.2 360.3,1134.3 361.2,1139.7 362.1,1134.3 363.0,1139.9 363.9,1136.9 364.8,1142.9 365.7,1136.5 366.6,1141.1 367.5,1131.0 368.4,1138.0 369.3,1131.0 370.2,1138.2 371.1,1131.9 372.0,1136.1 372.9,1131.0 373.8,1134.2 374.7,1128.4 375.6,1139.4 376.5,1128.7 377.4,1141.6 378.3,1131.3 379.2,1132.8 380.1,1131.3 381.0,1135.3 381.9,1123.2 382.8,1138.2 383.7,1131.4 384.6,1136.1 385.5,1132.8 386.4,1135.2 387.3,1132.0 388.2,1133.8 389.1,1126.8 390.0,1135.8 390.9,1131.5 391.8,1136.8 392.7,1128.6 393.6,1134.2 394.5,1128.3 395.4,1133.0 396.3,1130.8 397.2,1139.1 398.1,1133.5 399.0,1139.5 399.9,1131.6 400.8,1139.4 401.7,1136.2 402.6,1138.3 403.5,1133.5 404.4,1138.4 405.3,1128.0 406.2,1138.2 407.1,1134.1 408.0,1145.2 408.9,1135.4 409.8,1140.0 410.7,1137.0 411.6,1144.4 412.5,1137.4 413.4,1139.1 414.3,1130.7 415.2,1141.4 416.1,1137.8 417.0,1146.0 417.9,1137.1 418.8,1144.4 419.7,1134.8 420.6,1139.5 421.5,1135.0 422.4,1148.8 423.3,1138.2 424.2,1147.6 425.1,1136.8 426.0,1144.6 426.9,1138.9 427.8,1142.9 428.7,1138.9 429.6,1147.6 430.5,1143.1 431.4,1144.4 432.3,1137.7 433.2,1145.4 434.1,1143.0 435.0,1144.1 435.9,1142.8 436.8,1146.6 437.7,1144.5 438.6,1145.5 439.5,1143.1 440.4,1145.1 441.3,1139.0 442.2,1146.0 443.1,1139.4 444.0,1146.3 444.9,1143.7 445.8,1145.7 446.7,1144.8 447.6,1145.5 448.5,1141.4 449.4,1145.7 450.3,1140.1 451.2,1147.7 452.1,1140.9 453.0,1145.7 453.9,1150.6 454.8,1142.5 455.7,1139.6 456.6,1144.2 457.5,1141.6 458.4,1144.7 459.3,1136.8 460.2,1140.8 461.1,1139.4 462.0,1142.2 462.9,1136.2 463.8,1145.9 464.7,1142.8 465.6,1143.6 466.5,1140.7 467.4,1144.4 468.3,1142.7 469.2,1143.6 470.1,1141.0 471.0,1148.4 471.9,1138.9 472.8,1144.7 473.7,1142.5 474.6,1145.4 475.5,1141.9 476.4,1142.7 477.3,1140.5 478.2,1145.0 479.1,1137.8 480.0,1143.7 480.9,1142.1 481.8,1145.6 482.7,1143.1 483.6,1147.4 484.5,1140.0 485.4,1146.8 486.3,1142.4 487.2,1147.1 488.1,1139.9 489.0,1146.0 489.9,1141.3 490.8,1145.6 491.7,1142.5 492.6,1145.3 493.5,1141.6 494.4,1149.3 495.3,1142.5 496.2,1147.4 497.1,1143.8 498.0,1146.7 498.9,1144.3 499.8,1148.3 500.7,1140.0 501.6,1145.9 502.5,1142.3 503.4,1145.1 504.3,1144.0 505.2,1148.2 506.1,1143.9 507.0,1143.7 507.9,1143.0 508.8,1147.6 509.7,1140.9 510.6,1140.9 511.5,1141.3 512.4,1143.0 513.3,1142.2 514.2,1148.6 515.1,1144.8 516.0,1149.1 516.9,1143.4 517.8,1145.1 518.7,1139.3 519.6,1143.6 520.5,1139.3 521.4,1142.6 522.3,1141.4 523.2,1143.4 524.1,1142.7 525.0,1144.9 525.9,1143.3 526.8,1144.3 527.7,1142.2 528.6,1142.0 529.5,1137.3 530.4,1142.2 531.3,1141.0 532.2,1143.0 533.1,1138.6 534.0,1143.5 534.9,1136.8 535.8,1142.0 536.7,1140.9 537.6,1143.1 538.5,1142.7 539.4,1146.4 540.3,1143.0 541.2,1145.1 542.1,1142.8 543.0,1147.4 543.9,1139.1 544.8,1143.6 545.7,1140.2 546.6,1144.7 547.5,1140.4 548.4,1141.8 549.3,1140.8 550.2,1145.7 551.1,1141.5 552.0,1147.4 552.9,1137.2 553.8,1144.3 554.7,1140.2 555.6,1145.0 556.5,1140.7 557.4,1143.3 558.3,1139.9 559.2,1147.7 560.1,1137.2 561.0,1142.8 561.9,1141.0 562.8,1143.3 563.7,1142.5 564.6,1144.0 565.5,1138.4 566.4,1143.4 567.3,1141.0 568.2,1149.1 569.1,1142.1 570.0,1148.6 570.9,1141.7 571.8,1144.9 572.7,1143.4 573.6,1147.9 574.5,1140.9 575.4,1144.6 576.3,1140.2 577.2,1146.0 578.1,1137.5 579.0,1143.0 579.9,1142.3 580.8,1145.8 581.7,1141.1 582.6,1143.8 583.5,1135.0 584.4,1145.1 585.3,1141.2 586.2,1147.3 587.1,1139.8 588.0,1144.2 588.9,1142.0 589.8,1147.2 590.7,1141.3 591.6,1145.6 592.5,1137.3 593.4,1148.8 594.3,1141.4 595.2,1143.8 596.1,1140.5 597.0,1145.1 597.9,1139.5 598.8,1147.8 599.7,1140.5 600.6,1145.7 601.5,1139.3 602.4,1147.7 603.3,1142.5 604.2,1152.5 605.1,1141.6 606.0,1145.0 606.9,1140.8 607.8,1144.9 608.7,1140.3 609.6,1146.3 610.5,1142.8 611.4,1148.4 612.3,1142.3 613.2,1143.5 614.1,1140.8 615.0,1147.8 615.9,1144.3 616.8,1145.5 617.7,1141.6 618.6,1144.4 619.5,1143.9 620.4,1145.3 621.3,1143.0 622.2,1147.0 623.1,1143.2 624.0,1144.7 624.9,1143.2 625.8,1144.8 626.7,1141.3 627.6,1146.2 628.5,1143.2 629.4,1143.9 630.3,1139.3 631.2,1146.4 632.1,1140.0 633.0,1144.1 633.9,1143.3 634.8,1147.0 635.7,1142.9 636.6,1145.0 637.5,1141.1 638.4,1142.7 639.3,1139.5 640.2,1144.7 641.1,1138.7 642.0,1150.4 642.9,1141.9 643.8,1145.4 644.7,1142.9 645.6,1147.0 646.5,1140.9 647.4,1145.0 648.3,1142.7 649.2,1151.3 650.1,1142.9 651.0,1145.7 651.9,1142.3 652.8,1149.0 653.7,1142.4 654.6,1144.1 655.5,1141.0 656.4,1143.2 657.3,1142.1 658.2,1147.6 659.1,1143.1 660.0,1148.1 660.9,1141.9 661.8,1148.2 662.7,1141.9 663.6,1146.4 664.5,1136.9 665.4,1145.4 666.3,1144.3 667.2,1149.4 668.1,1144.4 669.0,1148.5 669.9,1143.7 670.8,1148.7 671.7,1140.2 672.6,1146.3 673.5,1138.6 674.4,1147.2 675.3,1143.4 676.2,1149.2 677.1,1144.2 678.0,1149.1 678.9,1140.8 679.8,1147.0 680.7,1141.9 681.6,1148.2 682.5,1143.0 683.4,1144.6 684.3,1140.7 685.2,1144.6 686.1,1141.3 687.0,1144.8 687.9,1144.0 688.8,1146.4 689.7,1141.9 690.6,1146.8 691.5,1143.3 692.4,1147.0 693.3,1142.2 694.2,1147.1 695.1,1144.0 696.0,1146.4 696.9,1148.5 697.8,1146.0 698.7,1142.8 699.6,1144.9 700.5,1144.1 701.4,1145.5 702.3,1140.0 703.2,1147.7 704.1,1140.0 705.0,1144.5 705.9,1144.6 706.8,1145.5 707.7,1142.1 708.6,1146.6 709.5,1141.2 710.4,1145.3 711.3,1139.7 712.2,1145.9 713.1,1144.5 714.0,1145.5 714.9,1144.3 715.8,1145.8 716.7,1143.4 717.6,1148.5 718.5,1141.0 719.4,1146.2 720.3,1143.5 721.2,1146.8 722.1,1141.5 723.0,1146.8 723.9,1144.5 724.8,1146.6 725.7,1144.4 726.6,1148.5 727.5,1141.0 728.4,1147.2 729.3,1142.4 730.2,1149.8 731.1,1142.9 732.0,1149.5 732.9,1148.2 733.8,1149.8 734.7,1146.4 735.6,1148.2 736.5,1143.6 737.4,1147.0 738.3,1142.1 739.2,1149.1 740.1,1145.8 741.0,1148.4 741.9,1146.0 742.8,1148.8 743.7,1145.9 744.6,1149.3 745.5,1145.7 746.4,1146.8 747.3,1146.8 748.2,1151.5 749.1,1145.0 750.0,1149.2 750.9,1147.0 751.8,1148.2 752.7,1145.5 753.6,1145.2 754.5,1143.9 755.4,1144.8 756.3,1145.4 757.2,1150.4 758.1,1145.0 759.0,1148.0 759.9,1146.3 760.8,1147.3 761.7,1147.1 762.6,1149.2 763.5,1144.9 764.4,1147.4 765.3,1145.6 766.2,1146.6 767.1,1144.9 768.0,1147.7 768.9,1145.4 769.8,1151.0 770.7,1143.2 771.6,1148.8 772.5,1146.5 773.4,1148.6 774.3,1145.5 775.2,1148.8 776.1,1143.4 777.0,1150.2 777.9,1145.6 778.8,1148.9 779.7,1144.0 780.6,1147.2 781.5,1145.4 782.4,1146.6 783.3,1146.3 784.2,1151.8 785.1,1149.1 786.0,1150.9 786.9,1141.2 787.8,1148.9 788.7,1142.6 789.6,1146.5 790.5,1145.4 791.4,1148.7 792.3,1144.8 793.2,1149.1 794.1,1145.5 795.0,1147.7 795.9,1145.3 796.8,1148.7 797.7,1144.4 798.6,1152.9 799.5,1146.9 800.4,1148.5 801.3,1145.4 802.2,1147.4 803.1,1146.4 804.0,1147.6 804.9,1145.4 805.8,1150.8 806.7,1141.1 807.6,1149.8 808.5,1144.0 809.4,1148.0 810.3,1145.7 811.2,1149.2 812.1,1145.6 813.0,1150.9 813.9,1143.7 814.8,1147.2 815.7,1144.8 816.6,1148.0 817.5,1144.7 818.4,1150.3 819.3,1144.8 820.2,1150.2 821.1,1146.1 822.0,1149.1 822.9,1145.4 823.8,1149.4 824.7,1145.7 825.6,1147.5 826.5,1146.7 827.4,1151.3 828.3,1146.1 829.2,1148.7 830.1,1146.2 831.0,1148.8 831.9,1145.1 832.8,1147.0 833.7,1143.9 834.6,1146.9 835.5,1146.2 836.4,1150.9 837.3,1145.6 838.2,1149.5 839.1,1145.9 840.0,1148.6 840.9,1145.4 841.8,1151.0 842.7,1147.5 843.6,1149.3 844.5,1144.2 845.4,1147.6 846.3,1144.0 847.2,1147.0 848.1,1143.9 849.0,1150.3 849.9,1144.3 850.8,1150.5 851.7,1145.3 852.6,1149.1 853.5,1145.5 854.4,1148.2 855.3,1144.5 856.2,1149.2 857.1,1142.8 858.0,1148.4 858.9,1146.6 859.8,1147.2 860.7,1146.7 861.6,1147.7 862.5,1146.1 863.4,1149.2 864.3,1142.1 865.2,1147.2 866.1,1147.2 867.0,1148.8 867.9,1147.8 868.8,1150.1 869.7,1146.0 870.6,1148.3 871.5,1145.1 872.4,1150.0 873.3,1145.1 874.2,1153.5 875.1,1142.5 876.0,1151.2 876.9,1147.5 877.8,1150.0 878.7,1147.5 879.6,1149.6 880.5,1147.4 881.4,1148.9 882.3,1148.6 883.2,1151.6 884.1,1147.0 885.0,1150.2 885.9,1145.1 886.8,1148.7 887.7,1146.5 888.6,1149.6 889.5,1144.8 890.4,1148.9 891.3,1145.4 892.2,1148.2 893.1,1147.7 894.0,1148.3 894.9,1147.5 895.8,1148.4 896.7,1144.9 897.6,1153.9 898.5,1146.4 899.4,1149.7 900.3,1145.9 901.2,1150.3 902.1,1146.4 903.0,1150.8 903.9,1144.9 904.8,1149.0 905.7,1145.6 906.6,1151.0 907.5,1147.8 908.4,1149.4 909.3,1144.8 910.2,1147.6 911.1,1146.0 912.0,1150.1 912.9,1145.3 913.8,1150.0 914.7,1146.3 915.6,1148.7 916.5,1145.8 917.4,1147.0 918.3,1143.4 919.2,1147.9 920.1,1146.9 921.0,1148.8 921.9,1144.0 922.8,1149.8 923.7,1147.5 924.6,1149.7 925.5,1142.8 926.4,1147.0 927.3,1146.5 928.2,1150.3 929.1,1145.4 930.0,1149.2 930.9,1146.5 931.8,1148.6 932.7,1147.7 933.6,1150.3 934.5,1144.7 935.4,1149.0 936.3,1144.7 937.2,1149.6 938.1,1146.1 939.0,1150.2 939.9,1148.9 940.8,1149.6 941.7,1146.3 942.6,1147.3 943.5,1146.2 944.4,1147.6 945.3,1145.4 946.2,1150.8 947.1,1146.5 948.0,1149.7 948.9,1146.9 949.8,1152.8 950.7,1143.3 951.6,1148.7 952.5,1146.4 953.4,1151.5 954.3,1146.4 955.2,1151.6 956.1,1149.4 957.0,1149.4 957.9,1146.1 958.8,1150.5 959.7,1149.6 960.6,1152.0 961.5,1147.6 962.4,1149.1 963.3,1147.6 964.2,1149.5 965.1,1147.7 966.0,1149.2 966.9,1148.3 967.8,1151.0 968.7,1146.7 969.6,1149.7 970.5,1146.6 971.4,1150.7 972.3,1147.1 973.2,1149.1 974.1,1146.4 975.0,1148.9 975.9,1144.0 976.8,1149.5 977.7,1147.6 978.6,1150.2 979.5,1147.8 980.4,1149.1 981.3,1148.1 982.2,1149.5 983.1,1145.9 984.0,1148.0 984.9,1145.9 985.8,1149.6 986.7,1143.2 987.6,1149.4 988.5,1143.5 989.4,1148.2 990.3,1139.8 991.2,1145.1 992.1,1141.6 993.0,1142.5 993.9,1139.9 994.8,1144.3 995.7,1136.6 996.6,1137.5 997.5,1134.9 998.4,1136.7 999.3,1133.6 1000.2,1134.8 1001.1,1128.4 1002.0,1136.6 1002.9,1119.0 1003.8,1124.5 1004.7,1114.4 1005.6,1116.4 1006.5,1104.7 1007.4,1107.1 1008.3,1103.8 1009.2,1106.2 1010.1,1095.0 1011.0,1094.0 1011.9,1082.6 1012.8,1089.8 1013.7,1085.5 1014.6,1089.3 1015.5,1085.2 1016.4,1090.7 1017.3,1085.9 1018.2,1092.0 1019.1,1085.1 1020.0,1094.3 1020.9,1097.9 1021.8,1103.0 1022.7,1095.3 1023.6,1115.3 1024.5,1110.4 1025.4,1122.7 1026.3,1120.5 1027.2,1126.4 1028.1,1124.4 1029.0,1131.7 1029.9,1130.4 1030.8,1135.8 1031.7,1131.8 1032.6,1139.9 1033.5,1133.9 1034.4,1141.2 1035.3,1137.6 1036.2,1142.2 1037.1,1139.2 1038.0,1145.6 1038.9,1142.8 1039.8,1146.0 1040.7,1140.8 1041.6,1148.7 1042.5,1142.1 1043.4,1146.1 1044.3,1146.1 1045.2,1147.7 1046.1,1147.7 1047.0,1149.5 1047.9,1144.2 1048.8,1153.2 1049.7,1147.1 1050.6,1150.4 1051.5,1147.5 1052.4,1151.3 1053.3,1144.3 1054.2,1147.4 1055.1,1143.1 1056.0,1148.9 1056.9,1146.9 1057.8,1147.9 1058.7,1147.5 1059.6,1147.2 1060.5,1145.2 1061.4,1148.9 1062.3,1147.6 1063.2,1151.2 1064.1,1147.9 1065.0,1152.9 1065.9,1148.4 1066.8,1149.7 1067.7,1147.0 1068.6,1152.8 1069.5,1147.7 1070.4,1150.9 1071.3,1146.5 1072.2,1149.7 1073.1,1147.8 1074.0,1150.3 1074.9,1148.2 1075.8,1150.2 1076.7,1145.8 1077.6,1149.2 1078.5,1147.6 1079.4,1149.3 1080.3,1145.1 1081.2,1151.1 1082.1,1147.6 1083.0,1150.8 1083.9,1147.0 1084.8,1151.0 1085.7,1147.1 1086.6,1148.2 1087.5,1145.4 1088.4,1147.2 1089.3,1144.2 1090.2,1146.8 1091.1,1141.3 1092.0,1143.6 1092.9,1140.3 1093.8,1144.1 1094.7,1141.6 1095.6,1143.7 1096.5,1135.6 1097.4,1143.1 1098.3,1137.8 1099.2,1139.1 1100.1,1137.5 1101.0,1140.6 1101.9,1137.6 1102.8,1141.1 1103.7,1131.5 1104.6,1139.0 1105.5,1136.3 1106.4,1137.2 1107.3,1137.7 1108.2,1142.5 1109.1,1139.9 1110.0,1144.3 1110.9,1140.0 1111.8,1144.3 1112.7,1140.7 1113.6,1144.9 1114.5,1137.6 1115.4,1143.6 1116.3,1141.5 1117.2,1143.9 1118.1,1143.5 1119.0,1147.2 1119.9,1145.5 1120.8,1146.8 1121.7,1145.6 1122.6,1149.7 1123.5,1146.1 1124.4,1148.3 1125.3,1147.9 1126.2,1150.1 1127.1,1148.5 1128.0,1148.8 1128.9,1147.8 1129.8,1149.7 1130.7,1145.9 1131.6,1148.9 1132.5,1147.8 1133.4,1150.8 1134.3,1147.3 1135.2,1150.8 1136.1,1147.4 1137.0,1148.3 1137.9,1147.4 1138.8,1148.8 1139.7,1148.0 1140.6,1149.1 1141.5,1147.8 1142.4,1148.2 1143.3,1147.6 1144.2,1151.2 1145.1,1147.2 1146.0,1153.0 1146.9,1146.4 1147.8,1150.5 1148.7,1148.1 1149.6,1151.0 1150.5,1149.9 1151.4,1152.5 1152.3,1149.3 1153.2,1152.5 1154.1,1150.0 1155.0,1150.5 1155.9,1149.5 1156.8,1151.4 1157.7,1147.7 1158.6,1152.7 1159.5,1148.1 1160.4,1151.6 1161.3,1147.1 1162.2,1156.9 1163.1,1147.0 1164.0,1150.8 1164.9,1149.2 1165.8,1149.7 1166.7,1146.7 1167.6,1150.3 1168.5,1147.3 1169.4,1148.3 1170.3,1145.4 1171.2,1148.7 1172.1,1143.9 1173.0,1141.6 1173.9,1145.5 1174.8,1146.8 1175.7,1144.7 1176.6,1145.7 1177.5,1144.2 1178.4,1144.4 1179.3,1140.4 1180.2,1141.3 1181.1,1138.6 1182.0,1142.2 1182.9,1137.8 1183.8,1142.9 1184.7,1134.9 1185.6,1136.6 1186.5,1131.1 1187.4,1137.7 1188.3,1130.6 1189.2,1133.1 1190.1,1131.8 1191.0,1136.6 1191.9,1132.0 1192.8,1138.6 1193.7,1138.7 1194.6,1135.0 1195.5,1133.1 1196.4,1136.2 1197.3,1131.4 1198.2,1136.5 1199.1,1135.6 1200.0,1138.6 1200.9,1137.9 1201.8,1141.7 1202.7,1137.4 1203.6,1143.4 1204.5,1142.7 1205.4,1146.0 1206.3,1143.6 1207.2,1145.9 1208.1,1143.0 1209.0,1147.9 1209.9,1143.7 1210.8,1146.7 1211.7,1145.5 1212.6,1150.2 1213.5,1146.9 1214.4,1148.9 1215.3,1148.5 1216.2,1151.9 1217.1,1145.8 1218.0,1148.4 1218.9,1147.3 1219.8,1151.2 1220.7,1146.8 1221.6,1149.2 1222.5,1148.1 1223.4,1150.0 1224.3,1148.7 1225.2,1150.2 1226.1,1149.4 1227.0,1150.9 1227.9,1147.6 1228.8,1151.2 1229.7,1150.6 1230.6,1152.0 1231.5,1149.4 1232.4,1151.2 1233.3,1150.0 1234.2,1152.0 1235.1,1149.7 1236.0,1151.2 1236.9,1146.5 1237.8,1150.3 1238.7,1148.6 1239.6,1150.2 1240.5,1149.1 1241.4,1150.1 1242.3,1147.6 1243.2,1149.6 1244.1,1147.5 1245.0,1150.0 1245.9,1149.3 1246.8,1151.6 1247.7,1147.3 1248.6,1151.2 1249.5,1147.1 1250.4,1150.5 1251.3,1145.3 1252.2,1151.1 1253.1,1148.2 1254.0,1153.5 1254.9,1147.0 1255.8,1149.6 1256.7,1148.4 1257.6,1150.6 1258.5,1147.6 1259.4,1152.2 1260.3,1149.4 1261.2,1150.7 1262.1,1147.2 1263.0,1151.2 1263.9,1147.4 1264.8,1149.6 1265.7,1148.8 1266.6,1149.6 1267.5,1149.2 1268.4,1152.9 1269.3,1149.9 1270.2,1151.5 1271.1,1150.1 1272.0,1150.8 1272.9,1149.3 1273.8,1151.7 1274.7,1148.4 1275.6,1154.1 1276.5,1148.3 1277.4,1150.5 1278.3,1148.8 1279.2,1150.9 1280.1,1149.6 1281.0,1152.4 1281.9,1148.7 1282.8,1151.0 1283.7,1149.9 1284.6,1150.9 1285.5,1149.4 1286.4,1151.8 1287.3,1148.2 1288.2,1154.9 1289.1,1150.3 1290.0,1153.0 1290.9,1149.7 1291.8,1153.8 1292.7,1150.4 1293.6,1151.6 1294.5,1150.9 1295.4,1151.9 1296.3,1150.0 1297.2,1152.1 1298.1,1149.3 1299.0,1151.1 1299.9,1149.9 1300.8,1151.0 1301.7,1145.9 1302.6,1151.4 1303.5,1146.1 1304.4,1149.6 1305.3,1148.1 1306.2,1150.3 1307.1,1148.1 1308.0,1150.7 1308.9,1149.0 1309.8,1152.6 1310.7,1149.1 1311.6,1151.2 1312.5,1149.9 1313.4,1152.5 1314.3,1150.9 1315.2,1154.1 1316.1,1150.0 1317.0,1152.2 1317.9,1150.6 1318.8,1152.2 1319.7,1149.3 1320.6,1153.5 1321.5,1148.9 1322.4,1150.4 1323.3,1148.8 1324.2,1151.7 1325.1,1150.2 1326.0,1151.7 1326.9,1148.1 1327.8,1153.5 1328.7,1147.7 1329.6,1151.0 1330.5,1148.2 1331.4,1151.9 1332.3,1149.4 1333.2,1150.2 1334.1,1148.6 1335.0,1152.1 1335.9,1149.1 1336.8,1150.7 1337.7,1146.6 1338.6,1150.7 1339.5,1148.5 1340.4,1153.9 1341.3,1151.7 1342.2,1153.8 1343.1,1150.0 1344.0,1150.6 1344.9,1149.2 1345.8,1151.1 1346.7,1150.4 1347.6,1151.2 1348.5,1146.5 1349.4,1152.2 1350.3,1147.4 1351.2,1149.1 1352.1,1147.3 1353.0,1148.7 1353.9,1147.8 1354.8,1152.4 1355.7,1146.0 1356.6,1149.6 1357.5,1148.1 1358.4,1149.6 1359.3,1145.9 1360.2,1146.7 1361.1,1145.4 1362.0,1145.2 1362.9,1142.1 1363.8,1147.8 1364.7,1137.1 1365.6,1138.6 1366.5,1128.3 1367.4,1133.5 1368.3,1123.2 1369.2,1124.3 1370.1,1119.8 1371.0,1118.4 1371.9,1112.1 1372.8,1116.4 1373.7,1104.1 1374.6,1103.3 1375.5,1087.9 1376.4,1091.7 1377.3,1085.6 1378.2,1083.0 1379.1,1077.8 1380.0,1076.5 1380.9,1063.6 1381.8,1073.5 1382.7,1060.3 1383.6,1059.3 1384.5,1054.0 1385.4,1054.3 1386.3,1046.2 1387.2,1055.6 1388.1,1050.0 1389.0,1059.8 1389.9,1059.2 1390.8,1064.6 1391.7,1066.4 1392.6,1069.0 1393.5,1070.1 1394.4,1075.8 1395.3,1074.7 1396.2,1089.1 1397.1,1091.0 1398.0,1102.6 1398.9,1102.4 1399.8,1106.9 1400.7,1105.1 1401.6,1116.0 1402.5,1113.9 1403.4,1121.3 1404.3,1123.5 1405.2,1129.5 1406.1,1125.8 1407.0,1135.0 1407.9,1132.8 1408.8,1137.5 1409.7,1137.1 1410.6,1140.0 1411.5,1139.8 1412.4,1144.1 1413.3,1143.9 1414.2,1148.2 1415.1,1145.5 1416.0,1148.9 1416.9,1146.9 1417.8,1151.7 1418.7,1145.3 1419.6,1150.5 1420.5,1148.5 1421.4,1151.7 1422.3,1149.3 1423.2,1152.6 1424.1,1151.6 1425.0,1152.7 1425.9,1151.6 1426.8,1153.6 1427.7,1150.5 1428.6,1155.8 1429.5,1150.0 1430.4,1152.2 1431.3,1149.4 1432.2,1151.5 1433.1,1149.7 1434.0,1152.3 1434.9,1149.4 1435.8,1151.8 1436.7,1150.4 1437.6,1152.1 1438.5,1149.4 1439.4,1153.5 1440.3,1151.6 1441.2,1153.8 1442.1,1147.6 1443.0,1152.1 1443.9,1148.7 1444.8,1150.9 1445.7,1148.9 1446.6,1151.8 1447.5,1150.3 1448.4,1152.2 1449.3,1149.8 1450.2,1153.0 1451.1,1150.9 1452.0,1153.4 1452.9,1152.3 1453.8,1152.7 1454.7,1151.6 1455.6,1153.1 1456.5,1150.7 1457.4,1151.1 1458.3,1149.3 1459.2,1150.8 1460.1,1149.4 1461.0,1151.5 1461.9,1148.9 1462.8,1152.1 1463.7,1149.4 1464.6,1153.0 1465.5,1148.2 1466.4,1153.0 1467.3,1150.3 1468.2,1151.7 1469.1,1151.5 1470.0,1153.7 1470.9,1152.4 1471.8,1153.9 1472.7,1149.5 1473.6,1151.5 1474.5,1148.4 1475.4,1152.6 1476.3,1151.7 1477.2,1153.5 1478.1,1150.8 1479.0,1151.2 1479.9,1148.3 1480.8,1152.3 1481.7,1150.6 1482.6,1151.7 1483.5,1150.7 1484.4,1152.2 1485.3,1151.7 1486.2,1152.6 1487.1,1151.9 1488.0,1152.7 1488.9,1150.0 1489.8,1152.6 1490.7,1150.8 1491.6,1152.1 1492.5,1151.2 1493.4,1153.7 1494.3,1151.2 1495.2,1151.9 1496.1,1150.6 1497.0,1151.3 1497.9,1150.3 1498.8,1151.7 1499.7,1149.3 1500.6,1151.3 1501.5,1149.8 1502.4,1151.2 1503.3,1150.0 1504.2,1152.7 1505.1,1148.3 1506.0,1154.2 1506.9,1149.4 1507.8,1150.1 1508.7,1148.0 1509.6,1150.3 1510.5,1147.2 1511.4,1149.4 1512.3,1147.7 1513.2,1150.3 1514.1,1146.4 1515.0,1148.1 1515.9,1146.6 1516.8,1146.1 1517.7,1144.8 1518.6,1146.0 1519.5,1143.3 1520.4,1145.9 1521.3,1142.5 1522.2,1144.9 1523.1,1139.3 1524.0,1140.5 1524.9,1136.7 1525.8,1138.7 1526.7,1135.6 1527.6,1140.1 1528.5,1134.0 1529.4,1138.6 1530.3,1134.3 1531.2,1139.4 1532.1,1140.3 1533.0,1143.1 1533.9,1136.4 1534.8,1140.4 1535.7,1140.6 1536.6,1142.3 1537.5,1140.7 1538.4,1143.0 1539.3,1140.9 1540.2,1146.1 1541.1,1141.4 1542.0,1145.2 1542.9,1144.5 1543.8,1145.3 1544.7,1145.4 1545.6,1148.8 1546.5,1145.8 1547.4,1148.3 1548.3,1146.9 1549.2,1151.3 1550.1,1149.4 1551.0,1149.7 1551.9,1149.2 1552.8,1152.0 1553.7,1148.7 1554.6,1150.0 1555.5,1146.4 1556.4,1152.0 1557.3,1149.4 1558.2,1150.3 1559.1,1148.0 1560.0,1151.2 1560.9,1150.7 1561.8,1151.6 1562.7,1149.0 1563.6,1151.6 1564.5,1151.2 1565.4,1151.8 1566.3,1151.1 1567.2,1153.9 1568.1,1150.6 1569.0,1153.7 1569.9,1150.3 1570.8,1151.4 1571.7,1148.9 1572.6,1151.1 1573.5,1149.5 1574.4,1153.7 1575.3,1152.3 1576.2,1153.6 1577.1,1151.3 1578.0,1152.9 1578.9,1150.9 1579.8,1152.0 1580.7,1148.9 1581.6,1152.6 1582.5,1151.0 1583.4,1153.5 1584.3,1151.1 1585.2,1152.0 1586.1,1150.0 1587.0,1151.6 1587.9,1151.2 1588.8,1153.7 1589.7,1151.9 1590.6,1153.1 1591.5,1152.7 1592.4,1153.2 1593.3,1151.3 1594.2,1153.0 1595.1,1151.2 1596.0,1153.7 1596.9,1150.4 1597.8,1151.1 1598.7,1150.9 1599.6,1152.0 1600.5,1151.2 1601.4,1152.5 1602.3,1151.3 1603.2,1152.1 1604.1,1150.5 1605.0,1153.0 1605.9,1151.4 1606.8,1154.6 1607.7,1150.9 1608.6,1151.6 1609.5,1150.9 1610.4,1152.7 1611.3,1150.8 1612.2,1153.6 1613.1,1151.4 1614.0,1153.0 1614.9,1150.3 1615.8,1154.2 1616.7,1151.8 1617.6,1153.7 1618.5,1151.0 1619.4,1152.6 1620.3,1150.3 1621.2,1152.1 1622.1,1151.7 1623.0,1153.0 1623.9,1151.6 1624.8,1152.7 1625.7,1150.5 1626.6,1154.1 1627.5,1151.3 1628.4,1153.6 1629.3,1152.5 1630.2,1153.5 1631.1,1151.7 1632.0,1152.7 1632.9,1150.7 1633.8,1153.1 1634.7,1151.0 1635.6,1155.9 1636.5,1149.8 1637.4,1152.7 1638.3,1150.5 1639.2,1152.8 1640.1,1150.8 1641.0,1154.4 1641.9,1149.4 1642.8,1152.0 1643.7,1150.1 1644.6,1152.1 1645.5,1150.3 1646.4,1152.6 1647.3,1150.5 1648.2,1152.4 1649.1,1152.0 1650.0,1154.9 1650.9,1150.8 1651.8,1153.7 1652.7,1151.6 1653.6,1152.1 1654.5,1150.0 1655.4,1153.2 1656.3,1150.3 1657.2,1151.1 1658.1,1149.9 1659.0,1154.0 1659.9,1151.2 1660.8,1151.7 1661.7,1151.1 1662.6,1151.8 1663.5,1151.5 1664.4,1153.1 1665.3,1152.2 1666.2,1152.6 1667.1,1151.6 1668.0,1152.7 1668.9,1151.7 1669.8,1152.4 1670.7,1151.3 1671.6,1152.9 1672.5,1149.9 1673.4,1152.2 1674.3,1150.5 1675.2,1154.9 1676.1,1150.6 1677.0,1152.3 1677.9,1151.8 1678.8,1152.6 1679.7,1151.9 1680.6,1154.1 1681.5,1151.9 1682.4,1152.3 1683.3,1152.0 1684.2,1153.3 1685.1,1150.5 1686.0,1154.3 1686.9,1149.4 1687.8,1153.1 1688.7,1152.1 1689.6,1152.2 1690.5,1150.5 1691.4,1152.3 1692.3,1151.3 1693.2,1152.7 1694.1,1149.6 1695.0,1153.9 1695.9,1151.6 1696.8,1152.2 1697.7,1151.4 1698.6,1153.0 1699.5,1151.5 1700.4,1153.0 1701.3,1151.2 1702.2,1153.1 1703.1,1152.0 1704.0,1152.8 1704.9,1152.3 1705.8,1152.8 1706.7,1152.1 1707.6,1152.7 1708.5,1150.7 1709.4,1152.7 1710.3,1151.5 1711.2,1153.2 1712.1,1150.7 1713.0,1154.0 1713.9,1151.1 1714.8,1153.4 1715.7,1152.0 1716.6,1153.3 1717.5,1150.6 1718.4,1152.3 1719.3,1151.7 1720.2,1151.7 1721.1,1150.7 1722.0,1151.2 1722.9,1150.7 1723.8,1152.8 1724.7,1151.9 1725.6,1152.7 1726.5,1152.0 1727.4,1153.3 1728.3,1150.2 1729.2,1153.8 1730.1,1151.9 1731.0,1153.0 1731.9,1151.3 1732.8,1152.2 1733.7,1151.3 1734.6,1152.0 1735.5,1151.4 1736.4,1151.8 1737.3,1150.4 1738.2,1154.6 1739.1,1149.4 1740.0,1151.8 1740.9,1150.3 1741.8,1152.4 1742.7,1149.4 1743.6,1151.8 1744.5,1150.4 1745.4,1153.5 1746.3,1149.9 1747.2,1153.7 1748.1,1151.3 1749.0,1153.7 1749.9,1152.0 1750.8,1152.5 1751.7,1152.1 1752.6,1153.1 1753.5,1149.5 1754.4,1153.1 1755.3,1151.7 1756.2,1152.1 1757.1,1150.4 1758.0,1153.6 1758.9,1151.4 1759.8,1153.6 1760.7,1151.9 1761.6,1153.3 1762.5,1151.3 1763.4,1152.0 1764.3,1149.2 1765.2,1153.7 1766.1,1150.5 1767.0,1153.6 1767.9,1151.6 1768.8,1153.6 1769.7,1152.0 1770.6,1152.9 1771.5,1152.8 1772.4,1153.5 1773.3,1151.5 1774.2,1153.1 1775.1,1152.2 1776.0,1153.8 1776.9,1151.6 1777.8,1152.7 1778.7,1150.7 1779.6,1153.5 1780.5,1150.7 1781.4,1153.8 1782.3,1151.7 1783.2,1153.2 1784.1,1152.1 1785.0,1153.0 1785.9,1151.8 1786.8,1152.9 1787.7,1152.1 1788.6,1152.8 1789.5,1150.0 1790.4,1154.4 1791.3,1153.2 1792.2,1156.1 1793.1,1152.6 1794.0,1153.7 1794.9,1151.2 1795.8,1154.1 1796.7,1149.6 1797.6,1152.8 1798.5,1152.2 1799.4,1153.7 1800.3,1152.1 1801.2,1153.2 1802.1,1151.7 1803.0,1154.6 1803.9,1152.2 1804.8,1153.6 1805.7,1151.9 1806.6,1153.3 1807.5,1151.0 1808.4,1152.6 1809.3,1151.9 1810.2,1152.5 1811.1,1151.2 1812.0,1152.7 1812.9,1151.6 1813.8,1153.5 1814.7,1152.8 1815.6,1154.4 1816.5,1151.3 1817.4,1154.3 1818.3,1152.2 1819.2,1153.4 1820.1,1150.6 1821.0,1152.8 1821.9,1150.8 1822.8,1153.1 1823.7,1151.9 1824.6,1153.8 1825.5,1150.3 1826.4,1153.9 1827.3,1152.1 1828.2,1152.6 1829.1,1151.8"/>
<polyline class="c" stroke="#000000" stroke-width="3.1" points="37.2,1315.4 38.1,1315.4 39.0,1315.4 39.9,1315.4 40.8,1315.4 41.7,1315.4 42.6,1315.4 43.5,1315.4 44.4,1315.4 45.3,1315.4 46.2,1315.4 47.1,1315.4 48.0,1315.4 48.9,1315.3 49.8,1315.1 50.7,1314.8 51.6,1314.3 52.5,1311.4 53.4,1314.9 54.3,1307.0 55.2,1312.8 56.1,1311.5 57.0,1312.0 57.9,1306.4 58.8,1312.2 59.7,1302.3 60.6,1312.4 61.5,1310.3 62.4,1311.8 63.3,1309.7 64.2,1314.1 65.1,1303.0 66.0,1313.7 66.9,1306.2 67.8,1310.8 68.7,1305.5 69.6,1307.4 70.5,1301.4 71.4,1309.6 72.3,1300.9 73.2,1306.4 74.1,1299.6 75.0,1309.6 75.9,1300.0 76.8,1304.8 77.7,1293.8 78.6,1308.8 79.5,1296.1 80.4,1300.0 81.3,1297.0 82.2,1298.4 83.1,1288.3 84.0,1308.4 84.9,1300.4 85.8,1309.5 86.7,1302.6 87.6,1306.8 88.5,1306.0 89.4,1311.5 90.3,1305.2 91.2,1313.7 92.1,1310.0 93.0,1312.5 93.9,1310.1 94.8,1316.1 95.7,1310.0 96.6,1316.2 97.5,1307.6 98.4,1312.6 99.3,1309.6 100.2,1311.5 101.1,1309.6 102.0,1307.2 102.9,1307.9 103.8,1310.4 104.7,1310.5 105.6,1312.9 106.5,1309.2 107.4,1310.0 108.3,1307.9 109.2,1310.8 110.1,1305.9 111.0,1310.6 111.9,1301.6 112.8,1305.7 113.7,1297.6 114.6,1306.6 115.5,1299.7 116.4,1305.0 117.3,1292.6 118.2,1301.4 119.1,1294.8 120.0,1297.3 120.9,1292.7 121.8,1303.7 122.7,1289.3 123.6,1300.3 124.5,1286.4 125.4,1304.8 126.3,1293.2 127.2,1295.1 128.1,1286.0 129.0,1312.7 129.9,1281.8 130.8,1296.3 131.7,1289.5 132.6,1300.3 133.5,1293.1 134.4,1301.6 135.3,1293.9 136.2,1297.1 137.1,1296.1 138.0,1299.6 138.9,1289.7 139.8,1302.9 140.7,1290.5 141.6,1296.1 142.5,1290.2 143.4,1300.5 144.3,1293.2 145.2,1298.0 146.1,1294.2 147.0,1297.8 147.9,1294.1 148.8,1298.6 149.7,1292.1 150.6,1305.1 151.5,1286.5 152.4,1301.2 153.3,1295.7 154.2,1308.4 155.1,1287.4 156.0,1294.4 156.9,1288.9 157.8,1294.3 158.7,1282.9 159.6,1285.9 160.5,1266.1 161.4,1276.0 162.3,1263.4 163.2,1274.2 164.1,1254.8 165.0,1264.2 165.9,1252.5 166.8,1259.2 167.7,1253.1 168.6,1258.8 169.5,1240.4 170.4,1247.3 171.3,1240.8 172.2,1250.5 173.1,1238.8 174.0,1245.0 174.9,1236.4 175.8,1239.9 176.7,1232.5 177.6,1243.0 178.5,1223.2 179.4,1231.3 180.3,1194.1 181.2,1187.5 182.1,1140.5 183.0,1121.4 183.9,1072.4 184.8,1046.7 185.7,1001.3 186.6,986.4 187.5,957.1 188.4,962.0 189.3,958.9 190.2,999.2 191.1,1028.7 192.0,1067.5 192.9,1088.4 193.8,1133.5 194.7,1158.6 195.6,1193.8 196.5,1211.1 197.4,1233.7 198.3,1235.8 199.2,1263.5 200.1,1257.1 201.0,1271.9 201.9,1272.3 202.8,1287.5 203.7,1284.5 204.6,1298.1 205.5,1282.9 206.4,1301.1 207.3,1298.8 208.2,1301.6 209.1,1295.9 210.0,1308.0 210.9,1298.8 211.8,1306.3 212.7,1304.8 213.6,1307.9 214.5,1303.2 215.4,1309.1 216.3,1303.0 217.2,1313.4 218.1,1300.9 219.0,1305.7 219.9,1301.8 220.8,1308.6 221.7,1305.1 222.6,1308.7 223.5,1303.9 224.4,1307.8 225.3,1302.5 226.2,1309.1 227.1,1303.7 228.0,1303.8 228.9,1300.1 229.8,1305.4 230.7,1303.9 231.6,1305.8 232.5,1300.8 233.4,1307.7 234.3,1305.1 235.2,1309.7 236.1,1300.1 237.0,1309.7 237.9,1303.0 238.8,1307.0 239.7,1303.7 240.6,1312.7 241.5,1305.5 242.4,1310.8 243.3,1306.4 244.2,1310.4 245.1,1300.8 246.0,1306.2 246.9,1302.7 247.8,1305.8 248.7,1302.6 249.6,1306.7 250.5,1302.5 251.4,1304.0 252.3,1302.3 253.2,1303.7 254.1,1302.6 255.0,1305.8 255.9,1303.8 256.8,1309.6 257.7,1305.4 258.6,1309.1 259.5,1304.4 260.4,1308.4 261.3,1302.7 262.2,1306.8 263.1,1303.3 264.0,1306.2 264.9,1303.3 265.8,1309.6 266.7,1303.7 267.6,1310.0 268.5,1303.8 269.4,1303.9 270.3,1301.8 271.2,1307.8 272.1,1302.5 273.0,1307.7 273.9,1299.6 274.8,1309.2 275.7,1298.8 276.6,1309.5 277.5,1304.4 278.4,1311.2 279.3,1303.6 280.2,1309.9 281.1,1298.5 282.0,1310.6 282.9,1302.9 283.8,1315.8 284.7,1303.2 285.6,1305.1 286.5,1299.8 287.4,1307.0 288.3,1296.7 289.2,1306.4 290.1,1294.9 291.0,1303.2 291.9,1291.6 292.8,1290.3 293.7,1282.3 294.6,1284.7 295.5,1273.6 296.4,1276.2 297.3,1266.2 298.2,1276.2 299.1,1269.5 300.0,1268.1 300.9,1246.8 301.8,1258.3 302.7,1254.7 303.6,1264.3 304.5,1254.5 305.4,1264.5 306.3,1261.3 307.2,1271.5 308.1,1266.0 309.0,1254.0 309.9,1276.0 310.8,1282.4 311.7,1281.1 312.6,1288.1 313.5,1276.4 314.4,1293.5 315.3,1282.1 316.2,1298.6 317.1,1293.6 318.0,1304.1 318.9,1297.5 319.8,1303.3 320.7,1293.4 321.6,1300.8 322.5,1287.9 323.4,1302.8 324.3,1292.0 325.2,1299.6 326.1,1287.1 327.0,1299.6 327.9,1295.8 328.8,1298.6 329.7,1292.9 330.6,1299.6 331.5,1292.8 332.4,1310.0 333.3,1298.5 334.2,1305.3 335.1,1289.1 336.0,1306.2 336.9,1299.7 337.8,1302.7 338.7,1295.6 339.6,1302.6 340.5,1292.0 341.4,1300.1 342.3,1288.0 343.2,1304.6 344.1,1298.4 345.0,1307.2 345.9,1296.7 346.8,1302.9 347.7,1299.3 348.6,1302.9 349.5,1290.4 350.4,1309.8 351.3,1291.3 352.2,1302.5 353.1,1290.2 354.0,1300.1 354.9,1293.0 355.8,1308.0 356.7,1296.9 357.6,1299.8 358.5,1298.1 359.4,1300.0 360.3,1296.5 361.2,1298.0 362.1,1286.9 363.0,1301.2 363.9,1291.4 364.8,1303.2 365.7,1297.4 366.6,1306.1 367.5,1299.1 368.4,1302.3 369.3,1289.1 370.2,1301.7 371.1,1295.0 372.0,1301.8 372.9,1294.1 373.8,1302.9 374.7,1293.5 375.6,1277.5 376.5,1287.7 377.4,1295.4 378.3,1292.4 379.2,1300.2 380.1,1292.9 381.0,1302.5 381.9,1287.0 382.8,1297.0 383.7,1297.2 384.6,1302.1 385.5,1298.5 386.4,1299.7 387.3,1295.6 388.2,1302.5 389.1,1293.1 390.0,1300.5 390.9,1288.9 391.8,1298.7 392.7,1285.0 393.6,1301.2 394.5,1292.7 395.4,1297.8 396.3,1293.8 397.2,1299.3 398.1,1293.1 399.0,1300.1 399.9,1295.8 400.8,1301.2 401.7,1289.8 402.6,1301.3 403.5,1298.2 404.4,1300.6 405.3,1290.4 406.2,1301.0 407.1,1292.8 408.0,1303.3 408.9,1299.0 409.8,1303.0 410.7,1296.1 411.6,1297.9 412.5,1293.3 413.4,1297.8 414.3,1298.4 415.2,1303.9 416.1,1299.3 417.0,1304.6 417.9,1294.5 418.8,1306.3 419.7,1300.5 420.6,1303.1 421.5,1287.9 422.4,1306.6 423.3,1298.7 424.2,1305.4 425.1,1295.2 426.0,1304.0 426.9,1300.4 427.8,1302.5 428.7,1301.8 429.6,1302.4 430.5,1298.8 431.4,1301.6 432.3,1294.3 433.2,1298.6 434.1,1296.3 435.0,1300.6 435.9,1300.6 436.8,1303.9 437.7,1293.9 438.6,1301.5 439.5,1291.7 440.4,1299.1 441.3,1296.0 442.2,1306.0 443.1,1303.5 444.0,1309.0 444.9,1303.7 445.8,1304.2 446.7,1296.0 447.6,1303.9 448.5,1295.2 449.4,1301.2 450.3,1295.6 451.2,1303.4 452.1,1298.7 453.0,1307.3 453.9,1302.5 454.8,1307.7 455.7,1294.3 456.6,1304.7 457.5,1299.3 458.4,1304.3 459.3,1301.1 460.2,1310.2 461.1,1298.4 462.0,1301.2 462.9,1291.6 463.8,1303.6 464.7,1302.7 465.6,1303.3 466.5,1299.5 467.4,1307.9 468.3,1300.9 469.2,1306.8 470.1,1299.9 471.0,1309.4 471.9,1303.6 472.8,1304.2 473.7,1302.3 474.6,1303.5 475.5,1297.7 476.4,1304.6 477.3,1297.8 478.2,1300.9 479.1,1293.8 480.0,1304.8 480.9,1309.6 481.8,1309.5 482.7,1303.2 483.6,1308.6 484.5,1304.7 485.4,1305.9 486.3,1303.0 487.2,1303.3 488.1,1295.6 489.0,1305.1 489.9,1301.6 490.8,1306.1 491.7,1302.3 492.6,1305.1 493.5,1301.4 494.4,1304.4 495.3,1300.4 496.2,1306.2 497.1,1299.6 498.0,1309.5 498.9,1299.4 499.8,1305.5 500.7,1299.5 501.6,1304.9 502.5,1297.6 503.4,1303.4 504.3,1303.0 505.2,1308.1 506.1,1295.8 507.0,1304.9 507.9,1301.1 508.8,1311.9 509.7,1301.4 510.6,1303.6 511.5,1299.3 512.4,1305.8 513.3,1300.5 514.2,1308.2 515.1,1308.2 516.0,1305.8 516.9,1300.4 517.8,1300.5 518.7,1294.4 519.6,1302.2 520.5,1300.5 521.4,1305.1 522.3,1301.4 523.2,1303.1 524.1,1301.1 525.0,1309.5 525.9,1300.5 526.8,1305.2 527.7,1302.4 528.6,1305.4 529.5,1303.5 530.4,1308.0 531.3,1298.6 532.2,1306.7 533.1,1298.7 534.0,1304.6 534.9,1300.5 535.8,1307.5 536.7,1303.2 537.6,1308.5 538.5,1299.1 539.4,1305.0 540.3,1302.3 541.2,1305.5 542.1,1297.3 543.0,1306.9 543.9,1297.8 544.8,1304.2 545.7,1294.8 546.6,1323.9 547.5,1291.2 548.4,1309.1 549.3,1297.6 550.2,1306.0 551.1,1304.0 552.0,1304.5 552.9,1301.1 553.8,1308.7 554.7,1296.3 555.6,1310.3 556.5,1297.0 557.4,1312.8 558.3,1302.6 559.2,1306.1 560.1,1300.4 561.0,1304.8 561.9,1302.7 562.8,1309.7 563.7,1298.1 564.6,1303.8 565.5,1298.3 566.4,1303.0 567.3,1297.8 568.2,1304.0 569.1,1301.1 570.0,1309.9 570.9,1304.4 571.8,1306.3 572.7,1298.9 573.6,1304.5 574.5,1304.6 575.4,1305.9 576.3,1296.4 577.2,1310.8 578.1,1303.6 579.0,1315.0 579.9,1297.5 580.8,1308.6 581.7,1304.1 582.6,1309.3 583.5,1301.0 584.4,1314.1 585.3,1298.4 586.2,1308.8 587.1,1304.7 588.0,1307.5 588.9,1297.9 589.8,1305.4 590.7,1301.0 591.6,1305.5 592.5,1295.2 593.4,1306.2 594.3,1302.1 595.2,1312.0 596.1,1300.8 597.0,1304.5 597.9,1297.5 598.8,1312.9 599.7,1303.9 600.6,1312.1 601.5,1304.6 602.4,1304.8 603.3,1300.3 604.2,1309.3 605.1,1303.1 606.0,1305.7 606.9,1301.7 607.8,1306.4 608.7,1302.9 609.6,1310.0 610.5,1302.5 611.4,1304.8 612.3,1303.3 613.2,1306.9 614.1,1304.5 615.0,1310.5 615.9,1301.6 616.8,1308.1 617.7,1304.8 618.6,1307.5 619.5,1296.6 620.4,1306.5 621.3,1303.2 622.2,1304.9 623.1,1300.8 624.0,1308.5 624.9,1306.8 625.8,1308.6 626.7,1304.6 627.6,1306.4 628.5,1301.1 629.4,1306.7 630.3,1301.1 631.2,1312.4 632.1,1310.6 633.0,1314.4 633.9,1305.5 634.8,1308.3 635.7,1297.4 636.6,1306.5 637.5,1299.7 638.4,1306.2 639.3,1297.1 640.2,1307.2 641.1,1301.1 642.0,1304.5 642.9,1290.8 643.8,1306.1 644.7,1308.6 645.6,1308.1 646.5,1300.9 647.4,1309.5 648.3,1305.8 649.2,1308.6 650.1,1306.4 651.0,1310.7 651.9,1304.4 652.8,1306.5 653.7,1303.2 654.6,1308.6 655.5,1304.7 656.4,1311.8 657.3,1302.9 658.2,1315.2 659.1,1311.1 660.0,1307.3 660.9,1303.5 661.8,1305.5 662.7,1304.6 663.6,1312.3 664.5,1306.0 665.4,1307.2 666.3,1302.8 667.2,1307.1 668.1,1305.8 669.0,1311.2 669.9,1301.1 670.8,1310.8 671.7,1302.9 672.6,1309.1 673.5,1304.5 674.4,1309.0 675.3,1304.1 676.2,1314.8 677.1,1301.9 678.0,1308.0 678.9,1301.8 679.8,1306.9 680.7,1302.5 681.6,1308.9 682.5,1304.2 683.4,1310.9 684.3,1303.8 685.2,1308.7 686.1,1304.9 687.0,1314.4 687.9,1305.6 688.8,1309.0 689.7,1303.3 690.6,1306.2 691.5,1305.5 692.4,1309.2 693.3,1304.9 694.2,1310.8 695.1,1301.9 696.0,1311.5 696.9,1300.6 697.8,1308.8 698.7,1305.5 699.6,1308.9 700.5,1300.8 701.4,1310.5 702.3,1303.5 703.2,1314.0 704.1,1308.7 705.0,1315.1 705.9,1307.6 706.8,1308.2 707.7,1305.4 708.6,1306.2 709.5,1297.0 710.4,1310.4 711.3,1303.1 712.2,1308.0 713.1,1302.6 714.0,1306.5 714.9,1303.2 715.8,1305.9 716.7,1301.2 717.6,1307.0 718.5,1306.0 719.4,1309.5 720.3,1308.3 721.2,1315.4 722.1,1304.8 723.0,1311.5 723.9,1307.8 724.8,1311.2 725.7,1305.0 726.6,1308.8 727.5,1304.9 728.4,1307.4 729.3,1307.2 730.2,1308.7 731.1,1302.6 732.0,1310.5 732.9,1307.2 733.8,1311.2 734.7,1300.2 735.6,1310.5 736.5,1305.5 737.4,1308.5 738.3,1305.0 739.2,1311.1 740.1,1306.2 741.0,1313.5 741.9,1304.8 742.8,1308.2 743.7,1306.7 744.6,1311.8 745.5,1305.0 746.4,1307.6 747.3,1305.9 748.2,1310.0 749.1,1307.5 750.0,1309.7 750.9,1302.0 751.8,1311.5 752.7,1305.7 753.6,1308.0 754.5,1305.1 755.4,1310.7 756.3,1302.9 757.2,1307.9 758.1,1304.4 759.0,1308.2 759.9,1299.6 760.8,1313.4 761.7,1306.7 762.6,1312.5 763.5,1309.4 764.4,1313.4 765.3,1305.5 766.2,1308.1 767.1,1305.5 768.0,1310.8 768.9,1308.4 769.8,1310.1 770.7,1307.2 771.6,1309.0 772.5,1306.8 773.4,1308.7 774.3,1302.0 775.2,1313.6 776.1,1305.1 777.0,1310.8 777.9,1303.0 778.8,1307.3 779.7,1303.5 780.6,1314.7 781.5,1306.5 782.4,1315.8 783.3,1308.2 784.2,1317.0 785.1,1302.9 786.0,1312.6 786.9,1303.4 787.8,1310.1 788.7,1308.2 789.6,1311.4 790.5,1309.9 791.4,1311.6 792.3,1305.8 793.2,1315.2 794.1,1307.3 795.0,1310.1 795.9,1307.6 796.8,1309.2 797.7,1302.5 798.6,1310.4 799.5,1297.4 800.4,1311.9 801.3,1308.5 802.2,1311.5 803.1,1305.0 804.0,1311.8 804.9,1302.8 805.8,1310.0 806.7,1304.1 807.6,1312.5 808.5,1307.3 809.4,1314.1 810.3,1306.8 811.2,1310.2 812.1,1307.3 813.0,1310.5 813.9,1305.6 814.8,1320.1 815.7,1306.6 816.6,1309.8 817.5,1306.5 818.4,1315.7 819.3,1307.5 820.2,1310.0 821.1,1306.1 822.0,1308.3 822.9,1305.4 823.8,1313.7 824.7,1308.8 825.6,1312.9 826.5,1305.2 827.4,1311.7 828.3,1302.2 829.2,1308.8 830.1,1304.4 831.0,1309.7 831.9,1305.8 832.8,1315.3 833.7,1307.7 834.6,1311.9 835.5,1310.9 836.4,1313.9 837.3,1309.1 838.2,1310.3 839.1,1302.7 840.0,1309.6 840.9,1310.1 841.8,1312.5 842.7,1304.9 843.6,1306.4 844.5,1306.7 845.4,1308.1 846.3,1303.8 847.2,1309.3 848.1,1306.3 849.0,1309.9 849.9,1307.0 850.8,1310.2 851.7,1307.3 852.6,1309.2 853.5,1307.5 854.4,1309.9 855.3,1301.9 856.2,1312.6 857.1,1304.8 858.0,1320.6 858.9,1309.3 859.8,1316.3 860.7,1312.1 861.6,1315.3 862.5,1305.9 863.4,1314.8 864.3,1306.2 865.2,1311.1 866.1,1306.6 867.0,1308.8 867.9,1305.2 868.8,1312.7 869.7,1305.2 870.6,1312.0 871.5,1307.6 872.4,1313.3 873.3,1309.9 874.2,1315.4 875.1,1306.8 876.0,1313.7 876.9,1308.5 877.8,1311.6 878.7,1304.2 879.6,1308.5 880.5,1306.6 881.4,1311.6 882.3,1302.7 883.2,1315.3 884.1,1307.6 885.0,1313.7 885.9,1305.0 886.8,1311.2 887.7,1302.7 888.6,1315.2 889.5,1301.7 890.4,1308.5 891.3,1307.2 892.2,1312.6 893.1,1301.6 894.0,1308.6 894.9,1304.4 895.8,1310.1 896.7,1302.4 897.6,1311.5 898.5,1306.7 899.4,1310.6 900.3,1305.9 901.2,1316.2 902.1,1307.1 903.0,1311.0 903.9,1306.0 904.8,1310.5 905.7,1308.3 906.6,1311.4 907.5,1305.6 908.4,1315.0 909.3,1308.1 910.2,1312.2 911.1,1302.1 912.0,1309.5 912.9,1304.6 913.8,1308.5 914.7,1301.1 915.6,1310.6 916.5,1304.6 917.4,1310.5 918.3,1308.8 919.2,1311.7 920.1,1306.2 921.0,1315.2 921.9,1305.6 922.8,1311.5 923.7,1302.0 924.6,1312.3 925.5,1308.1 926.4,1309.3 927.3,1303.5 928.2,1310.3 929.1,1302.4 930.0,1309.0 930.9,1304.6 931.8,1310.3 932.7,1306.7 933.6,1312.2 934.5,1307.5 935.4,1313.0 936.3,1306.3 937.2,1311.2 938.1,1305.3 939.0,1311.3 939.9,1306.2 940.8,1308.9 941.7,1303.9 942.6,1313.0 943.5,1309.5 944.4,1311.1 945.3,1310.5 946.2,1312.9 947.1,1309.0 948.0,1313.3 948.9,1308.9 949.8,1313.2 950.7,1307.9 951.6,1311.9 952.5,1309.1 953.4,1312.2 954.3,1304.0 955.2,1311.4 956.1,1308.1 957.0,1314.2 957.9,1302.6 958.8,1311.0 959.7,1306.0 960.6,1311.1 961.5,1308.9 962.4,1310.7 963.3,1308.3 964.2,1311.7 965.1,1307.8 966.0,1311.5 966.9,1309.0 967.8,1309.4 968.7,1304.8 969.6,1311.9 970.5,1307.6 971.4,1310.7 972.3,1308.7 973.2,1310.0 974.1,1305.0 975.0,1310.4 975.9,1307.3 976.8,1312.7 977.7,1306.2 978.6,1311.4 979.5,1306.4 980.4,1311.0 981.3,1306.5 982.2,1308.6 983.1,1308.8 984.0,1311.5 984.9,1306.6 985.8,1309.6 986.7,1305.5 987.6,1308.5 988.5,1298.2 989.4,1307.8 990.3,1304.5 991.2,1307.0 992.1,1304.4 993.0,1304.9 993.9,1303.0 994.8,1307.5 995.7,1299.8 996.6,1308.8 997.5,1308.7 998.4,1301.1 999.3,1292.3 1000.2,1294.5 1001.1,1289.3 1002.0,1297.8 1002.9,1284.9 1003.8,1285.2 1004.7,1277.3 1005.6,1280.2 1006.5,1273.1 1007.4,1276.2 1008.3,1261.9 1009.2,1266.1 1010.1,1251.6 1011.0,1258.5 1011.9,1239.1 1012.8,1253.0 1013.7,1222.3 1014.6,1237.6 1015.5,1228.2 1016.4,1235.1 1017.3,1226.0 1018.2,1238.5 1019.1,1225.7 1020.0,1245.5 1020.9,1238.7 1021.8,1252.0 1022.7,1243.3 1023.6,1261.6 1024.5,1251.8 1025.4,1269.3 1026.3,1270.2 1027.2,1281.0 1028.1,1278.6 1029.0,1288.8 1029.9,1286.1 1030.8,1296.9 1031.7,1293.1 1032.6,1296.6 1033.5,1295.6 1034.4,1300.6 1035.3,1296.1 1036.2,1309.5 1037.1,1298.0 1038.0,1309.7 1038.9,1299.4 1039.8,1308.2 1040.7,1301.0 1041.6,1311.4 1042.5,1305.0 1043.4,1313.4 1044.3,1303.2 1045.2,1305.3 1046.1,1302.9 1047.0,1310.4 1047.9,1307.6 1048.8,1309.2 1049.7,1306.5 1050.6,1311.3 1051.5,1316.1 1052.4,1308.6 1053.3,1304.4 1054.2,1311.3 1055.1,1309.8 1056.0,1314.8 1056.9,1306.3 1057.8,1311.1 1058.7,1306.1 1059.6,1309.8 1060.5,1307.6 1061.4,1309.5 1062.3,1304.3 1063.2,1307.3 1064.1,1305.6 1065.0,1313.2 1065.9,1308.9 1066.8,1313.7 1067.7,1310.5 1068.6,1311.6 1069.5,1310.0 1070.4,1312.8 1071.3,1306.2 1072.2,1312.3 1073.1,1308.9 1074.0,1313.6 1074.9,1302.4 1075.8,1308.2 1076.7,1307.7 1077.6,1314.7 1078.5,1306.5 1079.4,1309.9 1080.3,1306.4 1081.2,1309.7 1082.1,1303.7 1083.0,1308.8 1083.9,1307.0 1084.8,1313.8 1085.7,1305.0 1086.6,1312.6 1087.5,1305.8 1088.4,1312.7 1089.3,1307.6 1090.2,1308.3 1091.1,1306.0 1092.0,1307.3 1092.9,1304.0 1093.8,1310.2 1094.7,1300.2 1095.6,1308.1 1096.5,1304.0 1097.4,1308.2 1098.3,1303.8 1099.2,1309.9 1100.1,1305.4 1101.0,1307.8 1101.9,1301.8 1102.8,1307.5 1103.7,1302.4 1104.6,1308.6 1105.5,1300.2 1106.4,1305.9 1107.3,1297.5 1108.2,1301.6 1109.1,1300.0 1110.0,1306.9 1110.9,1301.5 1111.8,1303.9 1112.7,1302.9 1113.6,1307.9 1114.5,1300.2 1115.4,1303.0 1116.3,1298.5 1117.2,1311.1 1118.1,1302.4 1119.0,1307.9 1119.9,1302.7 1120.8,1304.2 1121.7,1299.7 1122.6,1305.0 1123.5,1302.5 1124.4,1308.7 1125.3,1301.2 1126.2,1305.3 1127.1,1305.0 1128.0,1309.0 1128.9,1304.9 1129.8,1309.1 1130.7,1307.0 1131.6,1310.6 1132.5,1301.2 1133.4,1315.9 1134.3,1305.8 1135.2,1307.5 1136.1,1303.1 1137.0,1309.8 1137.9,1307.1 1138.8,1312.1 1139.7,1309.0 1140.6,1315.9 1141.5,1309.2 1142.4,1311.8 1143.3,1303.6 1144.2,1310.3 1145.1,1306.9 1146.0,1310.4 1146.9,1309.6 1147.8,1313.0 1148.7,1309.2 1149.6,1311.6 1150.5,1309.5 1151.4,1313.5 1152.3,1307.4 1153.2,1312.8 1154.1,1307.7 1155.0,1311.8 1155.9,1307.8 1156.8,1310.8 1157.7,1305.5 1158.6,1311.5 1159.5,1308.1 1160.4,1312.9 1161.3,1310.7 1162.2,1316.7 1163.1,1308.2 1164.0,1311.4 1164.9,1307.2 1165.8,1313.4 1166.7,1302.1 1167.6,1312.7 1168.5,1308.6 1169.4,1308.6 1170.3,1305.8 1171.2,1310.6 1172.1,1308.5 1173.0,1309.9 1173.9,1307.9 1174.8,1311.4 1175.7,1307.3 1176.6,1309.3 1177.5,1307.0 1178.4,1312.7 1179.3,1306.3 1180.2,1308.1 1181.1,1306.5 1182.0,1311.9 1182.9,1303.7 1183.8,1314.8 1184.7,1303.7 1185.6,1311.8 1186.5,1303.8 1187.4,1316.8 1188.3,1307.9 1189.2,1310.2 1190.1,1303.5 1191.0,1308.7 1191.9,1302.2 1192.8,1308.4 1193.7,1300.0 1194.6,1308.3 1195.5,1304.5 1196.4,1308.1 1197.3,1304.0 1198.2,1311.6 1199.1,1304.7 1200.0,1311.9 1200.9,1302.3 1201.8,1307.9 1202.7,1306.2 1203.6,1313.7 1204.5,1298.2 1205.4,1308.7 1206.3,1304.6 1207.2,1308.3 1208.1,1305.1 1209.0,1312.5 1209.9,1306.5 1210.8,1309.9 1211.7,1306.8 1212.6,1315.0 1213.5,1304.3 1214.4,1311.7 1215.3,1305.5 1216.2,1311.3 1217.1,1307.5 1218.0,1313.3 1218.9,1308.6 1219.8,1313.6 1220.7,1306.6 1221.6,1313.1 1222.5,1308.3 1223.4,1313.0 1224.3,1306.1 1225.2,1312.1 1226.1,1306.3 1227.0,1314.3 1227.9,1307.8 1228.8,1314.3 1229.7,1309.2 1230.6,1306.1 1231.5,1308.3 1232.4,1313.5 1233.3,1307.9 1234.2,1311.1 1235.1,1308.5 1236.0,1314.1 1236.9,1307.4 1237.8,1312.7 1238.7,1307.6 1239.6,1310.3 1240.5,1307.9 1241.4,1309.1 1242.3,1305.4 1243.2,1313.3 1244.1,1305.9 1245.0,1316.8 1245.9,1308.7 1246.8,1315.9 1247.7,1308.2 1248.6,1308.4 1249.5,1308.2 1250.4,1315.7 1251.3,1309.2 1252.2,1312.5 1253.1,1306.7 1254.0,1312.8 1254.9,1310.0 1255.8,1312.1 1256.7,1307.9 1257.6,1311.2 1258.5,1310.5 1259.4,1312.5 1260.3,1309.3 1261.2,1315.6 1262.1,1307.4 1263.0,1312.0 1263.9,1307.7 1264.8,1311.4 1265.7,1310.3 1266.6,1314.2 1267.5,1306.1 1268.4,1312.4 1269.3,1307.9 1270.2,1315.2 1271.1,1304.9 1272.0,1313.9 1272.9,1311.3 1273.8,1313.1 1274.7,1309.1 1275.6,1318.2 1276.5,1310.4 1277.4,1312.0 1278.3,1307.6 1279.2,1310.8 1280.1,1309.9 1281.0,1316.3 1281.9,1310.5 1282.8,1312.9 1283.7,1309.7 1284.6,1311.1 1285.5,1307.9 1286.4,1315.7 1287.3,1309.8 1288.2,1315.4 1289.1,1310.1 1290.0,1316.3 1290.9,1307.0 1291.8,1311.6 1292.7,1309.0 1293.6,1311.4 1294.5,1310.6 1295.4,1311.8 1296.3,1307.6 1297.2,1311.8 1298.1,1307.4 1299.0,1316.1 1299.9,1305.5 1300.8,1315.4 1301.7,1310.9 1302.6,1313.1 1303.5,1309.4 1304.4,1312.8 1305.3,1303.0 1306.2,1309.1 1307.1,1302.9 1308.0,1312.7 1308.9,1307.2 1309.8,1313.6 1310.7,1310.1 1311.6,1311.3 1312.5,1310.3 1313.4,1314.1 1314.3,1309.4 1315.2,1311.2 1316.1,1309.8 1317.0,1311.3 1317.9,1311.5 1318.8,1313.8 1319.7,1309.9 1320.6,1310.6 1321.5,1308.4 1322.4,1311.5 1323.3,1305.3 1324.2,1314.4 1325.1,1310.1 1326.0,1314.0 1326.9,1307.5 1327.8,1312.0 1328.7,1309.2 1329.6,1311.2 1330.5,1309.1 1331.4,1312.0 1332.3,1305.0 1333.2,1311.2 1334.1,1310.7 1335.0,1313.9 1335.9,1309.2 1336.8,1312.4 1337.7,1305.2 1338.6,1313.2 1339.5,1309.5 1340.4,1311.9 1341.3,1307.8 1342.2,1310.4 1343.1,1308.4 1344.0,1310.6 1344.9,1305.3 1345.8,1310.3 1346.7,1307.9 1347.6,1312.4 1348.5,1309.6 1349.4,1311.7 1350.3,1308.5 1351.2,1311.7 1352.1,1308.9 1353.0,1311.3 1353.9,1305.6 1354.8,1311.0 1355.7,1306.5 1356.6,1314.5 1357.5,1307.5 1358.4,1309.2 1359.3,1304.1 1360.2,1306.9 1361.1,1304.0 1362.0,1306.1 1362.9,1295.4 1363.8,1299.6 1364.7,1291.5 1365.6,1295.5 1366.5,1286.5 1367.4,1284.7 1368.3,1268.1 1369.2,1277.9 1370.1,1269.2 1371.0,1267.8 1371.9,1258.8 1372.8,1260.7 1373.7,1253.0 1374.6,1251.3 1375.5,1239.9 1376.4,1243.7 1377.3,1222.2 1378.2,1228.1 1379.1,1212.4 1380.0,1219.8 1380.9,1194.0 1381.8,1208.5 1382.7,1192.6 1383.6,1208.7 1384.5,1194.2 1385.4,1195.3 1386.3,1184.9 1387.2,1193.8 1388.1,1179.4 1389.0,1194.1 1389.9,1192.1 1390.8,1197.9 1391.7,1200.3 1392.6,1215.1 1393.5,1210.2 1394.4,1217.6 1395.3,1213.5 1396.2,1233.6 1397.1,1220.2 1398.0,1242.6 1398.9,1244.6 1399.8,1262.1 1400.7,1258.8 1401.6,1267.5 1402.5,1260.8 1403.4,1277.3 1404.3,1271.0 1405.2,1281.2 1406.1,1277.1 1407.0,1299.2 1407.9,1286.3 1408.8,1315.5 1409.7,1295.2 1410.6,1309.3 1411.5,1297.5 1412.4,1305.8 1413.3,1302.1 1414.2,1305.9 1415.1,1306.9 1416.0,1309.0 1416.9,1305.9 1417.8,1310.4 1418.7,1307.9 1419.6,1312.7 1420.5,1306.7 1421.4,1312.1 1422.3,1308.2 1423.2,1310.8 1424.1,1306.3 1425.0,1311.0 1425.9,1310.6 1426.8,1311.9 1427.7,1309.9 1428.6,1312.6 1429.5,1311.8 1430.4,1314.8 1431.3,1312.6 1432.2,1313.8 1433.1,1308.4 1434.0,1312.2 1434.9,1309.9 1435.8,1312.8 1436.7,1310.3 1437.6,1313.0 1438.5,1310.7 1439.4,1315.0 1440.3,1312.1 1441.2,1312.7 1442.1,1310.3 1443.0,1312.1 1443.9,1308.9 1444.8,1315.1 1445.7,1310.4 1446.6,1313.9 1447.5,1311.5 1448.4,1312.3 1449.3,1310.0 1450.2,1311.4 1451.1,1311.5 1452.0,1313.4 1452.9,1312.0 1453.8,1315.3 1454.7,1310.3 1455.6,1312.5 1456.5,1311.2 1457.4,1314.1 1458.3,1309.7 1459.2,1314.7 1460.1,1309.8 1461.0,1313.2 1461.9,1310.4 1462.8,1316.2 1463.7,1310.8 1464.6,1309.9 1465.5,1310.1 1466.4,1314.2 1467.3,1307.6 1468.2,1313.7 1469.1,1306.6 1470.0,1314.5 1470.9,1310.0 1471.8,1316.7 1472.7,1310.4 1473.6,1313.9 1474.5,1311.6 1475.4,1316.9 1476.3,1312.1 1477.2,1313.1 1478.1,1310.0 1479.0,1313.4 1479.9,1310.1 1480.8,1313.5 1481.7,1311.5 1482.6,1313.8 1483.5,1309.7 1484.4,1313.8 1485.3,1311.2 1486.2,1314.2 1487.1,1311.9 1488.0,1313.9 1488.9,1312.1 1489.8,1312.7 1490.7,1310.9 1491.6,1312.1 1492.5,1311.4 1493.4,1314.4 1494.3,1312.8 1495.2,1314.0 1496.1,1309.4 1497.0,1314.5 1497.9,1312.0 1498.8,1314.3 1499.7,1308.8 1500.6,1312.3 1501.5,1310.8 1502.4,1312.1 1503.3,1306.7 1504.2,1312.5 1505.1,1309.5 1506.0,1307.9 1506.9,1309.4 1507.8,1315.5 1508.7,1308.3 1509.6,1312.6 1510.5,1306.5 1511.4,1309.9 1512.3,1306.5 1513.2,1315.9 1514.1,1308.5 1515.0,1309.6 1515.9,1306.2 1516.8,1306.9 1517.7,1305.0 1518.6,1306.5 1519.5,1302.8 1520.4,1307.4 1521.3,1302.7 1522.2,1306.8 1523.1,1294.8 1524.0,1301.8 1524.9,1299.1 1525.8,1303.5 1526.7,1298.5 1527.6,1308.6 1528.5,1296.5 1529.4,1300.0 1530.3,1298.8 1531.2,1300.5 1532.1,1298.9 1533.0,1301.0 1533.9,1299.2 1534.8,1304.2 1535.7,1294.8 1536.6,1310.7 1537.5,1302.4 1538.4,1307.5 1539.3,1305.4 1540.2,1310.8 1541.1,1304.3 1542.0,1309.1 1542.9,1308.0 1543.8,1312.7 1544.7,1308.2 1545.6,1311.9 1546.5,1307.9 1547.4,1312.1 1548.3,1309.0 1549.2,1313.3 1550.1,1319.6 1551.0,1313.8 1551.9,1309.8 1552.8,1312.3 1553.7,1308.9 1554.6,1314.3 1555.5,1307.8 1556.4,1314.5 1557.3,1309.1 1558.2,1312.6 1559.1,1310.2 1560.0,1313.6 1560.9,1310.5 1561.8,1315.8 1562.7,1312.3 1563.6,1315.9 1564.5,1311.0 1565.4,1313.8 1566.3,1309.2 1567.2,1312.6 1568.1,1311.7 1569.0,1313.4 1569.9,1310.2 1570.8,1312.3 1571.7,1310.8 1572.6,1313.6 1573.5,1309.7 1574.4,1315.9 1575.3,1311.1 1576.2,1313.8 1577.1,1310.2 1578.0,1313.2 1578.9,1309.8 1579.8,1312.4 1580.7,1310.1 1581.6,1314.7 1582.5,1312.3 1583.4,1315.9 1584.3,1309.5 1585.2,1312.1 1586.1,1311.1 1587.0,1311.7 1587.9,1310.4 1588.8,1312.3 1589.7,1309.8 1590.6,1312.8 1591.5,1311.1 1592.4,1312.0 1593.3,1311.6 1594.2,1312.0 1595.1,1311.9 1596.0,1312.9 1596.9,1308.3 1597.8,1312.9 1598.7,1311.2 1599.6,1311.4 1600.5,1310.3 1601.4,1313.9 1602.3,1313.1 1603.2,1316.1 1604.1,1308.0 1605.0,1311.9 1605.9,1309.6 1606.8,1314.7 1607.7,1310.4 1608.6,1313.2 1609.5,1311.6 1610.4,1315.2 1611.3,1312.5 1612.2,1315.3 1613.1,1311.9 1614.0,1314.1 1614.9,1310.8 1615.8,1315.6 1616.7,1308.7 1617.6,1315.3 1618.5,1310.9 1619.4,1313.3 1620.3,1309.3 1621.2,1313.5 1622.1,1311.4 1623.0,1314.2 1623.9,1312.4 1624.8,1313.7 1625.7,1309.2 1626.6,1317.1 1627.5,1309.4 1628.4,1314.9 1629.3,1311.3 1630.2,1312.7 1631.1,1310.1 1632.0,1313.6 1632.9,1309.2 1633.8,1314.0 1634.7,1311.2 1635.6,1312.8 1636.5,1312.9 1637.4,1313.8 1638.3,1312.0 1639.2,1314.5 1640.1,1312.0 1641.0,1312.5 1641.9,1312.4 1642.8,1313.2 1643.7,1311.8 1644.6,1315.7 1645.5,1313.0 1646.4,1315.9 1647.3,1309.7 1648.2,1314.8 1649.1,1309.3 1650.0,1313.9 1650.9,1311.7 1651.8,1315.6 1652.7,1313.1 1653.6,1313.9 1654.5,1309.9 1655.4,1314.2 1656.3,1310.7 1657.2,1316.6 1658.1,1312.3 1659.0,1314.4 1659.9,1312.0 1660.8,1314.6 1661.7,1311.2 1662.6,1315.9 1663.5,1309.2 1664.4,1313.9 1665.3,1311.4 1666.2,1315.2 1667.1,1309.9 1668.0,1314.2 1668.9,1312.9 1669.8,1314.6 1670.7,1313.4 1671.6,1318.1 1672.5,1310.7 1673.4,1313.9 1674.3,1312.3 1675.2,1313.8 1676.1,1311.7 1677.0,1315.1 1677.9,1313.2 1678.8,1314.9 1679.7,1313.0 1680.6,1314.6 1681.5,1311.2 1682.4,1312.8 1683.3,1310.1 1684.2,1312.6 1685.1,1312.6 1686.0,1313.7 1686.9,1310.9 1687.8,1316.0 1688.7,1310.9 1689.6,1312.6 1690.5,1311.3 1691.4,1317.2 1692.3,1310.9 1693.2,1312.2 1694.1,1310.8 1695.0,1313.9 1695.9,1310.1 1696.8,1317.5 1697.7,1309.1 1698.6,1313.6 1699.5,1309.9 1700.4,1315.3 1701.3,1310.9 1702.2,1313.8 1703.1,1310.4 1704.0,1314.8 1704.9,1310.3 1705.8,1313.8 1706.7,1312.0 1707.6,1312.9 1708.5,1312.5 1709.4,1313.9 1710.3,1312.2 1711.2,1314.5 1712.1,1312.7 1713.0,1314.7 1713.9,1311.9 1714.8,1315.7 1715.7,1311.9 1716.6,1317.5 1717.5,1311.7 1718.4,1316.7 1719.3,1312.8 1720.2,1315.3 1721.1,1310.1 1722.0,1314.4 1722.9,1312.8 1723.8,1314.4 1724.7,1311.4 1725.6,1314.9 1726.5,1312.4 1727.4,1313.5 1728.3,1308.8 1729.2,1315.0 1730.1,1312.0 1731.0,1315.4 1731.9,1312.2 1732.8,1318.2 1733.7,1312.5 1734.6,1315.5 1735.5,1309.3 1736.4,1314.0 1737.3,1312.3 1738.2,1313.8 1739.1,1312.5 1740.0,1315.8 1740.9,1312.1 1741.8,1315.8 1742.7,1312.7 1743.6,1313.6 1744.5,1312.3 1745.4,1314.0 1746.3,1313.3 1747.2,1313.8 1748.1,1313.4 1749.0,1314.6 1749.9,1310.5 1750.8,1315.6 1751.7,1310.6 1752.6,1312.0 1753.5,1307.9 1754.4,1313.8 1755.3,1309.9 1756.2,1314.2 1757.1,1310.7 1758.0,1313.1 1758.9,1312.8 1759.8,1314.0 1760.7,1312.8 1761.6,1316.3 1762.5,1311.1 1763.4,1313.6 1764.3,1310.3 1765.2,1314.0 1766.1,1310.0 1767.0,1316.0 1767.9,1314.5 1768.8,1316.2 1769.7,1313.3 1770.6,1315.9 1771.5,1311.5 1772.4,1314.9 1773.3,1312.6 1774.2,1315.3 1775.1,1312.1 1776.0,1314.0 1776.9,1310.4 1777.8,1314.3 1778.7,1312.3 1779.6,1313.5 1780.5,1309.7 1781.4,1315.7 1782.3,1311.7 1783.2,1313.3 1784.1,1312.2 1785.0,1314.9 1785.9,1311.7 1786.8,1313.9 1787.7,1311.7 1788.6,1313.5 1789.5,1312.8 1790.4,1316.6 1791.3,1313.2 1792.2,1314.0 1793.1,1312.1 1794.0,1313.4 1794.9,1310.5 1795.8,1316.3 1796.7,1312.2 1797.6,1316.6 1798.5,1310.8 1799.4,1315.3 1800.3,1311.9 1801.2,1313.4 1802.1,1310.6 1803.0,1314.6 1803.9,1312.2 1804.8,1313.5 1805.7,1311.4 1806.6,1315.1 1807.5,1313.1 1808.4,1314.8 1809.3,1312.6 1810.2,1314.1 1811.1,1312.4 1812.0,1309.0 1812.9,1311.8 1813.8,1313.9 1814.7,1312.9 1815.6,1313.6 1816.5,1311.8 1817.4,1315.3 1818.3,1313.2 1819.2,1313.6 1820.1,1312.9 1821.0,1314.2 1821.9,1310.1 1822.8,1314.0 1823.7,1313.4 1824.6,1314.3 1825.5,1317.8 1826.4,1315.8 1827.3,1311.0 1828.2,1314.1 1829.1,1310.8"/>
<g fill="#000">
<rect x="34" y="22" width="6" height="1364" rx="1.5"/>
<rect x="35" y="1353" width="1796" height="6"/>
<rect x="214" y="1354" width="6" height="18.5" rx="1.5"/>
<rect x="393" y="1354" width="6" height="32" rx="1.5"/>
<rect x="572" y="1354" width="6" height="18.5" rx="1.5"/>
<rect x="751" y="1354" width="6" height="32" rx="1.5"/>
<rect x="930" y="1354" width="6" height="18.5" rx="1.5"/>
<rect x="1109" y="1354" width="6" height="32" rx="1.5"/>
<rect x="1288" y="1354" width="6" height="18.5" rx="1.5"/>
<rect x="1467" y="1354" width="6" height="32" rx="1.5"/>
<rect x="1646" y="1354" width="6" height="18.5" rx="1.5"/>
<rect x="1826" y="1354" width="6" height="32" rx="1.5"/>
</g>
<text transform="translate(277.86,76.9) scale(0.9719,1)" font-size="74.0">Al</text>
<text transform="translate(99.65,322.9) scale(0.9737,1)" font-size="75.0">Cr</text>
<text transform="translate(164.35,426.0) scale(0.9586,1)" font-size="74.5">Ni</text>
<text transform="translate(337.46,474.9) scale(0.9968,1)" font-size="75.2">Y</text>
<text transform="translate(982.44,444.6) scale(0.9764,1)" font-size="75.0">Cr</text>
<text transform="translate(1165.89,434.8) scale(0.9615,1)" font-size="75.0">Fe</text>
<text transform="translate(1355.58,468.9) scale(0.9536,1)" font-size="74.5">Ni</text>
<text transform="translate(1404.61,373.9) scale(1.019,1)" font-size="51.2" style="word-spacing:1.3px">annealing at 1273K</text>
<text transform="translate(1383.91,605.0) scale(1.0193,1)" font-size="51.2" style="word-spacing:1.3px">annealing at 1173K</text>
<text transform="translate(1399.81,771.1) scale(1.0197,1)" font-size="51.2" style="word-spacing:1.3px">annealing at 1073K</text>
<text transform="translate(1424.51,945.8) scale(1.0187,1)" font-size="51.2" style="word-spacing:1.3px">annealing at 973K</text>
<text transform="translate(1422.6,1093.1) scale(1.0201,1)" font-size="51.2" style="word-spacing:1.3px">annealing at 873K</text>
<text transform="translate(1436.6,1249.7) scale(1.0172,1)" font-size="51.2" style="word-spacing:1.3px">without annealing</text>
<text transform="translate(21.8,1446.4) scale(0.9778,1)" font-size="56.8">0</text>
<text transform="translate(379.91,1446.4) scale(1.0154,1)" font-size="56.8">2</text>
<text transform="translate(737.8,1446.4) scale(0.96,1)" font-size="56.8">4</text>
<text transform="translate(1094.82,1446.4) scale(1.0269,1)" font-size="56.8">6</text>
<text transform="translate(1454.32,1446.4) scale(0.9925,1)" font-size="56.8">8</text>
<text transform="translate(1798.57,1446.4) scale(0.9727,1)" font-size="56.8">10</text>
<text transform="translate(735.4,1560.8) scale(0.9827,1)" font-size="72.8">Energy(Kev)</text>
</svg>
</body></html>
